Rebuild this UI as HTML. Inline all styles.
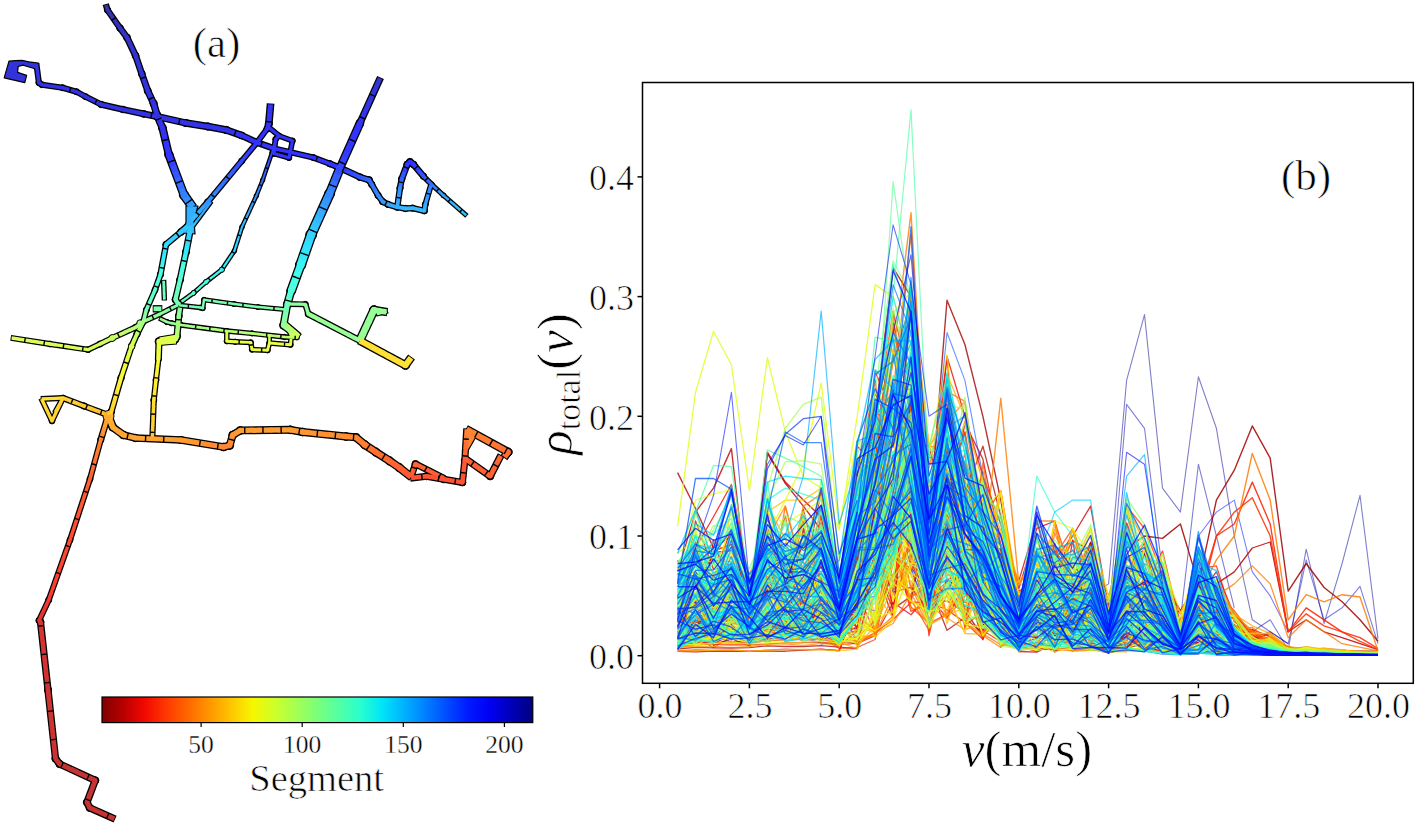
<!DOCTYPE html>
<html><head><meta charset="utf-8"><style>
html,body{margin:0;padding:0;background:#fff;overflow:hidden}
svg{display:block}
</style></head><body>
<svg width="1416" height="826" viewBox="0 0 1416 826">
<rect width="1416" height="826" fill="#fff"/>
<defs><linearGradient id="cb" x1="0" x2="1" y1="0" y2="0"><stop offset="0.000" stop-color="#800000"/><stop offset="0.050" stop-color="#b90000"/><stop offset="0.100" stop-color="#f30900"/><stop offset="0.150" stop-color="#ff3900"/><stop offset="0.200" stop-color="#ff6800"/><stop offset="0.250" stop-color="#ff9700"/><stop offset="0.300" stop-color="#ffc600"/><stop offset="0.350" stop-color="#f7f600"/><stop offset="0.400" stop-color="#ceff29"/><stop offset="0.450" stop-color="#a5ff52"/><stop offset="0.500" stop-color="#7bff7b"/><stop offset="0.550" stop-color="#52ffa5"/><stop offset="0.600" stop-color="#29ffce"/><stop offset="0.650" stop-color="#00e5f7"/><stop offset="0.700" stop-color="#00b3ff"/><stop offset="0.750" stop-color="#0080ff"/><stop offset="0.800" stop-color="#004cff"/><stop offset="0.850" stop-color="#001aff"/><stop offset="0.900" stop-color="#0000f3"/><stop offset="0.950" stop-color="#0000b9"/><stop offset="1.000" stop-color="#000080"/></linearGradient><clipPath id="axclip"><rect x="642.5" y="82.5" width="770.8" height="600.8"/></clipPath></defs>
<g stroke="#000" fill="#000" stroke-linecap="butt"><line x1="105.7" y1="4.1" x2="107.5" y2="10.0" stroke-width="6.4"/><line x1="107.5" y1="10.0" x2="120.0" y2="28.0" stroke-width="6.5"/><line x1="120.0" y1="28.0" x2="127.0" y2="37.5" stroke-width="6.8"/><line x1="127.0" y1="37.5" x2="135.6" y2="55.7" stroke-width="6.9"/><line x1="135.6" y1="55.7" x2="141.8" y2="73.8" stroke-width="6.9"/><line x1="141.8" y1="73.8" x2="147.7" y2="90.7" stroke-width="7.0"/><line x1="147.7" y1="90.7" x2="153.6" y2="103.5" stroke-width="7.2"/><line x1="153.6" y1="103.5" x2="157.0" y2="115.0" stroke-width="7.5"/><line x1="157.0" y1="115.0" x2="162.5" y2="128.0" stroke-width="7.8"/><line x1="162.5" y1="128.0" x2="168.8" y2="154.4" stroke-width="8.2"/><line x1="168.8" y1="154.4" x2="184.0" y2="195.0" stroke-width="8.9"/><line x1="184.0" y1="195.0" x2="193.0" y2="207.7" stroke-width="9.7"/><circle cx="107.5" cy="10.0" r="3.20"/><circle cx="120.0" cy="28.0" r="3.35"/><circle cx="127.0" cy="37.5" r="3.45"/><circle cx="135.6" cy="55.7" r="3.45"/><circle cx="141.8" cy="73.8" r="3.45"/><circle cx="147.7" cy="90.7" r="3.55"/><circle cx="153.6" cy="103.5" r="3.70"/><circle cx="157.0" cy="115.0" r="3.85"/><circle cx="162.5" cy="128.0" r="3.95"/><circle cx="168.8" cy="154.4" r="4.20"/><circle cx="184.0" cy="195.0" r="4.70"/><line x1="36.3" y1="63.1" x2="38.9" y2="82.7" stroke-width="6.1"/><line x1="38.9" y1="82.7" x2="41.9" y2="84.7" stroke-width="6.1"/><line x1="41.9" y1="84.7" x2="62.6" y2="87.7" stroke-width="6.1"/><line x1="62.6" y1="87.7" x2="76.5" y2="91.7" stroke-width="6.1"/><line x1="76.5" y1="91.7" x2="85.4" y2="96.6" stroke-width="6.1"/><line x1="85.4" y1="96.6" x2="101.2" y2="104.5" stroke-width="6.2"/><line x1="101.2" y1="104.5" x2="123.0" y2="109.5" stroke-width="6.5"/><line x1="123.0" y1="109.5" x2="143.7" y2="113.9" stroke-width="6.8"/><line x1="143.7" y1="113.9" x2="157.0" y2="116.5" stroke-width="7.0"/><line x1="157.0" y1="116.5" x2="185.8" y2="123.0" stroke-width="7.2"/><line x1="185.8" y1="123.0" x2="207.8" y2="126.5" stroke-width="7.4"/><line x1="207.8" y1="126.5" x2="226.4" y2="130.0" stroke-width="7.4"/><line x1="226.4" y1="130.0" x2="241.7" y2="135.5" stroke-width="7.2"/><line x1="241.7" y1="135.5" x2="257.0" y2="142.5" stroke-width="7.0"/><line x1="257.0" y1="142.5" x2="274.0" y2="148.5" stroke-width="6.7"/><line x1="274.0" y1="148.5" x2="290.6" y2="152.3" stroke-width="6.2"/><line x1="290.6" y1="152.3" x2="313.2" y2="157.5" stroke-width="6.1"/><line x1="313.2" y1="157.5" x2="329.7" y2="163.7" stroke-width="6.2"/><line x1="329.7" y1="163.7" x2="340.0" y2="167.8" stroke-width="6.7"/><line x1="340.0" y1="167.8" x2="360.0" y2="177.2" stroke-width="6.9"/><line x1="360.0" y1="177.2" x2="369.1" y2="180.0" stroke-width="6.9"/><line x1="369.1" y1="180.0" x2="371.8" y2="184.5" stroke-width="6.7"/><line x1="371.8" y1="184.5" x2="378.1" y2="195.4" stroke-width="6.4"/><line x1="378.1" y1="195.4" x2="382.7" y2="201.7" stroke-width="6.4"/><line x1="382.7" y1="201.7" x2="388.1" y2="204.4" stroke-width="6.4"/><line x1="388.1" y1="204.4" x2="397.2" y2="207.2" stroke-width="6.4"/><line x1="397.2" y1="207.2" x2="405.4" y2="208.5" stroke-width="6.4"/><line x1="405.4" y1="208.5" x2="412.6" y2="208.1" stroke-width="6.4"/><line x1="412.6" y1="208.1" x2="424.4" y2="210.8" stroke-width="6.4"/><line x1="424.4" y1="210.8" x2="425.3" y2="204.4" stroke-width="6.2"/><line x1="425.3" y1="204.4" x2="431.1" y2="184.5" stroke-width="6.0"/><circle cx="38.9" cy="82.7" r="3.05"/><circle cx="41.9" cy="84.7" r="3.05"/><circle cx="62.6" cy="87.7" r="3.05"/><circle cx="76.5" cy="91.7" r="3.05"/><circle cx="85.4" cy="96.6" r="3.05"/><circle cx="101.2" cy="104.5" r="3.20"/><circle cx="123.0" cy="109.5" r="3.35"/><circle cx="143.7" cy="113.9" r="3.45"/><circle cx="157.0" cy="116.5" r="3.55"/><circle cx="185.8" cy="123.0" r="3.70"/><circle cx="207.8" cy="126.5" r="3.70"/><circle cx="226.4" cy="130.0" r="3.70"/><circle cx="241.7" cy="135.5" r="3.55"/><circle cx="257.0" cy="142.5" r="3.45"/><circle cx="274.0" cy="148.5" r="3.20"/><circle cx="290.6" cy="152.3" r="3.05"/><circle cx="313.2" cy="157.5" r="3.05"/><circle cx="329.7" cy="163.7" r="3.20"/><circle cx="340.0" cy="167.8" r="3.45"/><circle cx="360.0" cy="177.2" r="3.45"/><circle cx="369.1" cy="180.0" r="3.45"/><circle cx="371.8" cy="184.5" r="3.20"/><circle cx="378.1" cy="195.4" r="3.20"/><circle cx="382.7" cy="201.7" r="3.20"/><circle cx="388.1" cy="204.4" r="3.20"/><circle cx="397.2" cy="207.2" r="3.20"/><circle cx="405.4" cy="208.5" r="3.20"/><circle cx="412.6" cy="208.1" r="3.20"/><circle cx="424.4" cy="210.8" r="3.20"/><circle cx="425.3" cy="204.4" r="3.05"/><line x1="397.1" y1="208.1" x2="400.0" y2="188.1" stroke-width="6.4"/><line x1="400.0" y1="188.1" x2="401.7" y2="179.0" stroke-width="6.5"/><line x1="401.7" y1="179.0" x2="407.2" y2="164.5" stroke-width="6.8"/><line x1="407.2" y1="164.5" x2="410.0" y2="161.8" stroke-width="6.9"/><line x1="410.0" y1="161.8" x2="413.5" y2="164.5" stroke-width="6.9"/><line x1="413.5" y1="164.5" x2="423.5" y2="176.3" stroke-width="6.7"/><line x1="423.5" y1="176.3" x2="431.7" y2="184.5" stroke-width="5.9"/><line x1="431.7" y1="184.5" x2="443.5" y2="195.4" stroke-width="5.2"/><line x1="443.5" y1="195.4" x2="466.9" y2="215.9" stroke-width="5.0"/><circle cx="400.0" cy="188.1" r="3.20"/><circle cx="401.7" cy="179.0" r="3.35"/><circle cx="407.2" cy="164.5" r="3.45"/><circle cx="410.0" cy="161.8" r="3.45"/><circle cx="413.5" cy="164.5" r="3.45"/><circle cx="423.5" cy="176.3" r="3.20"/><circle cx="431.7" cy="184.5" r="2.70"/><circle cx="443.5" cy="195.4" r="2.55"/><line x1="380.5" y1="77.4" x2="360.0" y2="123.0" stroke-width="7.4"/><line x1="360.0" y1="123.0" x2="340.0" y2="168.0" stroke-width="8.7"/><line x1="340.0" y1="168.0" x2="329.7" y2="193.5" stroke-width="9.7"/><line x1="329.7" y1="193.5" x2="311.2" y2="234.7" stroke-width="10.4"/><line x1="311.2" y1="234.7" x2="300.6" y2="265.0" stroke-width="10.7"/><line x1="300.6" y1="265.0" x2="291.1" y2="291.0" stroke-width="9.7"/><line x1="291.1" y1="291.0" x2="287.3" y2="304.3" stroke-width="8.4"/><line x1="287.3" y1="304.3" x2="283.5" y2="325.3" stroke-width="7.9"/><line x1="283.5" y1="325.3" x2="299.4" y2="337.2" stroke-width="8.2"/><circle cx="360.0" cy="123.0" r="3.95"/><circle cx="340.0" cy="168.0" r="4.70"/><circle cx="329.7" cy="193.5" r="4.95"/><circle cx="311.2" cy="234.7" r="5.45"/><circle cx="300.6" cy="265.0" r="5.20"/><circle cx="291.1" cy="291.0" r="4.45"/><circle cx="287.3" cy="304.3" r="3.95"/><circle cx="283.5" cy="325.3" r="3.95"/><line x1="270.6" y1="103.5" x2="268.8" y2="124.0" stroke-width="7.7"/><line x1="268.8" y1="124.0" x2="267.0" y2="129.0" stroke-width="6.9"/><line x1="267.0" y1="129.0" x2="257.0" y2="142.5" stroke-width="6.2"/><line x1="257.0" y1="142.5" x2="241.7" y2="161.0" stroke-width="6.1"/><line x1="241.7" y1="161.0" x2="207.8" y2="201.9" stroke-width="6.2"/><line x1="207.8" y1="201.9" x2="191.4" y2="220.7" stroke-width="6.4"/><circle cx="268.8" cy="124.0" r="3.70"/><circle cx="267.0" cy="129.0" r="3.20"/><circle cx="257.0" cy="142.5" r="3.05"/><circle cx="241.7" cy="161.0" r="3.05"/><circle cx="207.8" cy="201.9" r="3.20"/><line x1="268.1" y1="126.7" x2="279.0" y2="135.8" stroke-width="5.7"/><line x1="279.0" y1="135.8" x2="292.5" y2="140.8" stroke-width="5.7"/><line x1="292.5" y1="140.8" x2="289.0" y2="157.8" stroke-width="5.7"/><line x1="289.0" y1="157.8" x2="274.0" y2="153.6" stroke-width="5.7"/><line x1="274.0" y1="153.6" x2="275.6" y2="139.2" stroke-width="5.7"/><line x1="275.6" y1="139.2" x2="279.6" y2="135.2" stroke-width="5.7"/><circle cx="279.0" cy="135.8" r="2.85"/><circle cx="292.5" cy="140.8" r="2.85"/><circle cx="289.0" cy="157.8" r="2.85"/><circle cx="274.0" cy="153.6" r="2.85"/><circle cx="275.6" cy="139.2" r="2.85"/><line x1="275.8" y1="138.1" x2="272.0" y2="152.7" stroke-width="4.5"/><line x1="272.0" y1="152.7" x2="262.7" y2="180.0" stroke-width="4.5"/><line x1="262.7" y1="180.0" x2="256.4" y2="195.7" stroke-width="4.5"/><line x1="256.4" y1="195.7" x2="242.0" y2="227.0" stroke-width="4.6"/><line x1="242.0" y1="227.0" x2="234.4" y2="250.8" stroke-width="4.7"/><line x1="234.4" y1="250.8" x2="221.8" y2="269.7" stroke-width="4.8"/><line x1="221.8" y1="269.7" x2="206.0" y2="282.0" stroke-width="4.9"/><line x1="206.0" y1="282.0" x2="193.5" y2="293.0" stroke-width="4.9"/><line x1="193.5" y1="293.0" x2="177.1" y2="304.8" stroke-width="4.9"/><circle cx="272.0" cy="152.7" r="2.25"/><circle cx="262.7" cy="180.0" r="2.25"/><circle cx="256.4" cy="195.7" r="2.25"/><circle cx="242.0" cy="227.0" r="2.35"/><circle cx="234.4" cy="250.8" r="2.35"/><circle cx="221.8" cy="269.7" r="2.45"/><circle cx="206.0" cy="282.0" r="2.45"/><circle cx="193.5" cy="293.0" r="2.45"/><line x1="188.7" y1="225.4" x2="181.0" y2="232.0" stroke-width="7.4"/><line x1="181.0" y1="232.0" x2="166.0" y2="244.5" stroke-width="6.7"/><line x1="166.0" y1="244.5" x2="160.5" y2="274.4" stroke-width="6.4"/><line x1="160.5" y1="274.4" x2="155.0" y2="290.0" stroke-width="6.2"/><line x1="155.0" y1="290.0" x2="146.3" y2="310.0" stroke-width="6.1"/><line x1="146.3" y1="310.0" x2="143.1" y2="322.5" stroke-width="6.1"/><circle cx="181.0" cy="232.0" r="3.45"/><circle cx="166.0" cy="244.5" r="3.25"/><circle cx="160.5" cy="274.4" r="3.15"/><circle cx="155.0" cy="290.0" r="3.05"/><circle cx="146.3" cy="310.0" r="3.05"/><line x1="191.2" y1="225.1" x2="186.0" y2="252.0" stroke-width="7.2"/><line x1="186.0" y1="252.0" x2="180.0" y2="280.0" stroke-width="7.0"/><line x1="180.0" y1="280.0" x2="175.4" y2="299.6" stroke-width="6.9"/><line x1="175.4" y1="299.6" x2="179.3" y2="305.8" stroke-width="6.9"/><circle cx="186.0" cy="252.0" r="3.55"/><circle cx="180.0" cy="280.0" r="3.45"/><circle cx="175.4" cy="299.6" r="3.45"/><line x1="177.9" y1="305.1" x2="200.4" y2="307.6" stroke-width="5.1"/><line x1="200.4" y1="307.6" x2="202.8" y2="308.2" stroke-width="5.1"/><line x1="202.8" y1="308.2" x2="204.0" y2="299.8" stroke-width="5.1"/><line x1="204.0" y1="299.8" x2="234.0" y2="304.0" stroke-width="5.1"/><line x1="234.0" y1="304.0" x2="258.0" y2="307.0" stroke-width="5.1"/><line x1="258.0" y1="307.0" x2="285.4" y2="309.5" stroke-width="5.1"/><circle cx="200.4" cy="307.6" r="2.55"/><circle cx="202.8" cy="308.2" r="2.55"/><circle cx="204.0" cy="299.8" r="2.55"/><circle cx="234.0" cy="304.0" r="2.55"/><circle cx="258.0" cy="307.0" r="2.55"/><line x1="159.2" y1="318.2" x2="166.8" y2="322.0" stroke-width="5.3"/><line x1="166.8" y1="322.0" x2="171.6" y2="323.2" stroke-width="5.3"/><line x1="171.6" y1="323.2" x2="181.2" y2="325.0" stroke-width="5.3"/><line x1="181.2" y1="325.0" x2="226.8" y2="331.0" stroke-width="5.3"/><line x1="226.8" y1="331.0" x2="252.0" y2="333.4" stroke-width="5.3"/><line x1="252.0" y1="333.4" x2="284.5" y2="337.0" stroke-width="5.3"/><line x1="284.5" y1="337.0" x2="298.6" y2="337.6" stroke-width="5.3"/><circle cx="166.8" cy="322.0" r="2.65"/><circle cx="171.6" cy="323.2" r="2.65"/><circle cx="181.2" cy="325.0" r="2.65"/><circle cx="226.8" cy="331.0" r="2.65"/><circle cx="252.0" cy="333.4" r="2.65"/><circle cx="284.5" cy="337.0" r="2.65"/><line x1="226.8" y1="330.1" x2="226.8" y2="341.2" stroke-width="5.5"/><line x1="226.8" y1="341.2" x2="235.2" y2="341.8" stroke-width="5.5"/><line x1="235.2" y1="341.8" x2="250.8" y2="342.4" stroke-width="5.5"/><line x1="250.8" y1="342.4" x2="252.0" y2="349.6" stroke-width="5.5"/><line x1="252.0" y1="349.6" x2="267.6" y2="350.2" stroke-width="5.5"/><line x1="267.6" y1="350.2" x2="269.4" y2="343.0" stroke-width="5.5"/><line x1="269.4" y1="343.0" x2="290.5" y2="344.8" stroke-width="5.5"/><line x1="290.5" y1="344.8" x2="291.1" y2="337.9" stroke-width="5.5"/><circle cx="226.8" cy="341.2" r="2.75"/><circle cx="235.2" cy="341.8" r="2.75"/><circle cx="250.8" cy="342.4" r="2.75"/><circle cx="252.0" cy="349.6" r="2.75"/><circle cx="267.6" cy="350.2" r="2.75"/><circle cx="269.4" cy="343.0" r="2.75"/><circle cx="290.5" cy="344.8" r="2.75"/><line x1="269.4" y1="343.9" x2="269.4" y2="334.3" stroke-width="5.1"/><line x1="180.1" y1="306.7" x2="178.8" y2="316.0" stroke-width="6.9"/><line x1="178.8" y1="316.0" x2="177.0" y2="336.4" stroke-width="7.0"/><line x1="177.0" y1="336.4" x2="175.2" y2="339.0" stroke-width="7.5"/><line x1="175.2" y1="339.0" x2="159.0" y2="341.5" stroke-width="7.9"/><line x1="159.0" y1="341.5" x2="158.4" y2="359.2" stroke-width="7.0"/><line x1="158.4" y1="359.2" x2="156.0" y2="380.0" stroke-width="6.1"/><line x1="156.0" y1="380.0" x2="153.8" y2="400.0" stroke-width="6.1"/><line x1="153.8" y1="400.0" x2="152.3" y2="438.9" stroke-width="6.1"/><circle cx="178.8" cy="316.0" r="3.45"/><circle cx="177.0" cy="336.4" r="3.55"/><circle cx="175.2" cy="339.0" r="3.95"/><circle cx="159.0" cy="341.5" r="3.95"/><circle cx="158.4" cy="359.2" r="3.05"/><circle cx="156.0" cy="380.0" r="3.05"/><circle cx="153.8" cy="400.0" r="3.05"/><line x1="10.7" y1="337.9" x2="50.0" y2="344.0" stroke-width="5.9"/><line x1="50.0" y1="344.0" x2="88.0" y2="349.7" stroke-width="5.9"/><line x1="88.0" y1="349.7" x2="100.0" y2="344.0" stroke-width="6.0"/><line x1="100.0" y1="344.0" x2="112.3" y2="338.0" stroke-width="6.2"/><line x1="112.3" y1="338.0" x2="135.5" y2="327.4" stroke-width="6.2"/><line x1="135.5" y1="327.4" x2="143.3" y2="321.6" stroke-width="6.1"/><line x1="143.3" y1="321.6" x2="160.0" y2="314.0" stroke-width="5.9"/><line x1="160.0" y1="314.0" x2="178.8" y2="304.6" stroke-width="5.6"/><circle cx="50.0" cy="344.0" r="2.95"/><circle cx="88.0" cy="349.7" r="2.95"/><circle cx="100.0" cy="344.0" r="3.05"/><circle cx="112.3" cy="338.0" r="3.20"/><circle cx="135.5" cy="327.4" r="3.05"/><circle cx="143.3" cy="321.6" r="3.05"/><circle cx="160.0" cy="314.0" r="2.85"/><line x1="143.7" y1="320.8" x2="137.0" y2="334.0" stroke-width="6.5"/><line x1="137.0" y1="334.0" x2="131.7" y2="345.8" stroke-width="6.5"/><line x1="131.7" y1="345.8" x2="121.0" y2="378.0" stroke-width="6.5"/><line x1="121.0" y1="378.0" x2="111.3" y2="411.7" stroke-width="6.6"/><line x1="111.3" y1="411.7" x2="107.9" y2="416.3" stroke-width="7.0"/><circle cx="137.0" cy="334.0" r="3.25"/><circle cx="131.7" cy="345.8" r="3.25"/><circle cx="121.0" cy="378.0" r="3.25"/><circle cx="111.3" cy="411.7" r="3.35"/><line x1="40.7" y1="399.0" x2="63.0" y2="398.0" stroke-width="5.9"/><line x1="63.0" y1="398.0" x2="52.0" y2="421.0" stroke-width="5.9"/><line x1="52.0" y1="421.0" x2="41.2" y2="398.2" stroke-width="5.9"/><circle cx="63.0" cy="398.0" r="2.95"/><circle cx="52.0" cy="421.0" r="2.95"/><line x1="63.4" y1="397.2" x2="54.6" y2="412.8" stroke-width="5.4"/><line x1="62.2" y1="397.7" x2="84.0" y2="406.0" stroke-width="6.4"/><line x1="84.0" y1="406.0" x2="105.4" y2="413.9" stroke-width="6.4"/><circle cx="84.0" cy="406.0" r="3.20"/><line x1="107.9" y1="414.4" x2="112.8" y2="427.3" stroke-width="8.4"/><line x1="112.8" y1="427.3" x2="123.4" y2="435.0" stroke-width="7.9"/><line x1="123.4" y1="435.0" x2="135.5" y2="438.0" stroke-width="7.7"/><line x1="135.5" y1="438.0" x2="181.0" y2="440.0" stroke-width="7.4"/><line x1="181.0" y1="440.0" x2="223.6" y2="447.0" stroke-width="7.7"/><line x1="223.6" y1="447.0" x2="229.7" y2="445.5" stroke-width="7.9"/><line x1="229.7" y1="445.5" x2="232.7" y2="435.0" stroke-width="7.9"/><line x1="232.7" y1="435.0" x2="240.3" y2="430.4" stroke-width="7.9"/><line x1="240.3" y1="430.4" x2="290.4" y2="429.8" stroke-width="7.9"/><line x1="290.4" y1="429.8" x2="302.6" y2="432.0" stroke-width="7.9"/><line x1="302.6" y1="432.0" x2="346.0" y2="436.5" stroke-width="7.9"/><line x1="346.0" y1="436.5" x2="356.0" y2="437.3" stroke-width="7.9"/><line x1="356.0" y1="437.3" x2="364.7" y2="444.7" stroke-width="8.2"/><line x1="364.7" y1="444.7" x2="375.8" y2="452.1" stroke-width="8.4"/><line x1="375.8" y1="452.1" x2="389.4" y2="460.8" stroke-width="8.4"/><line x1="389.4" y1="460.8" x2="399.3" y2="467.6" stroke-width="8.4"/><line x1="399.3" y1="467.6" x2="411.8" y2="477.5" stroke-width="8.4"/><circle cx="112.8" cy="427.3" r="3.95"/><circle cx="123.4" cy="435.0" r="3.95"/><circle cx="135.5" cy="438.0" r="3.70"/><circle cx="181.0" cy="440.0" r="3.70"/><circle cx="223.6" cy="447.0" r="3.95"/><circle cx="229.7" cy="445.5" r="3.95"/><circle cx="232.7" cy="435.0" r="3.95"/><circle cx="240.3" cy="430.4" r="3.95"/><circle cx="290.4" cy="429.8" r="3.95"/><circle cx="302.6" cy="432.0" r="3.95"/><circle cx="346.0" cy="436.5" r="3.95"/><circle cx="356.0" cy="437.3" r="3.95"/><circle cx="364.7" cy="444.7" r="4.20"/><circle cx="375.8" cy="452.1" r="4.20"/><circle cx="389.4" cy="460.8" r="4.20"/><circle cx="399.3" cy="467.6" r="4.20"/><line x1="410.8" y1="477.8" x2="415.4" y2="463.9" stroke-width="6.9"/><line x1="415.4" y1="463.9" x2="444.6" y2="478.5" stroke-width="6.9"/><circle cx="415.4" cy="463.9" r="3.45"/><line x1="410.2" y1="478.2" x2="426.5" y2="476.2" stroke-width="7.1"/><line x1="426.5" y1="476.2" x2="443.8" y2="479.3" stroke-width="7.1"/><line x1="443.8" y1="479.3" x2="462.4" y2="482.4" stroke-width="7.1"/><line x1="462.4" y1="482.4" x2="464.8" y2="460.8" stroke-width="7.1"/><line x1="464.8" y1="460.8" x2="466.8" y2="428.4" stroke-width="7.1"/><circle cx="426.5" cy="476.2" r="3.55"/><circle cx="443.8" cy="479.3" r="3.55"/><circle cx="462.4" cy="482.4" r="3.55"/><circle cx="464.8" cy="460.8" r="3.55"/><line x1="465.9" y1="428.9" x2="508.1" y2="452.1" stroke-width="8.4"/><line x1="508.1" y1="452.1" x2="503.9" y2="457.8" stroke-width="8.4"/><circle cx="508.1" cy="452.1" r="4.20"/><line x1="501.1" y1="455.0" x2="490.2" y2="476.2" stroke-width="7.4"/><line x1="490.2" y1="476.2" x2="464.1" y2="457.8" stroke-width="7.4"/><circle cx="490.2" cy="476.2" r="3.70"/><line x1="108.5" y1="414.3" x2="100.7" y2="440.0" stroke-width="6.8"/><line x1="100.7" y1="440.0" x2="90.0" y2="479.0" stroke-width="6.2"/><line x1="90.0" y1="479.0" x2="70.0" y2="540.0" stroke-width="6.1"/><line x1="70.0" y1="540.0" x2="48.7" y2="600.0" stroke-width="6.1"/><line x1="48.7" y1="600.0" x2="39.1" y2="620.5" stroke-width="6.3"/><line x1="39.1" y1="620.5" x2="40.5" y2="622.0" stroke-width="6.8"/><line x1="40.5" y1="622.0" x2="48.0" y2="690.0" stroke-width="7.2"/><line x1="48.0" y1="690.0" x2="55.5" y2="758.6" stroke-width="7.3"/><line x1="55.5" y1="758.6" x2="59.6" y2="764.0" stroke-width="7.4"/><line x1="59.6" y1="764.0" x2="95.2" y2="780.4" stroke-width="7.4"/><line x1="95.2" y1="780.4" x2="87.0" y2="802.3" stroke-width="7.4"/><line x1="87.0" y1="802.3" x2="89.7" y2="807.8" stroke-width="7.4"/><line x1="89.7" y1="807.8" x2="115.1" y2="819.1" stroke-width="7.4"/><circle cx="100.7" cy="440.0" r="3.15"/><circle cx="90.0" cy="479.0" r="3.05"/><circle cx="70.0" cy="540.0" r="3.05"/><circle cx="48.7" cy="600.0" r="3.05"/><circle cx="39.1" cy="620.5" r="3.25"/><circle cx="40.5" cy="622.0" r="3.55"/><circle cx="48.0" cy="690.0" r="3.65"/><circle cx="55.5" cy="758.6" r="3.70"/><circle cx="59.6" cy="764.0" r="3.70"/><circle cx="95.2" cy="780.4" r="3.70"/><circle cx="87.0" cy="802.3" r="3.70"/><circle cx="89.7" cy="807.8" r="3.70"/><line x1="286.1" y1="304.0" x2="305.4" y2="304.3" stroke-width="5.8"/><line x1="305.4" y1="304.3" x2="308.3" y2="313.9" stroke-width="6.2"/><line x1="308.3" y1="313.9" x2="360.6" y2="341.0" stroke-width="6.9"/><circle cx="305.4" cy="304.3" r="2.95"/><circle cx="308.3" cy="313.9" r="3.20"/><line x1="359.4" y1="341.4" x2="374.0" y2="310.0" stroke-width="9.2"/><line x1="374.0" y1="310.0" x2="387.4" y2="312.1" stroke-width="8.4"/><circle cx="374.0" cy="310.0" r="4.45"/><line x1="359.0" y1="340.2" x2="405.5" y2="365.3" stroke-width="8.4"/><line x1="405.5" y1="365.3" x2="411.5" y2="357.0" stroke-width="8.4"/><circle cx="405.5" cy="365.3" r="4.20"/><line x1="163.6" y1="279.8" x2="164.4" y2="300.5" stroke-width="5.4"/><line x1="152.7" y1="308.8" x2="162.3" y2="308.8" stroke-width="7.4"/><line x1="211.5" y1="201.3" x2="192.5" y2="226.7" stroke-width="4.9"/></g>
<polygon points="9.0,61.2 15.7,60.6 21.8,60.3 29.0,61.8 38.1,63.0 37.0,70.0 33.3,68.2 23.0,65.1 18.2,66.3 17.6,72.4 26.6,75.4 24.8,82.7 4.2,77.8" fill="#3333da" stroke="#000" stroke-width="1.2" stroke-linejoin="round"/>
<polygon points="186.0,206.0 198.0,206.0 194.0,221.0 195.0,234.0 183.0,233.0 186.0,222.0" fill="#33b1ff" stroke="#000" stroke-width="1.2" stroke-linejoin="round"/>
<polygon points="466.7,429.3 477.2,434.8 463.6,458.3" fill="#ff8633" stroke="#000" stroke-width="1.2" stroke-linejoin="round"/>
<polygon points="159.0,337.0 177.0,334.0 176.5,344.0 159.0,345.5" fill="#e5ff47" stroke="#000" stroke-width="1.2" stroke-linejoin="round"/>
<polygon points="283.0,322.0 287.0,322.0 300.0,333.0 299.0,339.0 290.0,338.0" fill="#caff61" stroke="#000" stroke-width="1.2" stroke-linejoin="round"/>
<polygon points="373.0,307.0 386.0,309.0 388.0,313.0 377.0,316.0" fill="#96ff96" stroke="#000" stroke-width="1.2" stroke-linejoin="round"/>
<circle cx="112.3" cy="338.0" r="3.4" fill="#caff61" stroke="#000" stroke-width="1"/>
<circle cx="131.7" cy="346.5" r="3.2" fill="#d8ff54" stroke="#000" stroke-width="1"/>
<circle cx="140.0" cy="323.0" r="3.2" fill="#a3ff89" stroke="#000" stroke-width="1"/>
<circle cx="221.8" cy="269.7" r="2.6" fill="#3af3f2" stroke="#000" stroke-width="1"/>
<circle cx="206.0" cy="282.0" r="2.4" fill="#47ffe5" stroke="#000" stroke-width="1"/>
<circle cx="193.5" cy="293.0" r="2.4" fill="#5affd1" stroke="#000" stroke-width="1"/>
<circle cx="108.5" cy="416.0" r="5.5" fill="#ffac33" stroke="#000" stroke-width="1"/>
<g stroke-linecap="butt" fill="none"><line x1="106.0" y1="5.0" x2="107.5" y2="10.0" stroke="#3333b0" stroke-width="3.8"/><line x1="107.5" y1="10.0" x2="111.8" y2="16.2" stroke="#3333b6" stroke-width="3.9"/><line x1="111.5" y1="15.8" x2="116.0" y2="22.2" stroke="#3333b9" stroke-width="3.9"/><line x1="115.7" y1="21.8" x2="120.0" y2="28.0" stroke="#3333bd" stroke-width="3.9"/><line x1="120.0" y1="28.0" x2="127.0" y2="37.5" stroke="#3333c3" stroke-width="4.2"/><line x1="127.0" y1="37.5" x2="130.0" y2="43.8" stroke="#3333c9" stroke-width="4.3"/><line x1="129.7" y1="43.3" x2="132.9" y2="49.9" stroke="#3333cc" stroke-width="4.3"/><line x1="132.6" y1="49.4" x2="135.6" y2="55.7" stroke="#3333cf" stroke-width="4.3"/><line x1="135.6" y1="55.7" x2="137.8" y2="62.0" stroke="#3333d2" stroke-width="4.3"/><line x1="137.6" y1="61.4" x2="139.8" y2="68.1" stroke="#3333d5" stroke-width="4.3"/><line x1="139.6" y1="67.5" x2="141.8" y2="73.8" stroke="#3333d8" stroke-width="4.3"/><line x1="141.8" y1="73.8" x2="144.8" y2="82.5" stroke="#3333db" stroke-width="4.4"/><line x1="144.7" y1="82.0" x2="147.7" y2="90.7" stroke="#3333dd" stroke-width="4.4"/><line x1="147.7" y1="90.7" x2="150.8" y2="97.4" stroke="#3333e0" stroke-width="4.7"/><line x1="150.5" y1="96.8" x2="153.6" y2="103.5" stroke="#3333e2" stroke-width="4.7"/><line x1="153.6" y1="103.5" x2="157.0" y2="115.0" stroke="#3333e6" stroke-width="4.9"/><line x1="157.0" y1="115.0" x2="159.9" y2="121.8" stroke="#3333e9" stroke-width="5.2"/><line x1="159.6" y1="121.2" x2="162.5" y2="128.0" stroke="#3333eb" stroke-width="5.2"/><line x1="162.5" y1="128.0" x2="164.1" y2="134.9" stroke="#3333f0" stroke-width="5.5"/><line x1="164.0" y1="134.3" x2="165.7" y2="141.5" stroke="#3333f7" stroke-width="5.5"/><line x1="165.6" y1="140.9" x2="167.3" y2="148.1" stroke="#3333fe" stroke-width="5.5"/><line x1="167.2" y1="147.5" x2="168.8" y2="154.4" stroke="#3333ff" stroke-width="5.5"/><line x1="168.8" y1="154.4" x2="171.1" y2="160.5" stroke="#3335ff" stroke-width="6.3"/><line x1="170.9" y1="159.9" x2="173.2" y2="166.3" stroke="#3340ff" stroke-width="6.3"/><line x1="173.0" y1="165.7" x2="175.4" y2="172.1" stroke="#334cff" stroke-width="6.3"/><line x1="175.2" y1="171.5" x2="177.6" y2="177.9" stroke="#3358ff" stroke-width="6.3"/><line x1="177.4" y1="177.3" x2="179.8" y2="183.7" stroke="#3363ff" stroke-width="6.3"/><line x1="179.6" y1="183.1" x2="181.9" y2="189.5" stroke="#336fff" stroke-width="6.3"/><line x1="181.7" y1="188.9" x2="184.0" y2="195.0" stroke="#337bff" stroke-width="6.3"/><line x1="184.0" y1="195.0" x2="188.4" y2="201.2" stroke="#338bff" stroke-width="7.1"/><line x1="188.1" y1="200.8" x2="192.5" y2="207.0" stroke="#339fff" stroke-width="7.1"/><circle cx="107.5" cy="10.0" r="1.90" fill="#3333b5"/><circle cx="120.0" cy="28.0" r="2.05" fill="#3333be"/><circle cx="127.0" cy="37.5" r="2.15" fill="#3333c7"/><circle cx="135.6" cy="55.7" r="2.15" fill="#3333d1"/><circle cx="141.8" cy="73.8" r="2.15" fill="#3333da"/><circle cx="147.7" cy="90.7" r="2.25" fill="#3333df"/><circle cx="153.6" cy="103.5" r="2.40" fill="#3333e3"/><circle cx="157.0" cy="115.0" r="2.55" fill="#3333e8"/><circle cx="162.5" cy="128.0" r="2.65" fill="#3333ec"/><circle cx="168.8" cy="154.4" r="2.90" fill="#3333ff"/><circle cx="184.0" cy="195.0" r="3.40" fill="#3381ff"/><line x1="36.4" y1="64.0" x2="37.3" y2="70.5" stroke="#3333e3" stroke-width="3.5"/><line x1="37.2" y1="69.9" x2="38.1" y2="76.8" stroke="#3333e3" stroke-width="3.5"/><line x1="38.0" y1="76.2" x2="38.9" y2="82.7" stroke="#3333e3" stroke-width="3.5"/><line x1="38.9" y1="82.7" x2="41.9" y2="84.7" stroke="#3333e3" stroke-width="3.5"/><line x1="41.9" y1="84.7" x2="49.1" y2="85.7" stroke="#3333e3" stroke-width="3.5"/><line x1="48.5" y1="85.7" x2="56.0" y2="86.7" stroke="#3333e3" stroke-width="3.5"/><line x1="55.4" y1="86.7" x2="62.6" y2="87.7" stroke="#3333e3" stroke-width="3.5"/><line x1="62.6" y1="87.7" x2="69.8" y2="89.8" stroke="#3333e3" stroke-width="3.5"/><line x1="69.3" y1="89.6" x2="76.5" y2="91.7" stroke="#3333e3" stroke-width="3.5"/><line x1="76.5" y1="91.7" x2="85.4" y2="96.6" stroke="#3333e3" stroke-width="3.5"/><line x1="85.4" y1="96.6" x2="93.6" y2="100.7" stroke="#3333e3" stroke-width="3.7"/><line x1="93.0" y1="100.4" x2="101.2" y2="104.5" stroke="#3333e3" stroke-width="3.7"/><line x1="101.2" y1="104.5" x2="108.8" y2="106.2" stroke="#3333e3" stroke-width="3.9"/><line x1="108.2" y1="106.1" x2="116.0" y2="107.9" stroke="#3333e3" stroke-width="3.9"/><line x1="115.4" y1="107.8" x2="123.0" y2="109.5" stroke="#3333e3" stroke-width="3.9"/><line x1="123.0" y1="109.5" x2="130.2" y2="111.0" stroke="#3333e3" stroke-width="4.2"/><line x1="129.6" y1="110.9" x2="137.1" y2="112.5" stroke="#3333e3" stroke-width="4.2"/><line x1="136.5" y1="112.4" x2="143.7" y2="113.9" stroke="#3333e3" stroke-width="4.2"/><line x1="143.7" y1="113.9" x2="150.6" y2="115.3" stroke="#3333e3" stroke-width="4.4"/><line x1="150.1" y1="115.1" x2="157.0" y2="116.5" stroke="#3333e3" stroke-width="4.4"/><line x1="157.0" y1="116.5" x2="164.5" y2="118.2" stroke="#3333e4" stroke-width="4.7"/><line x1="163.9" y1="118.1" x2="171.7" y2="119.8" stroke="#3333e5" stroke-width="4.7"/><line x1="171.1" y1="119.7" x2="178.9" y2="121.4" stroke="#3333e6" stroke-width="4.7"/><line x1="178.3" y1="121.3" x2="185.8" y2="123.0" stroke="#3333e7" stroke-width="4.7"/><line x1="185.8" y1="123.0" x2="193.4" y2="124.2" stroke="#3333e9" stroke-width="4.8"/><line x1="192.8" y1="124.1" x2="200.8" y2="125.4" stroke="#3333ea" stroke-width="4.8"/><line x1="200.2" y1="125.3" x2="207.8" y2="126.5" stroke="#3333ec" stroke-width="4.8"/><line x1="207.8" y1="126.5" x2="214.3" y2="127.7" stroke="#3333ec" stroke-width="4.8"/><line x1="213.7" y1="127.6" x2="220.5" y2="128.9" stroke="#3333ec" stroke-width="4.8"/><line x1="219.9" y1="128.8" x2="226.4" y2="130.0" stroke="#3333ec" stroke-width="4.8"/><line x1="226.4" y1="130.0" x2="234.3" y2="132.9" stroke="#3333ef" stroke-width="4.7"/><line x1="233.8" y1="132.6" x2="241.7" y2="135.5" stroke="#3333f3" stroke-width="4.7"/><line x1="241.7" y1="135.5" x2="249.6" y2="139.1" stroke="#3333f6" stroke-width="4.4"/><line x1="249.1" y1="138.9" x2="257.0" y2="142.5" stroke="#3333f6" stroke-width="4.4"/><line x1="257.0" y1="142.5" x2="262.9" y2="144.6" stroke="#3333f7" stroke-width="4.0"/><line x1="262.4" y1="144.4" x2="268.6" y2="146.6" stroke="#3333fa" stroke-width="4.0"/><line x1="268.1" y1="146.4" x2="274.0" y2="148.5" stroke="#3333fd" stroke-width="4.0"/><line x1="274.0" y1="148.5" x2="282.6" y2="150.5" stroke="#3333ff" stroke-width="3.7"/><line x1="282.0" y1="150.3" x2="290.6" y2="152.3" stroke="#3333ff" stroke-width="3.7"/><line x1="290.6" y1="152.3" x2="298.4" y2="154.1" stroke="#3333ff" stroke-width="3.5"/><line x1="297.8" y1="154.0" x2="306.0" y2="155.8" stroke="#3333ff" stroke-width="3.5"/><line x1="305.4" y1="155.7" x2="313.2" y2="157.5" stroke="#3333ff" stroke-width="3.5"/><line x1="313.2" y1="157.5" x2="321.7" y2="160.7" stroke="#3333ff" stroke-width="3.7"/><line x1="321.2" y1="160.5" x2="329.7" y2="163.7" stroke="#3333ff" stroke-width="3.7"/><line x1="329.7" y1="163.7" x2="340.0" y2="167.8" stroke="#3333ff" stroke-width="4.0"/><line x1="340.0" y1="167.8" x2="346.9" y2="171.1" stroke="#333dff" stroke-width="4.3"/><line x1="346.4" y1="170.8" x2="353.6" y2="174.2" stroke="#3347ff" stroke-width="4.3"/><line x1="353.1" y1="173.9" x2="360.0" y2="177.2" stroke="#3352ff" stroke-width="4.3"/><line x1="360.0" y1="177.2" x2="369.1" y2="180.0" stroke="#3360ff" stroke-width="4.3"/><line x1="369.1" y1="180.0" x2="371.8" y2="184.5" stroke="#336cff" stroke-width="4.0"/><line x1="371.8" y1="184.5" x2="375.1" y2="190.2" stroke="#3376ff" stroke-width="3.8"/><line x1="374.8" y1="189.7" x2="378.1" y2="195.4" stroke="#3383ff" stroke-width="3.8"/><line x1="378.1" y1="195.4" x2="382.7" y2="201.7" stroke="#3391ff" stroke-width="3.8"/><line x1="382.7" y1="201.7" x2="388.1" y2="204.4" stroke="#339dff" stroke-width="3.8"/><line x1="388.1" y1="204.4" x2="397.2" y2="207.2" stroke="#33a9ff" stroke-width="3.8"/><line x1="397.2" y1="207.2" x2="405.4" y2="208.5" stroke="#33b6ff" stroke-width="3.8"/><line x1="405.4" y1="208.5" x2="412.6" y2="208.1" stroke="#33baff" stroke-width="3.8"/><line x1="412.6" y1="208.1" x2="418.8" y2="209.5" stroke="#33baff" stroke-width="3.8"/><line x1="418.2" y1="209.4" x2="424.4" y2="210.8" stroke="#33baff" stroke-width="3.8"/><line x1="424.4" y1="210.8" x2="425.3" y2="204.4" stroke="#33b1ff" stroke-width="3.7"/><line x1="425.3" y1="204.4" x2="427.2" y2="197.8" stroke="#33a3ff" stroke-width="3.4"/><line x1="427.0" y1="198.4" x2="429.1" y2="191.4" stroke="#3395ff" stroke-width="3.4"/><line x1="428.9" y1="192.0" x2="430.8" y2="185.4" stroke="#3387ff" stroke-width="3.4"/><circle cx="38.9" cy="82.7" r="1.75" fill="#3333e3"/><circle cx="41.9" cy="84.7" r="1.75" fill="#3333e3"/><circle cx="62.6" cy="87.7" r="1.75" fill="#3333e3"/><circle cx="76.5" cy="91.7" r="1.75" fill="#3333e3"/><circle cx="85.4" cy="96.6" r="1.75" fill="#3333e3"/><circle cx="101.2" cy="104.5" r="1.90" fill="#3333e3"/><circle cx="123.0" cy="109.5" r="2.05" fill="#3333e3"/><circle cx="143.7" cy="113.9" r="2.15" fill="#3333e3"/><circle cx="157.0" cy="116.5" r="2.25" fill="#3333e3"/><circle cx="185.8" cy="123.0" r="2.40" fill="#3333e8"/><circle cx="207.8" cy="126.5" r="2.40" fill="#3333ec"/><circle cx="226.4" cy="130.0" r="2.40" fill="#3333ec"/><circle cx="241.7" cy="135.5" r="2.25" fill="#3333f6"/><circle cx="257.0" cy="142.5" r="2.15" fill="#3333f6"/><circle cx="274.0" cy="148.5" r="1.90" fill="#3333ff"/><circle cx="290.6" cy="152.3" r="1.75" fill="#3333ff"/><circle cx="313.2" cy="157.5" r="1.75" fill="#3333ff"/><circle cx="329.7" cy="163.7" r="1.90" fill="#3333ff"/><circle cx="340.0" cy="167.8" r="2.15" fill="#3337ff"/><circle cx="360.0" cy="177.2" r="2.15" fill="#3358ff"/><circle cx="369.1" cy="180.0" r="2.15" fill="#3368ff"/><circle cx="371.8" cy="184.5" r="1.90" fill="#3370ff"/><circle cx="378.1" cy="195.4" r="1.90" fill="#3389ff"/><circle cx="382.7" cy="201.7" r="1.90" fill="#3399ff"/><circle cx="388.1" cy="204.4" r="1.90" fill="#33a1ff"/><circle cx="397.2" cy="207.2" r="1.90" fill="#33b1ff"/><circle cx="405.4" cy="208.5" r="1.90" fill="#33baff"/><circle cx="412.6" cy="208.1" r="1.90" fill="#33baff"/><circle cx="424.4" cy="210.8" r="1.90" fill="#33baff"/><circle cx="425.3" cy="204.4" r="1.75" fill="#33a9ff"/><line x1="397.2" y1="207.2" x2="398.2" y2="200.5" stroke="#33acff" stroke-width="3.8"/><line x1="398.1" y1="201.1" x2="399.1" y2="194.2" stroke="#33a1ff" stroke-width="3.8"/><line x1="399.0" y1="194.8" x2="400.0" y2="188.1" stroke="#3396ff" stroke-width="3.8"/><line x1="400.0" y1="188.1" x2="401.7" y2="179.0" stroke="#3378ff" stroke-width="3.9"/><line x1="401.7" y1="179.0" x2="404.6" y2="171.5" stroke="#3356ff" stroke-width="4.2"/><line x1="404.3" y1="172.0" x2="407.2" y2="164.5" stroke="#3341ff" stroke-width="4.2"/><line x1="407.2" y1="164.5" x2="410.0" y2="161.8" stroke="#3333ff" stroke-width="4.3"/><line x1="410.0" y1="161.8" x2="413.5" y2="164.5" stroke="#3333ff" stroke-width="4.3"/><line x1="413.5" y1="164.5" x2="418.7" y2="170.6" stroke="#333fff" stroke-width="4.0"/><line x1="418.3" y1="170.2" x2="423.5" y2="176.3" stroke="#3350ff" stroke-width="4.0"/><line x1="423.5" y1="176.3" x2="431.7" y2="184.5" stroke="#3364ff" stroke-width="3.3"/><line x1="431.7" y1="184.5" x2="437.8" y2="190.2" stroke="#337eff" stroke-width="2.7"/><line x1="437.4" y1="189.7" x2="443.5" y2="195.4" stroke="#339bff" stroke-width="2.7"/><line x1="443.5" y1="195.4" x2="448.3" y2="199.6" stroke="#33adff" stroke-width="2.4"/><line x1="447.8" y1="199.2" x2="452.8" y2="203.6" stroke="#33b3ff" stroke-width="2.4"/><line x1="452.4" y1="203.2" x2="457.3" y2="207.5" stroke="#33baff" stroke-width="2.4"/><line x1="456.9" y1="207.1" x2="461.9" y2="211.5" stroke="#33c0ff" stroke-width="2.4"/><line x1="461.4" y1="211.1" x2="466.2" y2="215.3" stroke="#33c7ff" stroke-width="2.4"/><circle cx="400.0" cy="188.1" r="1.90" fill="#3391ff"/><circle cx="401.7" cy="179.0" r="2.05" fill="#3360ff"/><circle cx="407.2" cy="164.5" r="2.15" fill="#3337ff"/><circle cx="410.0" cy="161.8" r="2.15" fill="#3333ff"/><circle cx="413.5" cy="164.5" r="2.15" fill="#3337ff"/><circle cx="423.5" cy="176.3" r="1.90" fill="#3358ff"/><circle cx="431.7" cy="184.5" r="1.40" fill="#3370ff"/><circle cx="443.5" cy="195.4" r="1.25" fill="#33a9ff"/><line x1="380.1" y1="78.2" x2="377.5" y2="84.1" stroke="#3333d3" stroke-width="4.8"/><line x1="377.7" y1="83.5" x2="375.0" y2="89.7" stroke="#3333d8" stroke-width="4.8"/><line x1="375.2" y1="89.1" x2="372.4" y2="95.3" stroke="#3333dc" stroke-width="4.8"/><line x1="372.7" y1="94.7" x2="369.9" y2="100.9" stroke="#3333e1" stroke-width="4.8"/><line x1="370.2" y1="100.3" x2="367.4" y2="106.5" stroke="#3333e6" stroke-width="4.8"/><line x1="367.7" y1="105.9" x2="364.9" y2="112.1" stroke="#3333ea" stroke-width="4.8"/><line x1="365.1" y1="111.5" x2="362.4" y2="117.7" stroke="#3333ef" stroke-width="4.8"/><line x1="362.6" y1="117.1" x2="360.0" y2="123.0" stroke="#3333f3" stroke-width="4.8"/><line x1="360.0" y1="123.0" x2="357.4" y2="128.9" stroke="#3333f9" stroke-width="6.1"/><line x1="357.6" y1="128.4" x2="354.9" y2="134.5" stroke="#3333fe" stroke-width="6.1"/><line x1="355.1" y1="134.0" x2="352.4" y2="140.1" stroke="#3333ff" stroke-width="6.1"/><line x1="352.6" y1="139.6" x2="349.9" y2="145.8" stroke="#3333ff" stroke-width="6.1"/><line x1="350.1" y1="145.2" x2="347.4" y2="151.4" stroke="#3336ff" stroke-width="6.1"/><line x1="347.6" y1="150.9" x2="344.9" y2="157.0" stroke="#333bff" stroke-width="6.1"/><line x1="345.1" y1="156.5" x2="342.4" y2="162.6" stroke="#3340ff" stroke-width="6.1"/><line x1="342.6" y1="162.1" x2="340.0" y2="168.0" stroke="#3345ff" stroke-width="6.1"/><line x1="340.0" y1="168.0" x2="337.3" y2="174.7" stroke="#3350ff" stroke-width="7.1"/><line x1="337.5" y1="174.1" x2="334.7" y2="181.0" stroke="#3360ff" stroke-width="7.1"/><line x1="335.0" y1="180.5" x2="332.2" y2="187.4" stroke="#3370ff" stroke-width="7.1"/><line x1="332.4" y1="186.8" x2="329.7" y2="193.5" stroke="#3381ff" stroke-width="7.1"/><line x1="329.7" y1="193.5" x2="326.9" y2="199.7" stroke="#338eff" stroke-width="7.8"/><line x1="327.2" y1="199.1" x2="324.3" y2="205.5" stroke="#3398ff" stroke-width="7.8"/><line x1="324.5" y1="205.0" x2="321.6" y2="211.4" stroke="#33a3ff" stroke-width="7.8"/><line x1="321.9" y1="210.9" x2="319.0" y2="217.3" stroke="#33adff" stroke-width="7.8"/><line x1="319.3" y1="216.8" x2="316.4" y2="223.2" stroke="#33b8ff" stroke-width="7.8"/><line x1="316.6" y1="222.7" x2="313.7" y2="229.1" stroke="#33c2ff" stroke-width="7.8"/><line x1="314.0" y1="228.5" x2="311.2" y2="234.7" stroke="#33cdff" stroke-width="7.8"/><line x1="311.2" y1="234.7" x2="309.0" y2="241.0" stroke="#33d5ff" stroke-width="8.1"/><line x1="309.2" y1="240.5" x2="306.9" y2="247.1" stroke="#33dcff" stroke-width="8.1"/><line x1="307.1" y1="246.5" x2="304.7" y2="253.2" stroke="#33e2ff" stroke-width="8.1"/><line x1="304.9" y1="252.6" x2="302.6" y2="259.2" stroke="#33e9fa" stroke-width="8.1"/><line x1="302.8" y1="258.7" x2="300.6" y2="265.0" stroke="#37eff4" stroke-width="8.1"/><line x1="300.6" y1="265.0" x2="298.1" y2="271.8" stroke="#3cf6ef" stroke-width="7.1"/><line x1="298.3" y1="271.2" x2="295.7" y2="278.3" stroke="#41fcea" stroke-width="7.1"/><line x1="296.0" y1="277.7" x2="293.4" y2="284.8" stroke="#46ffe6" stroke-width="7.1"/><line x1="293.6" y1="284.2" x2="291.1" y2="291.0" stroke="#4bffe1" stroke-width="7.1"/><line x1="291.1" y1="291.0" x2="289.1" y2="297.9" stroke="#54ffd8" stroke-width="5.8"/><line x1="289.3" y1="297.4" x2="287.3" y2="304.3" stroke="#61ffca" stroke-width="5.8"/><line x1="287.3" y1="304.3" x2="286.0" y2="311.6" stroke="#6fffbc" stroke-width="5.3"/><line x1="286.1" y1="311.0" x2="284.7" y2="318.6" stroke="#7fffad" stroke-width="5.3"/><line x1="284.8" y1="318.0" x2="283.5" y2="325.3" stroke="#8eff9d" stroke-width="5.3"/><line x1="283.5" y1="325.3" x2="288.8" y2="329.3" stroke="#a1ff8b" stroke-width="5.5"/><line x1="288.3" y1="328.9" x2="293.9" y2="333.1" stroke="#b7ff75" stroke-width="5.5"/><line x1="293.4" y1="332.7" x2="298.7" y2="336.7" stroke="#cdff5f" stroke-width="5.5"/><circle cx="360.0" cy="123.0" r="2.65" fill="#3333f6"/><circle cx="340.0" cy="168.0" r="3.40" fill="#3347ff"/><circle cx="329.7" cy="193.5" r="3.65" fill="#3389ff"/><circle cx="311.2" cy="234.7" r="4.15" fill="#33d2ff"/><circle cx="300.6" cy="265.0" r="3.90" fill="#3af3f2"/><circle cx="291.1" cy="291.0" r="3.15" fill="#4dffde"/><circle cx="287.3" cy="304.3" r="2.65" fill="#68ffc4"/><circle cx="283.5" cy="325.3" r="2.65" fill="#96ff96"/><line x1="270.5" y1="104.4" x2="269.9" y2="111.2" stroke="#3333f6" stroke-width="5.0"/><line x1="270.0" y1="110.6" x2="269.3" y2="117.8" stroke="#3333f6" stroke-width="5.0"/><line x1="269.4" y1="117.2" x2="268.8" y2="124.0" stroke="#3333f6" stroke-width="5.0"/><line x1="268.8" y1="124.0" x2="267.0" y2="129.0" stroke="#3333fa" stroke-width="4.3"/><line x1="267.0" y1="129.0" x2="261.8" y2="136.0" stroke="#3333ff" stroke-width="3.7"/><line x1="262.2" y1="135.5" x2="257.0" y2="142.5" stroke="#3333ff" stroke-width="3.7"/><line x1="257.0" y1="142.5" x2="253.0" y2="147.4" stroke="#3333ff" stroke-width="3.5"/><line x1="253.4" y1="146.9" x2="249.2" y2="152.0" stroke="#3338ff" stroke-width="3.5"/><line x1="249.5" y1="151.5" x2="245.3" y2="156.6" stroke="#333eff" stroke-width="3.5"/><line x1="245.7" y1="156.1" x2="241.7" y2="161.0" stroke="#3344ff" stroke-width="3.5"/><line x1="241.7" y1="161.0" x2="237.3" y2="166.3" stroke="#334cff" stroke-width="3.7"/><line x1="237.7" y1="165.9" x2="233.0" y2="171.5" stroke="#3355ff" stroke-width="3.7"/><line x1="233.4" y1="171.0" x2="228.8" y2="176.6" stroke="#335eff" stroke-width="3.7"/><line x1="229.2" y1="176.1" x2="224.6" y2="181.7" stroke="#3368ff" stroke-width="3.7"/><line x1="224.9" y1="181.2" x2="220.3" y2="186.8" stroke="#3371ff" stroke-width="3.7"/><line x1="220.7" y1="186.3" x2="216.1" y2="191.9" stroke="#337aff" stroke-width="3.7"/><line x1="216.5" y1="191.4" x2="211.8" y2="197.0" stroke="#3383ff" stroke-width="3.7"/><line x1="212.2" y1="196.6" x2="207.8" y2="201.9" stroke="#338cff" stroke-width="3.7"/><line x1="207.8" y1="201.9" x2="203.7" y2="206.7" stroke="#3397ff" stroke-width="3.8"/><line x1="204.0" y1="206.2" x2="199.7" y2="211.2" stroke="#33a3ff" stroke-width="3.8"/><line x1="200.1" y1="210.7" x2="195.8" y2="215.7" stroke="#33afff" stroke-width="3.8"/><line x1="196.1" y1="215.2" x2="192.0" y2="220.0" stroke="#33bcff" stroke-width="3.8"/><circle cx="268.8" cy="124.0" r="2.40" fill="#3333f6"/><circle cx="267.0" cy="129.0" r="1.90" fill="#3333ff"/><circle cx="257.0" cy="142.5" r="1.75" fill="#3333ff"/><circle cx="241.7" cy="161.0" r="1.75" fill="#3347ff"/><circle cx="207.8" cy="201.9" r="1.90" fill="#3391ff"/><line x1="268.8" y1="127.3" x2="274.1" y2="131.7" stroke="#3333f6" stroke-width="3.1"/><line x1="273.7" y1="131.4" x2="279.0" y2="135.8" stroke="#3333f6" stroke-width="3.1"/><line x1="279.0" y1="135.8" x2="286.0" y2="138.4" stroke="#3333f6" stroke-width="3.1"/><line x1="285.5" y1="138.2" x2="292.5" y2="140.8" stroke="#3333f6" stroke-width="3.1"/><line x1="292.5" y1="140.8" x2="290.7" y2="149.6" stroke="#3333f8" stroke-width="3.1"/><line x1="290.8" y1="149.0" x2="289.0" y2="157.8" stroke="#3333fd" stroke-width="3.1"/><line x1="289.0" y1="157.8" x2="281.2" y2="155.6" stroke="#3333ff" stroke-width="3.1"/><line x1="281.8" y1="155.8" x2="274.0" y2="153.6" stroke="#3333ff" stroke-width="3.1"/><line x1="274.0" y1="153.6" x2="274.8" y2="146.1" stroke="#3333ff" stroke-width="3.1"/><line x1="274.8" y1="146.7" x2="275.6" y2="139.2" stroke="#3333ff" stroke-width="3.1"/><line x1="275.6" y1="139.2" x2="279.0" y2="135.8" stroke="#3333ff" stroke-width="3.1"/><circle cx="279.0" cy="135.8" r="1.55" fill="#3333f6"/><circle cx="292.5" cy="140.8" r="1.55" fill="#3333f6"/><circle cx="289.0" cy="157.8" r="1.55" fill="#3333ff"/><circle cx="274.0" cy="153.6" r="1.55" fill="#3333ff"/><circle cx="275.6" cy="139.2" r="1.55" fill="#3333ff"/><line x1="275.6" y1="139.0" x2="273.7" y2="146.1" stroke="#3333ff" stroke-width="1.9"/><line x1="273.9" y1="145.6" x2="272.0" y2="152.7" stroke="#333bff" stroke-width="1.9"/><line x1="272.0" y1="152.7" x2="269.6" y2="159.8" stroke="#3345ff" stroke-width="1.9"/><line x1="269.8" y1="159.2" x2="267.3" y2="166.6" stroke="#3352ff" stroke-width="1.9"/><line x1="267.4" y1="166.1" x2="264.9" y2="173.5" stroke="#335eff" stroke-width="1.9"/><line x1="265.1" y1="172.9" x2="262.7" y2="180.0" stroke="#336aff" stroke-width="1.9"/><line x1="262.7" y1="180.0" x2="259.4" y2="188.1" stroke="#3378ff" stroke-width="1.9"/><line x1="259.7" y1="187.6" x2="256.4" y2="195.7" stroke="#3389ff" stroke-width="1.9"/><line x1="256.4" y1="195.7" x2="253.4" y2="202.2" stroke="#3396ff" stroke-width="2.0"/><line x1="253.6" y1="201.7" x2="250.5" y2="208.5" stroke="#33a0ff" stroke-width="2.0"/><line x1="250.8" y1="207.9" x2="247.6" y2="214.8" stroke="#33a9ff" stroke-width="2.0"/><line x1="247.9" y1="214.2" x2="244.8" y2="221.0" stroke="#33b3ff" stroke-width="2.0"/><line x1="245.0" y1="220.5" x2="242.0" y2="227.0" stroke="#33bdff" stroke-width="2.0"/><line x1="242.0" y1="227.0" x2="240.0" y2="233.2" stroke="#33c5ff" stroke-width="2.1"/><line x1="240.2" y1="232.7" x2="238.1" y2="239.2" stroke="#33cbff" stroke-width="2.1"/><line x1="238.3" y1="238.6" x2="236.2" y2="245.1" stroke="#33d1ff" stroke-width="2.1"/><line x1="236.4" y1="244.6" x2="234.4" y2="250.8" stroke="#33d7ff" stroke-width="2.1"/><line x1="234.4" y1="250.8" x2="230.0" y2="257.3" stroke="#33deff" stroke-width="2.2"/><line x1="230.4" y1="256.9" x2="225.8" y2="263.6" stroke="#33e7fc" stroke-width="2.2"/><line x1="226.2" y1="263.2" x2="221.8" y2="269.7" stroke="#36eff5" stroke-width="2.2"/><line x1="221.8" y1="269.7" x2="216.3" y2="274.0" stroke="#3cf5f0" stroke-width="2.3"/><line x1="216.8" y1="273.6" x2="211.0" y2="278.1" stroke="#40fbeb" stroke-width="2.3"/><line x1="211.5" y1="277.7" x2="206.0" y2="282.0" stroke="#45ffe7" stroke-width="2.3"/><line x1="206.0" y1="282.0" x2="199.5" y2="287.7" stroke="#4cffe0" stroke-width="2.3"/><line x1="200.0" y1="287.3" x2="193.5" y2="293.0" stroke="#56ffd6" stroke-width="2.3"/><line x1="193.5" y1="293.0" x2="188.0" y2="296.9" stroke="#5effce" stroke-width="2.3"/><line x1="188.5" y1="296.6" x2="182.8" y2="300.7" stroke="#64ffc7" stroke-width="2.3"/><line x1="183.3" y1="300.4" x2="177.8" y2="304.3" stroke="#6bffc0" stroke-width="2.3"/><circle cx="272.0" cy="152.7" r="0.95" fill="#333fff"/><circle cx="262.7" cy="180.0" r="0.95" fill="#3370ff"/><circle cx="256.4" cy="195.7" r="0.95" fill="#3391ff"/><circle cx="242.0" cy="227.0" r="1.05" fill="#33c2ff"/><circle cx="234.4" cy="250.8" r="1.05" fill="#33daff"/><circle cx="221.8" cy="269.7" r="1.15" fill="#3af3f2"/><circle cx="206.0" cy="282.0" r="1.15" fill="#47ffe5"/><circle cx="193.5" cy="293.0" r="1.15" fill="#5affd1"/><line x1="188.0" y1="226.0" x2="181.0" y2="232.0" stroke="#33c6ff" stroke-width="4.8"/><line x1="181.0" y1="232.0" x2="175.8" y2="236.4" stroke="#33cdff" stroke-width="4.1"/><line x1="176.2" y1="236.0" x2="170.8" y2="240.5" stroke="#33d2ff" stroke-width="4.1"/><line x1="171.2" y1="240.1" x2="166.0" y2="244.5" stroke="#33d8ff" stroke-width="4.1"/><line x1="166.0" y1="244.5" x2="164.8" y2="250.8" stroke="#33deff" stroke-width="3.8"/><line x1="165.0" y1="250.2" x2="163.7" y2="256.8" stroke="#33e7fc" stroke-width="3.8"/><line x1="163.9" y1="256.2" x2="162.6" y2="262.7" stroke="#36eff5" stroke-width="3.8"/><line x1="162.8" y1="262.1" x2="161.5" y2="268.7" stroke="#3df7ef" stroke-width="3.8"/><line x1="161.7" y1="268.1" x2="160.5" y2="274.4" stroke="#43ffe8" stroke-width="3.8"/><line x1="160.5" y1="274.4" x2="157.7" y2="282.5" stroke="#4cffe0" stroke-width="3.6"/><line x1="157.8" y1="281.9" x2="155.0" y2="290.0" stroke="#56ffd6" stroke-width="3.6"/><line x1="155.0" y1="290.0" x2="152.0" y2="296.9" stroke="#5fffcd" stroke-width="3.5"/><line x1="152.2" y1="296.4" x2="149.1" y2="303.6" stroke="#68ffc4" stroke-width="3.5"/><line x1="149.3" y1="303.1" x2="146.3" y2="310.0" stroke="#70ffbb" stroke-width="3.5"/><line x1="146.3" y1="310.0" x2="143.3" y2="321.6" stroke="#8cffa0" stroke-width="3.5"/><circle cx="181.0" cy="232.0" r="2.15" fill="#33caff"/><circle cx="166.0" cy="244.5" r="1.95" fill="#33daff"/><circle cx="160.5" cy="274.4" r="1.85" fill="#47ffe5"/><circle cx="155.0" cy="290.0" r="1.75" fill="#5affd1"/><circle cx="146.3" cy="310.0" r="1.75" fill="#75ffb7"/><line x1="191.0" y1="226.0" x2="189.7" y2="232.8" stroke="#33c7ff" stroke-width="4.7"/><line x1="189.8" y1="232.2" x2="188.4" y2="239.3" stroke="#33d1ff" stroke-width="4.7"/><line x1="188.6" y1="238.7" x2="187.2" y2="245.8" stroke="#33dbff" stroke-width="4.7"/><line x1="187.3" y1="245.2" x2="186.0" y2="252.0" stroke="#33e6fd" stroke-width="4.7"/><line x1="186.0" y1="252.0" x2="184.4" y2="259.3" stroke="#38f1f3" stroke-width="4.4"/><line x1="184.6" y1="258.7" x2="182.9" y2="266.3" stroke="#42fdea" stroke-width="4.4"/><line x1="183.1" y1="265.7" x2="181.4" y2="273.3" stroke="#4cffe0" stroke-width="4.4"/><line x1="181.6" y1="272.7" x2="180.0" y2="280.0" stroke="#56ffd6" stroke-width="4.4"/><line x1="180.0" y1="280.0" x2="178.4" y2="286.8" stroke="#5fffcd" stroke-width="4.3"/><line x1="178.5" y1="286.2" x2="176.9" y2="293.4" stroke="#68ffc4" stroke-width="4.3"/><line x1="177.0" y1="292.8" x2="175.4" y2="299.6" stroke="#70ffbb" stroke-width="4.3"/><line x1="175.4" y1="299.6" x2="178.8" y2="305.0" stroke="#7bffb0" stroke-width="4.3"/><circle cx="186.0" cy="252.0" r="2.25" fill="#33ebf8"/><circle cx="180.0" cy="280.0" r="2.15" fill="#5affd1"/><circle cx="175.4" cy="299.6" r="2.15" fill="#75ffb7"/><line x1="178.8" y1="305.2" x2="186.3" y2="306.0" stroke="#76ffb6" stroke-width="2.5"/><line x1="185.7" y1="306.0" x2="193.5" y2="306.8" stroke="#78ffb3" stroke-width="2.5"/><line x1="192.9" y1="306.8" x2="200.4" y2="307.6" stroke="#7affb1" stroke-width="2.5"/><line x1="200.4" y1="307.6" x2="202.8" y2="308.2" stroke="#7bffb0" stroke-width="2.5"/><line x1="202.8" y1="308.2" x2="204.0" y2="299.8" stroke="#7bffb0" stroke-width="2.5"/><line x1="204.0" y1="299.8" x2="210.3" y2="300.7" stroke="#7bffb0" stroke-width="2.5"/><line x1="209.7" y1="300.6" x2="216.3" y2="301.5" stroke="#7bffb0" stroke-width="2.5"/><line x1="215.7" y1="301.4" x2="222.3" y2="302.4" stroke="#7bffb0" stroke-width="2.5"/><line x1="221.7" y1="302.3" x2="228.3" y2="303.2" stroke="#7bffb0" stroke-width="2.5"/><line x1="227.7" y1="303.1" x2="234.0" y2="304.0" stroke="#7bffb0" stroke-width="2.5"/><line x1="234.0" y1="304.0" x2="240.3" y2="304.8" stroke="#7cffaf" stroke-width="2.5"/><line x1="239.7" y1="304.7" x2="246.3" y2="305.5" stroke="#7effae" stroke-width="2.5"/><line x1="245.7" y1="305.5" x2="252.3" y2="306.3" stroke="#80ffac" stroke-width="2.5"/><line x1="251.7" y1="306.2" x2="258.0" y2="307.0" stroke="#81ffaa" stroke-width="2.5"/><line x1="258.0" y1="307.0" x2="264.9" y2="307.6" stroke="#83ffa9" stroke-width="2.5"/><line x1="264.3" y1="307.6" x2="271.5" y2="308.2" stroke="#84ffa7" stroke-width="2.5"/><line x1="271.0" y1="308.2" x2="278.2" y2="308.8" stroke="#86ffa5" stroke-width="2.5"/><line x1="277.6" y1="308.8" x2="284.5" y2="309.4" stroke="#88ffa4" stroke-width="2.5"/><circle cx="200.4" cy="307.6" r="1.25" fill="#7bffb0"/><circle cx="202.8" cy="308.2" r="1.25" fill="#7bffb0"/><circle cx="204.0" cy="299.8" r="1.25" fill="#7bffb0"/><circle cx="234.0" cy="304.0" r="1.25" fill="#7bffb0"/><circle cx="258.0" cy="307.0" r="1.25" fill="#82ffa9"/><line x1="160.0" y1="318.6" x2="166.8" y2="322.0" stroke="#96ff96" stroke-width="2.7"/><line x1="166.8" y1="322.0" x2="171.6" y2="323.2" stroke="#96ff96" stroke-width="2.7"/><line x1="171.6" y1="323.2" x2="181.2" y2="325.0" stroke="#9cff8f" stroke-width="2.7"/><line x1="181.2" y1="325.0" x2="188.0" y2="325.9" stroke="#a4ff88" stroke-width="2.7"/><line x1="187.4" y1="325.8" x2="194.5" y2="326.8" stroke="#a6ff86" stroke-width="2.7"/><line x1="193.9" y1="326.7" x2="201.0" y2="327.6" stroke="#a8ff84" stroke-width="2.7"/><line x1="200.4" y1="327.5" x2="207.6" y2="328.5" stroke="#a9ff82" stroke-width="2.7"/><line x1="207.0" y1="328.4" x2="214.1" y2="329.3" stroke="#abff80" stroke-width="2.7"/><line x1="213.5" y1="329.2" x2="220.6" y2="330.2" stroke="#adff7e" stroke-width="2.7"/><line x1="220.0" y1="330.1" x2="226.8" y2="331.0" stroke="#afff7c" stroke-width="2.7"/><line x1="226.8" y1="331.0" x2="233.4" y2="331.6" stroke="#b1ff7b" stroke-width="2.7"/><line x1="232.8" y1="331.6" x2="239.7" y2="332.2" stroke="#b3ff79" stroke-width="2.7"/><line x1="239.1" y1="332.2" x2="246.0" y2="332.8" stroke="#b4ff77" stroke-width="2.7"/><line x1="245.4" y1="332.8" x2="252.0" y2="333.4" stroke="#b6ff76" stroke-width="2.7"/><line x1="252.0" y1="333.4" x2="258.8" y2="334.2" stroke="#b7ff74" stroke-width="2.7"/><line x1="258.2" y1="334.1" x2="265.3" y2="334.9" stroke="#b9ff73" stroke-width="2.7"/><line x1="264.7" y1="334.8" x2="271.8" y2="335.6" stroke="#baff72" stroke-width="2.7"/><line x1="271.2" y1="335.5" x2="278.3" y2="336.3" stroke="#bbff70" stroke-width="2.7"/><line x1="277.7" y1="336.2" x2="284.5" y2="337.0" stroke="#bdff6f" stroke-width="2.7"/><line x1="284.5" y1="337.0" x2="291.4" y2="337.3" stroke="#c0ff6b" stroke-width="2.7"/><line x1="290.8" y1="337.3" x2="297.7" y2="337.6" stroke="#c7ff64" stroke-width="2.7"/><circle cx="166.8" cy="322.0" r="1.35" fill="#96ff96"/><circle cx="171.6" cy="323.2" r="1.35" fill="#96ff96"/><circle cx="181.2" cy="325.0" r="1.35" fill="#a3ff89"/><circle cx="226.8" cy="331.0" r="1.35" fill="#b0ff7b"/><circle cx="252.0" cy="333.4" r="1.35" fill="#b7ff75"/><circle cx="284.5" cy="337.0" r="1.35" fill="#bdff6e"/><line x1="226.8" y1="331.0" x2="226.8" y2="341.2" stroke="#deff4d" stroke-width="2.9"/><line x1="226.8" y1="341.2" x2="235.2" y2="341.8" stroke="#e8ff43" stroke-width="2.9"/><line x1="235.2" y1="341.8" x2="243.3" y2="342.1" stroke="#ebff40" stroke-width="2.9"/><line x1="242.7" y1="342.1" x2="250.8" y2="342.4" stroke="#ebff40" stroke-width="2.9"/><line x1="250.8" y1="342.4" x2="252.0" y2="349.6" stroke="#ebff40" stroke-width="2.9"/><line x1="252.0" y1="349.6" x2="260.1" y2="349.9" stroke="#ebff40" stroke-width="2.9"/><line x1="259.5" y1="349.9" x2="267.6" y2="350.2" stroke="#ebff40" stroke-width="2.9"/><line x1="267.6" y1="350.2" x2="269.4" y2="343.0" stroke="#ebff40" stroke-width="2.9"/><line x1="269.4" y1="343.0" x2="276.7" y2="343.6" stroke="#eaff41" stroke-width="2.9"/><line x1="276.1" y1="343.6" x2="283.8" y2="344.2" stroke="#e8ff43" stroke-width="2.9"/><line x1="283.2" y1="344.2" x2="290.5" y2="344.8" stroke="#e6ff46" stroke-width="2.9"/><line x1="290.5" y1="344.8" x2="291.0" y2="338.8" stroke="#e1ff4a" stroke-width="2.9"/><circle cx="226.8" cy="341.2" r="1.45" fill="#e5ff47"/><circle cx="235.2" cy="341.8" r="1.45" fill="#ebff40"/><circle cx="250.8" cy="342.4" r="1.45" fill="#ebff40"/><circle cx="252.0" cy="349.6" r="1.45" fill="#ebff40"/><circle cx="267.6" cy="350.2" r="1.45" fill="#ebff40"/><circle cx="269.4" cy="343.0" r="1.45" fill="#ebff40"/><circle cx="290.5" cy="344.8" r="1.45" fill="#e5ff47"/><line x1="269.4" y1="343.0" x2="269.4" y2="335.2" stroke="#d1ff5a" stroke-width="2.5"/><line x1="180.0" y1="307.6" x2="178.8" y2="316.0" stroke="#8cffa0" stroke-width="4.3"/><line x1="178.8" y1="316.0" x2="178.2" y2="323.1" stroke="#9bff90" stroke-width="4.4"/><line x1="178.2" y1="322.5" x2="177.6" y2="329.9" stroke="#a6ff85" stroke-width="4.4"/><line x1="177.6" y1="329.3" x2="177.0" y2="336.4" stroke="#b1ff7a" stroke-width="4.4"/><line x1="177.0" y1="336.4" x2="175.2" y2="339.0" stroke="#c7ff64" stroke-width="4.9"/><line x1="175.2" y1="339.0" x2="166.8" y2="340.3" stroke="#dbff51" stroke-width="5.3"/><line x1="167.4" y1="340.2" x2="159.0" y2="341.5" stroke="#e1ff4a" stroke-width="5.3"/><line x1="159.0" y1="341.5" x2="158.7" y2="350.6" stroke="#e8ff43" stroke-width="4.4"/><line x1="158.7" y1="350.1" x2="158.4" y2="359.2" stroke="#efff3d" stroke-width="4.4"/><line x1="158.4" y1="359.2" x2="157.6" y2="366.4" stroke="#f4fc37" stroke-width="3.5"/><line x1="157.6" y1="365.8" x2="156.8" y2="373.4" stroke="#f8f733" stroke-width="3.5"/><line x1="156.8" y1="372.8" x2="156.0" y2="380.0" stroke="#fdf233" stroke-width="3.5"/><line x1="156.0" y1="380.0" x2="155.2" y2="387.0" stroke="#ffed33" stroke-width="3.5"/><line x1="155.3" y1="386.4" x2="154.5" y2="393.6" stroke="#ffe833" stroke-width="3.5"/><line x1="154.6" y1="393.0" x2="153.8" y2="400.0" stroke="#ffe333" stroke-width="3.5"/><line x1="153.8" y1="400.0" x2="153.5" y2="406.6" stroke="#ffde33" stroke-width="3.5"/><line x1="153.6" y1="406.0" x2="153.3" y2="413.0" stroke="#ffd933" stroke-width="3.5"/><line x1="153.3" y1="412.4" x2="153.0" y2="419.3" stroke="#ffd433" stroke-width="3.5"/><line x1="153.1" y1="418.7" x2="152.8" y2="425.6" stroke="#ffcf33" stroke-width="3.5"/><line x1="152.8" y1="425.0" x2="152.5" y2="432.0" stroke="#ffca33" stroke-width="3.5"/><line x1="152.6" y1="431.4" x2="152.3" y2="438.0" stroke="#ffc533" stroke-width="3.5"/><circle cx="178.8" cy="316.0" r="2.15" fill="#96ff96"/><circle cx="177.0" cy="336.4" r="2.25" fill="#b7ff75"/><circle cx="175.2" cy="339.0" r="2.65" fill="#d8ff54"/><circle cx="159.0" cy="341.5" r="2.65" fill="#e5ff47"/><circle cx="158.4" cy="359.2" r="1.75" fill="#f2ff3a"/><circle cx="156.0" cy="380.0" r="1.75" fill="#fff033"/><circle cx="153.8" cy="400.0" r="1.75" fill="#ffe133"/><line x1="11.6" y1="338.0" x2="18.3" y2="339.0" stroke="#d8ff54" stroke-width="3.3"/><line x1="17.7" y1="339.0" x2="24.7" y2="340.0" stroke="#d8ff54" stroke-width="3.3"/><line x1="24.1" y1="340.0" x2="31.1" y2="341.0" stroke="#d8ff54" stroke-width="3.3"/><line x1="30.5" y1="341.0" x2="37.5" y2="342.0" stroke="#d8ff54" stroke-width="3.3"/><line x1="36.9" y1="342.0" x2="43.9" y2="343.0" stroke="#d8ff54" stroke-width="3.3"/><line x1="43.3" y1="343.0" x2="50.0" y2="344.0" stroke="#d8ff54" stroke-width="3.3"/><line x1="50.0" y1="344.0" x2="56.6" y2="345.0" stroke="#d8ff54" stroke-width="3.3"/><line x1="56.0" y1="344.9" x2="63.0" y2="345.9" stroke="#d8ff54" stroke-width="3.3"/><line x1="62.4" y1="345.9" x2="69.3" y2="346.9" stroke="#d8ff54" stroke-width="3.3"/><line x1="68.7" y1="346.8" x2="75.6" y2="347.8" stroke="#d8ff54" stroke-width="3.3"/><line x1="75.0" y1="347.8" x2="82.0" y2="348.8" stroke="#d8ff54" stroke-width="3.3"/><line x1="81.4" y1="348.7" x2="88.0" y2="349.7" stroke="#d8ff54" stroke-width="3.3"/><line x1="88.0" y1="349.7" x2="94.3" y2="346.7" stroke="#d6ff56" stroke-width="3.4"/><line x1="93.7" y1="347.0" x2="100.0" y2="344.0" stroke="#d3ff59" stroke-width="3.4"/><line x1="100.0" y1="344.0" x2="106.4" y2="340.9" stroke="#cfff5c" stroke-width="3.7"/><line x1="105.9" y1="341.1" x2="112.3" y2="338.0" stroke="#ccff5f" stroke-width="3.7"/><line x1="112.3" y1="338.0" x2="118.4" y2="335.2" stroke="#c8ff64" stroke-width="3.7"/><line x1="117.8" y1="335.5" x2="124.2" y2="332.6" stroke="#c3ff68" stroke-width="3.7"/><line x1="123.6" y1="332.8" x2="130.0" y2="329.9" stroke="#beff6d" stroke-width="3.7"/><line x1="129.4" y1="330.2" x2="135.5" y2="327.4" stroke="#b9ff72" stroke-width="3.7"/><line x1="135.5" y1="327.4" x2="143.3" y2="321.6" stroke="#adff7f" stroke-width="3.5"/><line x1="143.3" y1="321.6" x2="149.1" y2="318.9" stroke="#a0ff8c" stroke-width="3.3"/><line x1="148.6" y1="319.2" x2="154.7" y2="316.4" stroke="#99ff92" stroke-width="3.3"/><line x1="154.2" y1="316.7" x2="160.0" y2="314.0" stroke="#92ff99" stroke-width="3.3"/><line x1="160.0" y1="314.0" x2="166.3" y2="310.9" stroke="#8cffa0" stroke-width="3.0"/><line x1="165.7" y1="311.1" x2="172.3" y2="307.9" stroke="#85ffa6" stroke-width="3.0"/><line x1="171.7" y1="308.1" x2="178.0" y2="305.0" stroke="#7fffad" stroke-width="3.0"/><circle cx="50.0" cy="344.0" r="1.65" fill="#d8ff54"/><circle cx="88.0" cy="349.7" r="1.65" fill="#d8ff54"/><circle cx="100.0" cy="344.0" r="1.75" fill="#d1ff5a"/><circle cx="112.3" cy="338.0" r="1.90" fill="#caff61"/><circle cx="135.5" cy="327.4" r="1.75" fill="#b7ff75"/><circle cx="143.3" cy="321.6" r="1.75" fill="#a3ff89"/><circle cx="160.0" cy="314.0" r="1.55" fill="#8fff9c"/><line x1="143.3" y1="321.6" x2="140.0" y2="328.1" stroke="#a9ff82" stroke-width="3.9"/><line x1="140.3" y1="327.5" x2="137.0" y2="334.0" stroke="#b7ff75" stroke-width="3.9"/><line x1="137.0" y1="334.0" x2="134.2" y2="340.2" stroke="#c4ff68" stroke-width="3.9"/><line x1="134.5" y1="339.6" x2="131.7" y2="345.8" stroke="#d1ff5a" stroke-width="3.9"/><line x1="131.7" y1="345.8" x2="129.5" y2="352.5" stroke="#dbff51" stroke-width="3.9"/><line x1="129.7" y1="352.0" x2="127.3" y2="359.0" stroke="#e1ff4a" stroke-width="3.9"/><line x1="127.5" y1="358.4" x2="125.2" y2="365.4" stroke="#e8ff43" stroke-width="3.9"/><line x1="125.4" y1="364.8" x2="123.0" y2="371.8" stroke="#efff3d" stroke-width="3.9"/><line x1="123.2" y1="371.3" x2="121.0" y2="378.0" stroke="#f5fb36" stroke-width="3.9"/><line x1="121.0" y1="378.0" x2="119.0" y2="385.0" stroke="#fcf433" stroke-width="4.0"/><line x1="119.1" y1="384.5" x2="117.0" y2="391.8" stroke="#ffec33" stroke-width="4.0"/><line x1="117.2" y1="391.2" x2="115.1" y2="398.5" stroke="#ffe533" stroke-width="4.0"/><line x1="115.3" y1="397.9" x2="113.2" y2="405.2" stroke="#ffdd33" stroke-width="4.0"/><line x1="113.3" y1="404.7" x2="111.3" y2="411.7" stroke="#ffd533" stroke-width="4.0"/><line x1="111.3" y1="411.7" x2="108.4" y2="415.6" stroke="#ffca33" stroke-width="4.4"/><circle cx="137.0" cy="334.0" r="1.95" fill="#bdff6e"/><circle cx="131.7" cy="345.8" r="1.95" fill="#d8ff54"/><circle cx="121.0" cy="378.0" r="1.95" fill="#f8f733"/><circle cx="111.3" cy="411.7" r="2.05" fill="#ffd233"/><line x1="41.6" y1="399.0" x2="49.0" y2="398.7" stroke="#ffe133" stroke-width="3.3"/><line x1="48.4" y1="398.7" x2="56.2" y2="398.3" stroke="#ffe133" stroke-width="3.3"/><line x1="55.6" y1="398.3" x2="63.0" y2="398.0" stroke="#ffe133" stroke-width="3.3"/><line x1="63.0" y1="398.0" x2="60.1" y2="404.0" stroke="#ffdf33" stroke-width="3.3"/><line x1="60.4" y1="403.5" x2="57.4" y2="409.8" stroke="#ffdb33" stroke-width="3.3"/><line x1="57.6" y1="409.2" x2="54.6" y2="415.5" stroke="#ffd733" stroke-width="3.3"/><line x1="54.9" y1="415.0" x2="52.0" y2="421.0" stroke="#ffd433" stroke-width="3.3"/><line x1="52.0" y1="421.0" x2="49.3" y2="415.2" stroke="#ffd433" stroke-width="3.3"/><line x1="49.5" y1="415.8" x2="46.7" y2="409.7" stroke="#ffd733" stroke-width="3.3"/><line x1="46.9" y1="410.3" x2="44.1" y2="404.2" stroke="#ffdb33" stroke-width="3.3"/><line x1="44.3" y1="404.8" x2="41.6" y2="399.0" stroke="#ffdf33" stroke-width="3.3"/><circle cx="63.0" cy="398.0" r="1.65" fill="#ffe133"/><circle cx="52.0" cy="421.0" r="1.65" fill="#ffd233"/><line x1="63.0" y1="398.0" x2="58.9" y2="405.3" stroke="#ffd233" stroke-width="2.8"/><line x1="59.1" y1="404.7" x2="55.0" y2="412.0" stroke="#ffd233" stroke-width="2.8"/><line x1="63.0" y1="398.0" x2="70.3" y2="400.8" stroke="#ffd033" stroke-width="3.8"/><line x1="69.7" y1="400.6" x2="77.3" y2="403.4" stroke="#ffce33" stroke-width="3.8"/><line x1="76.7" y1="403.2" x2="84.0" y2="406.0" stroke="#ffcb33" stroke-width="3.8"/><line x1="84.0" y1="406.0" x2="91.1" y2="408.6" stroke="#ffc933" stroke-width="3.8"/><line x1="90.6" y1="408.4" x2="98.0" y2="411.2" stroke="#ffc633" stroke-width="3.8"/><line x1="97.5" y1="411.0" x2="104.6" y2="413.6" stroke="#ffc433" stroke-width="3.8"/><circle cx="84.0" cy="406.0" r="1.90" fill="#ffca33"/><line x1="108.2" y1="415.2" x2="110.6" y2="421.5" stroke="#ffb233" stroke-width="5.8"/><line x1="110.4" y1="421.0" x2="112.8" y2="427.3" stroke="#ffae33" stroke-width="5.8"/><line x1="112.8" y1="427.3" x2="118.3" y2="431.3" stroke="#ffaa33" stroke-width="5.3"/><line x1="117.9" y1="431.0" x2="123.4" y2="435.0" stroke="#ffa633" stroke-width="5.3"/><line x1="123.4" y1="435.0" x2="129.7" y2="436.6" stroke="#ffa433" stroke-width="5.0"/><line x1="129.2" y1="436.4" x2="135.5" y2="438.0" stroke="#ffa433" stroke-width="5.0"/><line x1="135.5" y1="438.0" x2="142.3" y2="438.3" stroke="#ffa433" stroke-width="4.8"/><line x1="141.7" y1="438.3" x2="148.8" y2="438.6" stroke="#ffa333" stroke-width="4.8"/><line x1="148.2" y1="438.6" x2="155.3" y2="438.9" stroke="#ffa233" stroke-width="4.8"/><line x1="154.7" y1="438.8" x2="161.8" y2="439.2" stroke="#ffa133" stroke-width="4.8"/><line x1="161.2" y1="439.1" x2="168.3" y2="439.4" stroke="#ff9f33" stroke-width="4.8"/><line x1="167.7" y1="439.4" x2="174.8" y2="439.7" stroke="#ff9e33" stroke-width="4.8"/><line x1="174.2" y1="439.7" x2="181.0" y2="440.0" stroke="#ff9d33" stroke-width="4.8"/><line x1="181.0" y1="440.0" x2="187.4" y2="441.0" stroke="#ff9b33" stroke-width="5.0"/><line x1="186.8" y1="441.0" x2="193.5" y2="442.0" stroke="#ff9833" stroke-width="5.0"/><line x1="192.9" y1="442.0" x2="199.6" y2="443.0" stroke="#ff9533" stroke-width="5.0"/><line x1="199.0" y1="443.0" x2="205.6" y2="444.0" stroke="#ff9133" stroke-width="5.0"/><line x1="205.0" y1="444.0" x2="211.7" y2="445.0" stroke="#ff8e33" stroke-width="5.0"/><line x1="211.1" y1="445.0" x2="217.8" y2="446.0" stroke="#ff8b33" stroke-width="5.0"/><line x1="217.2" y1="446.0" x2="223.6" y2="447.0" stroke="#ff8833" stroke-width="5.0"/><line x1="223.6" y1="447.0" x2="229.7" y2="445.5" stroke="#ff8633" stroke-width="5.3"/><line x1="229.7" y1="445.5" x2="232.7" y2="435.0" stroke="#ff8e33" stroke-width="5.3"/><line x1="232.7" y1="435.0" x2="240.3" y2="430.4" stroke="#ff9933" stroke-width="5.3"/><line x1="240.3" y1="430.4" x2="246.9" y2="430.3" stroke="#ff9d33" stroke-width="5.3"/><line x1="246.3" y1="430.3" x2="253.1" y2="430.2" stroke="#ff9d33" stroke-width="5.3"/><line x1="252.5" y1="430.3" x2="259.4" y2="430.2" stroke="#ff9d33" stroke-width="5.3"/><line x1="258.8" y1="430.2" x2="265.6" y2="430.1" stroke="#ff9d33" stroke-width="5.3"/><line x1="265.1" y1="430.1" x2="271.9" y2="430.0" stroke="#ff9d33" stroke-width="5.3"/><line x1="271.3" y1="430.0" x2="278.2" y2="429.9" stroke="#ff9d33" stroke-width="5.3"/><line x1="277.6" y1="430.0" x2="284.4" y2="429.9" stroke="#ff9d33" stroke-width="5.3"/><line x1="283.8" y1="429.9" x2="290.4" y2="429.8" stroke="#ff9d33" stroke-width="5.3"/><line x1="290.4" y1="429.8" x2="296.8" y2="431.0" stroke="#ff9b33" stroke-width="5.3"/><line x1="296.2" y1="430.8" x2="302.6" y2="432.0" stroke="#ff9733" stroke-width="5.3"/><line x1="302.6" y1="432.0" x2="309.1" y2="432.7" stroke="#ff9533" stroke-width="5.3"/><line x1="308.5" y1="432.6" x2="315.3" y2="433.3" stroke="#ff9433" stroke-width="5.3"/><line x1="314.7" y1="433.3" x2="321.5" y2="434.0" stroke="#ff9333" stroke-width="5.3"/><line x1="320.9" y1="433.9" x2="327.7" y2="434.6" stroke="#ff9133" stroke-width="5.3"/><line x1="327.1" y1="434.5" x2="333.9" y2="435.2" stroke="#ff9033" stroke-width="5.3"/><line x1="333.3" y1="435.2" x2="340.1" y2="435.9" stroke="#ff8f33" stroke-width="5.3"/><line x1="339.5" y1="435.8" x2="346.0" y2="436.5" stroke="#ff8e33" stroke-width="5.3"/><line x1="346.0" y1="436.5" x2="356.0" y2="437.3" stroke="#ff8a33" stroke-width="5.3"/><line x1="356.0" y1="437.3" x2="364.7" y2="444.7" stroke="#ff8233" stroke-width="5.5"/><line x1="364.7" y1="444.7" x2="370.5" y2="448.6" stroke="#ff7b33" stroke-width="5.8"/><line x1="370.0" y1="448.2" x2="375.8" y2="452.1" stroke="#ff7333" stroke-width="5.8"/><line x1="375.8" y1="452.1" x2="382.9" y2="456.6" stroke="#ff6e33" stroke-width="5.8"/><line x1="382.3" y1="456.3" x2="389.4" y2="460.8" stroke="#ff6a33" stroke-width="5.8"/><line x1="389.4" y1="460.8" x2="394.6" y2="464.4" stroke="#ff6633" stroke-width="5.8"/><line x1="394.1" y1="464.0" x2="399.3" y2="467.6" stroke="#ff6233" stroke-width="5.8"/><line x1="399.3" y1="467.6" x2="405.4" y2="472.4" stroke="#ff5e33" stroke-width="5.8"/><line x1="405.0" y1="472.1" x2="411.1" y2="476.9" stroke="#ff5b33" stroke-width="5.8"/><circle cx="112.8" cy="427.3" r="2.65" fill="#ffac33"/><circle cx="123.4" cy="435.0" r="2.65" fill="#ffa433"/><circle cx="135.5" cy="438.0" r="2.40" fill="#ffa433"/><circle cx="181.0" cy="440.0" r="2.40" fill="#ff9d33"/><circle cx="223.6" cy="447.0" r="2.65" fill="#ff8633"/><circle cx="229.7" cy="445.5" r="2.65" fill="#ff8633"/><circle cx="232.7" cy="435.0" r="2.65" fill="#ff9533"/><circle cx="240.3" cy="430.4" r="2.65" fill="#ff9d33"/><circle cx="290.4" cy="429.8" r="2.65" fill="#ff9d33"/><circle cx="302.6" cy="432.0" r="2.65" fill="#ff9533"/><circle cx="346.0" cy="436.5" r="2.65" fill="#ff8e33"/><circle cx="356.0" cy="437.3" r="2.65" fill="#ff8633"/><circle cx="364.7" cy="444.7" r="2.90" fill="#ff7f33"/><circle cx="375.8" cy="452.1" r="2.90" fill="#ff6f33"/><circle cx="389.4" cy="460.8" r="2.90" fill="#ff6833"/><circle cx="399.3" cy="467.6" r="2.90" fill="#ff6033"/><line x1="411.1" y1="476.9" x2="413.3" y2="470.1" stroke="#ff5d33" stroke-width="4.3"/><line x1="413.2" y1="470.7" x2="415.4" y2="463.9" stroke="#ff6433" stroke-width="4.3"/><line x1="415.4" y1="463.9" x2="421.3" y2="466.9" stroke="#ff6633" stroke-width="4.3"/><line x1="420.8" y1="466.6" x2="427.0" y2="469.7" stroke="#ff6333" stroke-width="4.3"/><line x1="426.5" y1="469.4" x2="432.7" y2="472.6" stroke="#ff6033" stroke-width="4.3"/><line x1="432.2" y1="472.3" x2="438.4" y2="475.4" stroke="#ff5d33" stroke-width="4.3"/><line x1="437.9" y1="475.1" x2="443.8" y2="478.1" stroke="#ff5a33" stroke-width="4.3"/><circle cx="415.4" cy="463.9" r="2.15" fill="#ff6833"/><line x1="411.1" y1="478.1" x2="419.1" y2="477.1" stroke="#ff5133" stroke-width="4.5"/><line x1="418.5" y1="477.2" x2="426.5" y2="476.2" stroke="#ff5133" stroke-width="4.5"/><line x1="426.5" y1="476.2" x2="435.4" y2="477.8" stroke="#ff5133" stroke-width="4.5"/><line x1="434.9" y1="477.7" x2="443.8" y2="479.3" stroke="#ff5133" stroke-width="4.5"/><line x1="443.8" y1="479.3" x2="450.3" y2="480.4" stroke="#ff5133" stroke-width="4.5"/><line x1="449.7" y1="480.3" x2="456.5" y2="481.4" stroke="#ff5133" stroke-width="4.5"/><line x1="455.9" y1="481.3" x2="462.4" y2="482.4" stroke="#ff5133" stroke-width="4.5"/><line x1="462.4" y1="482.4" x2="463.2" y2="474.9" stroke="#ff5233" stroke-width="4.5"/><line x1="463.2" y1="475.5" x2="464.0" y2="467.7" stroke="#ff5533" stroke-width="4.5"/><line x1="464.0" y1="468.3" x2="464.8" y2="460.8" stroke="#ff5833" stroke-width="4.5"/><line x1="464.8" y1="460.8" x2="465.2" y2="454.2" stroke="#ff5d33" stroke-width="4.5"/><line x1="465.2" y1="454.8" x2="465.6" y2="447.9" stroke="#ff6633" stroke-width="4.5"/><line x1="465.5" y1="448.5" x2="466.0" y2="441.6" stroke="#ff6f33" stroke-width="4.5"/><line x1="465.9" y1="442.2" x2="466.3" y2="435.3" stroke="#ff7933" stroke-width="4.5"/><line x1="466.3" y1="435.9" x2="466.7" y2="429.3" stroke="#ff8233" stroke-width="4.5"/><circle cx="426.5" cy="476.2" r="2.25" fill="#ff5133"/><circle cx="443.8" cy="479.3" r="2.25" fill="#ff5133"/><circle cx="462.4" cy="482.4" r="2.25" fill="#ff5133"/><circle cx="464.8" cy="460.8" r="2.25" fill="#ff5933"/><line x1="466.7" y1="429.3" x2="472.9" y2="432.7" stroke="#ff8433" stroke-width="5.8"/><line x1="472.4" y1="432.4" x2="478.8" y2="436.0" stroke="#ff8133" stroke-width="5.8"/><line x1="478.3" y1="435.7" x2="484.7" y2="439.2" stroke="#ff7e33" stroke-width="5.8"/><line x1="484.2" y1="438.9" x2="490.6" y2="442.5" stroke="#ff7b33" stroke-width="5.8"/><line x1="490.1" y1="442.2" x2="496.5" y2="445.7" stroke="#ff7833" stroke-width="5.8"/><line x1="496.0" y1="445.4" x2="502.4" y2="449.0" stroke="#ff7433" stroke-width="5.8"/><line x1="501.9" y1="448.7" x2="508.1" y2="452.1" stroke="#ff7133" stroke-width="5.8"/><line x1="508.1" y1="452.1" x2="504.4" y2="457.1" stroke="#ff6c33" stroke-width="5.8"/><circle cx="508.1" cy="452.1" r="2.90" fill="#ff6f33"/><line x1="500.7" y1="455.8" x2="497.1" y2="462.9" stroke="#ff6733" stroke-width="4.8"/><line x1="497.3" y1="462.3" x2="493.6" y2="469.7" stroke="#ff6433" stroke-width="4.8"/><line x1="493.8" y1="469.1" x2="490.2" y2="476.2" stroke="#ff6233" stroke-width="4.8"/><line x1="490.2" y1="476.2" x2="484.9" y2="472.4" stroke="#ff6033" stroke-width="4.8"/><line x1="485.4" y1="472.8" x2="479.8" y2="468.9" stroke="#ff6033" stroke-width="4.8"/><line x1="480.3" y1="469.2" x2="474.7" y2="465.3" stroke="#ff6033" stroke-width="4.8"/><line x1="475.2" y1="465.6" x2="469.6" y2="461.7" stroke="#ff6033" stroke-width="4.8"/><line x1="470.1" y1="462.1" x2="464.8" y2="458.3" stroke="#ff6033" stroke-width="4.8"/><circle cx="490.2" cy="476.2" r="2.40" fill="#ff6033"/><line x1="108.2" y1="415.2" x2="106.2" y2="421.7" stroke="#ffa733" stroke-width="4.2"/><line x1="106.4" y1="421.1" x2="104.4" y2="427.9" stroke="#ff9e33" stroke-width="4.2"/><line x1="104.5" y1="427.3" x2="102.5" y2="434.1" stroke="#ff9433" stroke-width="4.2"/><line x1="102.7" y1="433.5" x2="100.7" y2="440.0" stroke="#ff8b33" stroke-width="4.2"/><line x1="100.7" y1="440.0" x2="98.8" y2="446.8" stroke="#ff8333" stroke-width="3.6"/><line x1="99.0" y1="446.2" x2="97.1" y2="453.3" stroke="#ff7d33" stroke-width="3.6"/><line x1="97.2" y1="452.7" x2="95.3" y2="459.8" stroke="#ff7633" stroke-width="3.6"/><line x1="95.4" y1="459.2" x2="93.5" y2="466.3" stroke="#ff7033" stroke-width="3.6"/><line x1="93.6" y1="465.7" x2="91.7" y2="472.8" stroke="#ff6a33" stroke-width="3.6"/><line x1="91.9" y1="472.2" x2="90.0" y2="479.0" stroke="#ff6333" stroke-width="3.6"/><line x1="90.0" y1="479.0" x2="87.9" y2="485.4" stroke="#ff5f33" stroke-width="3.5"/><line x1="88.1" y1="484.8" x2="85.9" y2="491.5" stroke="#ff5d33" stroke-width="3.5"/><line x1="86.1" y1="490.9" x2="83.9" y2="497.6" stroke="#ff5b33" stroke-width="3.5"/><line x1="84.1" y1="497.0" x2="81.9" y2="503.7" stroke="#ff5833" stroke-width="3.5"/><line x1="82.1" y1="503.1" x2="79.9" y2="509.8" stroke="#ff5633" stroke-width="3.5"/><line x1="80.1" y1="509.2" x2="77.9" y2="515.9" stroke="#ff5433" stroke-width="3.5"/><line x1="78.1" y1="515.3" x2="75.9" y2="522.0" stroke="#ff5233" stroke-width="3.5"/><line x1="76.1" y1="521.4" x2="73.9" y2="528.1" stroke="#ff4f33" stroke-width="3.5"/><line x1="74.1" y1="527.5" x2="71.9" y2="534.2" stroke="#ff4d33" stroke-width="3.5"/><line x1="72.1" y1="533.6" x2="70.0" y2="540.0" stroke="#ff4b33" stroke-width="3.5"/><line x1="70.0" y1="540.0" x2="67.8" y2="546.3" stroke="#ff4933" stroke-width="3.5"/><line x1="68.0" y1="545.7" x2="65.6" y2="552.3" stroke="#ff4733" stroke-width="3.5"/><line x1="65.8" y1="551.7" x2="63.5" y2="558.3" stroke="#ff4633" stroke-width="3.5"/><line x1="63.7" y1="557.7" x2="61.4" y2="564.3" stroke="#ff4433" stroke-width="3.5"/><line x1="61.6" y1="563.7" x2="59.2" y2="570.3" stroke="#ff4333" stroke-width="3.5"/><line x1="59.5" y1="569.7" x2="57.1" y2="576.3" stroke="#fe4133" stroke-width="3.5"/><line x1="57.3" y1="575.7" x2="55.0" y2="582.3" stroke="#fc4033" stroke-width="3.5"/><line x1="55.2" y1="581.7" x2="52.9" y2="588.3" stroke="#fa3e33" stroke-width="3.5"/><line x1="53.1" y1="587.7" x2="50.7" y2="594.3" stroke="#f93d33" stroke-width="3.5"/><line x1="50.9" y1="593.7" x2="48.7" y2="600.0" stroke="#f73b33" stroke-width="3.5"/><line x1="48.7" y1="600.0" x2="45.4" y2="607.1" stroke="#f33833" stroke-width="3.7"/><line x1="45.6" y1="606.6" x2="42.2" y2="613.9" stroke="#ec3333" stroke-width="3.7"/><line x1="42.4" y1="613.4" x2="39.1" y2="620.5" stroke="#e63333" stroke-width="3.7"/><line x1="39.1" y1="620.5" x2="40.5" y2="622.0" stroke="#df3333" stroke-width="4.2"/><line x1="40.5" y1="622.0" x2="41.2" y2="628.5" stroke="#d93333" stroke-width="4.6"/><line x1="41.1" y1="627.9" x2="41.9" y2="634.7" stroke="#d93333" stroke-width="4.6"/><line x1="41.8" y1="634.1" x2="42.6" y2="640.8" stroke="#d83333" stroke-width="4.6"/><line x1="42.5" y1="640.2" x2="43.3" y2="647.0" stroke="#d73333" stroke-width="4.6"/><line x1="43.2" y1="646.4" x2="43.9" y2="653.2" stroke="#d63333" stroke-width="4.6"/><line x1="43.9" y1="652.6" x2="44.6" y2="659.4" stroke="#d53333" stroke-width="4.6"/><line x1="44.6" y1="658.8" x2="45.3" y2="665.6" stroke="#d43333" stroke-width="4.6"/><line x1="45.2" y1="665.0" x2="46.0" y2="671.8" stroke="#d43333" stroke-width="4.6"/><line x1="45.9" y1="671.2" x2="46.7" y2="677.9" stroke="#d33333" stroke-width="4.6"/><line x1="46.6" y1="677.3" x2="47.4" y2="684.1" stroke="#d23333" stroke-width="4.6"/><line x1="47.3" y1="683.5" x2="48.0" y2="690.0" stroke="#d13333" stroke-width="4.6"/><line x1="48.0" y1="690.0" x2="48.7" y2="696.5" stroke="#d03333" stroke-width="4.8"/><line x1="48.6" y1="695.9" x2="49.4" y2="702.8" stroke="#cf3333" stroke-width="4.8"/><line x1="49.3" y1="702.2" x2="50.1" y2="709.0" stroke="#cf3333" stroke-width="4.8"/><line x1="50.0" y1="708.4" x2="50.8" y2="715.2" stroke="#ce3333" stroke-width="4.8"/><line x1="50.7" y1="714.6" x2="51.4" y2="721.5" stroke="#cd3333" stroke-width="4.8"/><line x1="51.4" y1="720.9" x2="52.1" y2="727.7" stroke="#cc3333" stroke-width="4.8"/><line x1="52.1" y1="727.1" x2="52.8" y2="734.0" stroke="#cb3333" stroke-width="4.8"/><line x1="52.7" y1="733.4" x2="53.5" y2="740.2" stroke="#ca3333" stroke-width="4.8"/><line x1="53.4" y1="739.6" x2="54.2" y2="746.4" stroke="#c93333" stroke-width="4.8"/><line x1="54.1" y1="745.8" x2="54.9" y2="752.7" stroke="#c93333" stroke-width="4.8"/><line x1="54.8" y1="752.1" x2="55.5" y2="758.6" stroke="#c83333" stroke-width="4.8"/><line x1="55.5" y1="758.6" x2="59.6" y2="764.0" stroke="#c73333" stroke-width="4.8"/><line x1="59.6" y1="764.0" x2="65.8" y2="766.9" stroke="#c73333" stroke-width="4.8"/><line x1="65.3" y1="766.6" x2="71.7" y2="769.6" stroke="#c73333" stroke-width="4.8"/><line x1="71.2" y1="769.3" x2="77.7" y2="772.3" stroke="#c73333" stroke-width="4.8"/><line x1="77.1" y1="772.1" x2="83.6" y2="775.1" stroke="#c73333" stroke-width="4.8"/><line x1="83.1" y1="774.8" x2="89.5" y2="777.8" stroke="#c73333" stroke-width="4.8"/><line x1="89.0" y1="777.5" x2="95.2" y2="780.4" stroke="#c73333" stroke-width="4.8"/><line x1="95.2" y1="780.4" x2="92.4" y2="788.0" stroke="#c73333" stroke-width="4.8"/><line x1="92.6" y1="787.4" x2="89.6" y2="795.3" stroke="#c73333" stroke-width="4.8"/><line x1="89.8" y1="794.7" x2="87.0" y2="802.3" stroke="#c73333" stroke-width="4.8"/><line x1="87.0" y1="802.3" x2="89.7" y2="807.8" stroke="#c73333" stroke-width="4.8"/><line x1="89.7" y1="807.8" x2="96.1" y2="810.6" stroke="#c73333" stroke-width="4.8"/><line x1="95.6" y1="810.4" x2="102.3" y2="813.4" stroke="#c73333" stroke-width="4.8"/><line x1="101.7" y1="813.1" x2="108.4" y2="816.1" stroke="#c73333" stroke-width="4.8"/><line x1="107.9" y1="815.9" x2="114.3" y2="818.7" stroke="#c73333" stroke-width="4.8"/><circle cx="100.7" cy="440.0" r="1.85" fill="#ff8633"/><circle cx="90.0" cy="479.0" r="1.75" fill="#ff6033"/><circle cx="70.0" cy="540.0" r="1.75" fill="#ff4a33"/><circle cx="48.7" cy="600.0" r="1.75" fill="#f63b33"/><circle cx="39.1" cy="620.5" r="1.95" fill="#e33333"/><circle cx="40.5" cy="622.0" r="2.25" fill="#da3333"/><circle cx="48.0" cy="690.0" r="2.35" fill="#d13333"/><circle cx="55.5" cy="758.6" r="2.40" fill="#c73333"/><circle cx="59.6" cy="764.0" r="2.40" fill="#c73333"/><circle cx="95.2" cy="780.4" r="2.40" fill="#c73333"/><circle cx="87.0" cy="802.3" r="2.40" fill="#c73333"/><circle cx="89.7" cy="807.8" r="2.40" fill="#c73333"/><line x1="287.0" y1="304.0" x2="293.4" y2="304.1" stroke="#8affa2" stroke-width="3.2"/><line x1="292.8" y1="304.1" x2="299.6" y2="304.2" stroke="#8cffa0" stroke-width="3.2"/><line x1="299.0" y1="304.2" x2="305.4" y2="304.3" stroke="#8eff9d" stroke-width="3.2"/><line x1="305.4" y1="304.3" x2="308.3" y2="313.9" stroke="#92ff99" stroke-width="3.5"/><line x1="308.3" y1="313.9" x2="314.3" y2="317.0" stroke="#96ff96" stroke-width="4.3"/><line x1="313.8" y1="316.7" x2="320.0" y2="320.0" stroke="#96ff96" stroke-width="4.3"/><line x1="319.5" y1="319.7" x2="325.7" y2="322.9" stroke="#96ff96" stroke-width="4.3"/><line x1="325.2" y1="322.7" x2="331.5" y2="325.9" stroke="#96ff96" stroke-width="4.3"/><line x1="330.9" y1="325.6" x2="337.2" y2="328.9" stroke="#96ff96" stroke-width="4.3"/><line x1="336.6" y1="328.6" x2="342.9" y2="331.8" stroke="#96ff96" stroke-width="4.3"/><line x1="342.4" y1="331.6" x2="348.6" y2="334.8" stroke="#96ff96" stroke-width="4.3"/><line x1="348.1" y1="334.5" x2="354.3" y2="337.8" stroke="#96ff96" stroke-width="4.3"/><line x1="353.8" y1="337.5" x2="359.8" y2="340.6" stroke="#96ff96" stroke-width="4.3"/><circle cx="305.4" cy="304.3" r="1.65" fill="#8fff9c"/><circle cx="308.3" cy="313.9" r="1.90" fill="#96ff96"/><line x1="359.8" y1="340.6" x2="362.8" y2="334.2" stroke="#96ff96" stroke-width="6.6"/><line x1="362.5" y1="334.8" x2="365.6" y2="328.1" stroke="#96ff96" stroke-width="6.6"/><line x1="365.4" y1="328.6" x2="368.4" y2="322.0" stroke="#96ff96" stroke-width="6.6"/><line x1="368.2" y1="322.5" x2="371.3" y2="315.8" stroke="#96ff96" stroke-width="6.6"/><line x1="371.0" y1="316.4" x2="374.0" y2="310.0" stroke="#96ff96" stroke-width="6.6"/><line x1="374.0" y1="310.0" x2="380.5" y2="311.0" stroke="#96ff96" stroke-width="5.8"/><line x1="380.0" y1="311.0" x2="386.5" y2="312.0" stroke="#96ff96" stroke-width="5.8"/><circle cx="374.0" cy="310.0" r="3.15" fill="#96ff96"/><line x1="359.8" y1="340.6" x2="365.8" y2="343.8" stroke="#ffe133" stroke-width="5.8"/><line x1="365.2" y1="343.5" x2="371.5" y2="346.9" stroke="#ffe133" stroke-width="5.8"/><line x1="371.0" y1="346.6" x2="377.2" y2="350.0" stroke="#ffe133" stroke-width="5.8"/><line x1="376.7" y1="349.7" x2="382.9" y2="353.1" stroke="#ffe133" stroke-width="5.8"/><line x1="382.4" y1="352.8" x2="388.6" y2="356.2" stroke="#ffe133" stroke-width="5.8"/><line x1="388.1" y1="355.9" x2="394.3" y2="359.3" stroke="#ffe133" stroke-width="5.8"/><line x1="393.8" y1="359.0" x2="400.1" y2="362.4" stroke="#ffe133" stroke-width="5.8"/><line x1="399.5" y1="362.1" x2="405.5" y2="365.3" stroke="#ffe133" stroke-width="5.8"/><line x1="405.5" y1="365.3" x2="411.0" y2="357.7" stroke="#ffe133" stroke-width="5.8"/><circle cx="405.5" cy="365.3" r="2.90" fill="#ffe133"/><line x1="163.6" y1="280.7" x2="163.9" y2="287.3" stroke="#6fffbc" stroke-width="2.8"/><line x1="163.9" y1="286.7" x2="164.1" y2="293.6" stroke="#72ffba" stroke-width="2.8"/><line x1="164.1" y1="293.0" x2="164.4" y2="299.6" stroke="#74ffb8" stroke-width="2.8"/><line x1="153.6" y1="308.8" x2="161.4" y2="308.8" stroke="#82ffa9" stroke-width="4.8"/><line x1="211.0" y1="202.0" x2="207.2" y2="207.0" stroke="#339dff" stroke-width="2.3"/><line x1="207.6" y1="206.6" x2="203.6" y2="211.8" stroke="#33a5ff" stroke-width="2.3"/><line x1="204.0" y1="211.4" x2="200.0" y2="216.6" stroke="#33adff" stroke-width="2.3"/><line x1="200.4" y1="216.2" x2="196.4" y2="221.4" stroke="#33b6ff" stroke-width="2.3"/><line x1="196.8" y1="221.0" x2="193.0" y2="226.0" stroke="#33beff" stroke-width="2.3"/></g>
<g stroke="#000" stroke-width="1.4"><line x1="115.7" y1="17.6" x2="111.7" y2="20.3"/><line x1="145.7" y1="76.9" x2="140.7" y2="78.6"/><line x1="153.7" y1="97.2" x2="148.7" y2="99.5"/><line x1="161.5" y1="117.9" x2="155.9" y2="120.3"/><line x1="168.5" y1="139.3" x2="162.2" y2="140.8"/><line x1="174.8" y1="160.0" x2="168.0" y2="162.6"/><line x1="182.5" y1="180.7" x2="175.8" y2="183.3"/><line x1="192.0" y1="199.4" x2="185.5" y2="204.0"/><line x1="70.7" y1="87.7" x2="69.5" y2="92.0"/><line x1="97.0" y1="99.8" x2="94.9" y2="103.9"/><line x1="151.9" y1="112.8" x2="150.8" y2="118.0"/><line x1="179.9" y1="118.8" x2="178.7" y2="124.2"/><line x1="236.1" y1="130.5" x2="234.2" y2="135.8"/><line x1="262.4" y1="141.8" x2="260.7" y2="146.4"/><line x1="317.5" y1="156.7" x2="315.9" y2="161.0"/><line x1="344.4" y1="167.0" x2="342.2" y2="171.7"/><line x1="387.0" y1="201.2" x2="384.9" y2="205.4"/><line x1="426.3" y1="193.1" x2="430.5" y2="194.3"/><line x1="396.3" y1="197.4" x2="400.9" y2="198.0"/><line x1="398.7" y1="181.9" x2="403.5" y2="182.7"/><line x1="403.7" y1="166.7" x2="408.4" y2="168.5"/><line x1="418.0" y1="166.0" x2="414.2" y2="169.2"/><line x1="427.9" y1="177.8" x2="425.0" y2="180.7"/><line x1="438.9" y1="188.7" x2="436.5" y2="191.3"/><line x1="450.4" y1="199.2" x2="448.2" y2="201.7"/><line x1="462.1" y1="209.5" x2="459.9" y2="212.0"/><line x1="375.0" y1="96.4" x2="369.8" y2="94.1"/><line x1="364.9" y1="119.0" x2="359.7" y2="116.6"/><line x1="355.5" y1="141.8" x2="349.1" y2="138.9"/><line x1="345.4" y1="164.3" x2="339.1" y2="161.5"/><line x1="336.5" y1="187.2" x2="329.1" y2="184.3"/><line x1="327.0" y1="210.2" x2="319.0" y2="206.6"/><line x1="316.9" y1="232.7" x2="308.9" y2="229.2"/><line x1="308.6" y1="255.6" x2="300.2" y2="252.7"/><line x1="299.8" y1="278.8" x2="292.3" y2="276.0"/><line x1="291.5" y1="301.7" x2="285.1" y2="299.9"/><line x1="272.0" y1="122.0" x2="266.0" y2="121.5"/><line x1="229.5" y1="179.2" x2="226.0" y2="176.3"/><line x1="214.6" y1="197.3" x2="211.1" y2="194.4"/><line x1="199.4" y1="215.1" x2="195.8" y2="212.0"/><line x1="268.1" y1="168.5" x2="265.4" y2="167.6"/><line x1="261.9" y1="185.7" x2="259.3" y2="184.7"/><line x1="254.8" y1="202.6" x2="252.2" y2="201.3"/><line x1="247.2" y1="219.1" x2="244.6" y2="217.9"/><line x1="240.7" y1="235.9" x2="237.9" y2="234.9"/><line x1="234.6" y1="253.4" x2="232.0" y2="251.6"/><line x1="224.5" y1="268.5" x2="221.9" y2="266.8"/><line x1="210.4" y1="280.6" x2="208.4" y2="278.1"/><line x1="196.6" y1="292.4" x2="194.5" y2="290.0"/><line x1="181.9" y1="303.3" x2="180.0" y2="300.7"/><line x1="179.3" y1="236.7" x2="176.1" y2="232.8"/><line x1="167.5" y1="249.1" x2="162.9" y2="248.3"/><line x1="164.0" y1="268.3" x2="159.4" y2="267.4"/><line x1="158.3" y1="287.3" x2="154.1" y2="285.8"/><line x1="150.7" y1="305.4" x2="146.7" y2="303.6"/><line x1="190.9" y1="241.1" x2="185.5" y2="240.0"/><line x1="186.7" y1="261.5" x2="181.5" y2="260.4"/><line x1="188.5" y1="304.6" x2="188.2" y2="307.9"/><line x1="212.3" y1="299.2" x2="211.8" y2="302.6"/><line x1="227.7" y1="301.4" x2="227.2" y2="304.8"/><line x1="243.2" y1="303.4" x2="242.7" y2="306.8"/><line x1="274.1" y1="306.8" x2="273.8" y2="310.1"/><line x1="195.9" y1="325.1" x2="195.4" y2="328.7"/><line x1="210.1" y1="327.0" x2="209.6" y2="330.6"/><line x1="224.2" y1="328.8" x2="223.8" y2="332.4"/><line x1="238.4" y1="330.3" x2="238.1" y2="333.9"/><line x1="266.9" y1="333.2" x2="266.5" y2="336.8"/><line x1="281.1" y1="334.8" x2="280.7" y2="338.4"/><line x1="295.2" y1="335.7" x2="295.1" y2="339.3"/><line x1="239.2" y1="340.1" x2="239.1" y2="343.9"/><line x1="253.1" y1="344.7" x2="249.4" y2="345.3"/><line x1="261.7" y1="348.1" x2="261.6" y2="351.9"/><line x1="284.7" y1="342.4" x2="284.4" y2="346.2"/><line x1="181.1" y1="319.9" x2="175.8" y2="319.5"/><line x1="158.4" y1="378.1" x2="154.1" y2="377.6"/><line x1="156.4" y1="396.2" x2="152.1" y2="395.7"/><line x1="155.4" y1="414.2" x2="151.0" y2="414.0"/><line x1="154.7" y1="432.4" x2="150.3" y2="432.2"/><line x1="25.3" y1="338.0" x2="24.6" y2="342.2"/><line x1="44.5" y1="341.0" x2="43.9" y2="345.2"/><line x1="63.8" y1="343.9" x2="63.2" y2="348.1"/><line x1="83.1" y1="346.8" x2="82.5" y2="351.0"/><line x1="117.5" y1="333.1" x2="119.4" y2="337.3"/><line x1="152.0" y1="315.3" x2="153.7" y2="319.2"/><line x1="169.6" y1="307.0" x2="171.3" y2="310.5"/><line x1="140.5" y1="332.4" x2="136.2" y2="330.2"/><line x1="128.3" y1="363.5" x2="123.8" y2="362.0"/><line x1="118.5" y1="395.7" x2="113.7" y2="394.4"/><line x1="72.8" y1="399.2" x2="71.1" y2="403.6"/><line x1="87.4" y1="404.7" x2="85.7" y2="409.1"/><line x1="102.0" y1="410.1" x2="100.4" y2="414.5"/><line x1="128.3" y1="433.2" x2="126.9" y2="438.9"/><line x1="145.7" y1="435.6" x2="145.5" y2="441.3"/><line x1="163.9" y1="436.4" x2="163.6" y2="442.1"/><line x1="200.4" y1="440.2" x2="199.4" y2="446.0"/><line x1="218.3" y1="443.1" x2="217.4" y2="449.0"/><line x1="228.4" y1="438.8" x2="234.4" y2="440.5"/><line x1="244.7" y1="427.2" x2="244.8" y2="433.4"/><line x1="262.9" y1="427.0" x2="263.0" y2="433.2"/><line x1="281.1" y1="426.8" x2="281.2" y2="433.0"/><line x1="299.8" y1="428.3" x2="298.7" y2="434.4"/><line x1="317.6" y1="430.4" x2="317.0" y2="436.6"/><line x1="335.7" y1="432.3" x2="335.1" y2="438.5"/><line x1="353.8" y1="434.0" x2="353.3" y2="440.2"/><line x1="370.1" y1="444.3" x2="366.4" y2="449.9"/><line x1="385.3" y1="454.2" x2="381.7" y2="459.9"/><line x1="411.6" y1="467.0" x2="416.6" y2="468.6"/><line x1="426.9" y1="466.7" x2="424.5" y2="471.4"/><line x1="440.8" y1="473.7" x2="438.5" y2="478.3"/><line x1="421.6" y1="474.1" x2="422.2" y2="479.4"/><line x1="439.1" y1="475.7" x2="438.1" y2="481.0"/><line x1="455.7" y1="478.5" x2="454.8" y2="483.9"/><line x1="460.8" y1="472.5" x2="466.1" y2="473.1"/><line x1="462.4" y1="455.8" x2="467.8" y2="456.2"/><line x1="463.4" y1="439.0" x2="468.8" y2="439.3"/><line x1="477.9" y1="431.6" x2="474.6" y2="437.5"/><line x1="492.7" y1="439.8" x2="489.4" y2="445.6"/><line x1="507.5" y1="447.9" x2="504.2" y2="453.8"/><line x1="498.2" y1="466.8" x2="493.2" y2="464.2"/><line x1="484.6" y1="475.7" x2="487.9" y2="471.1"/><line x1="470.8" y1="466.0" x2="474.1" y2="461.3"/><line x1="104.1" y1="437.6" x2="99.2" y2="436.1"/><line x1="96.2" y1="465.0" x2="91.8" y2="463.8"/><line x1="87.9" y1="492.5" x2="83.7" y2="491.1"/><line x1="79.0" y1="519.6" x2="74.8" y2="518.3"/><line x1="69.9" y1="546.8" x2="65.8" y2="545.3"/><line x1="60.3" y1="573.8" x2="56.2" y2="572.3"/><line x1="43.7" y1="625.6" x2="38.2" y2="626.2"/><line x1="46.8" y1="654.0" x2="41.3" y2="654.6"/><line x1="49.9" y1="682.4" x2="44.5" y2="683.0"/><line x1="53.1" y1="710.9" x2="47.5" y2="711.5"/><line x1="56.2" y1="739.3" x2="50.6" y2="739.9"/><line x1="63.2" y1="762.5" x2="60.9" y2="767.7"/><line x1="89.2" y1="774.5" x2="86.8" y2="779.7"/><line x1="90.6" y1="800.8" x2="85.3" y2="798.8"/><line x1="108.9" y1="813.2" x2="106.6" y2="818.4"/></g>
<rect x="102.0" y="697.0" width="430.8" height="25.6" fill="url(#cb)" stroke="#000" stroke-width="1.2"/>
<line x1="201.1" y1="722.6" x2="201.1" y2="727.1" stroke="#000" stroke-width="1.2"/>
<text x="201.1" y="753" font-family="Liberation Serif" stroke="#fff" font-size="25.5" text-anchor="middle" stroke-width="0.35">50</text>
<line x1="302.2" y1="722.6" x2="302.2" y2="727.1" stroke="#000" stroke-width="1.2"/>
<text x="302.2" y="753" font-family="Liberation Serif" stroke="#fff" font-size="25.5" text-anchor="middle" stroke-width="0.35">100</text>
<line x1="403.3" y1="722.6" x2="403.3" y2="727.1" stroke="#000" stroke-width="1.2"/>
<text x="403.3" y="753" font-family="Liberation Serif" stroke="#fff" font-size="25.5" text-anchor="middle" stroke-width="0.35">150</text>
<line x1="504.4" y1="722.6" x2="504.4" y2="727.1" stroke="#000" stroke-width="1.2"/>
<text x="504.4" y="753" font-family="Liberation Serif" stroke="#fff" font-size="25.5" text-anchor="middle" stroke-width="0.35">200</text>
<text stroke-width="0.7" x="316.6" y="791" font-family="Liberation Serif" stroke="#fff" font-size="38.5" text-anchor="middle">Segment</text>
<g clip-path="url(#axclip)"><g fill="none" stroke-linejoin="round"><polyline points="677.6,634.8 695.5,620.8 713.5,630.3 731.4,624.6 749.4,644.7 767.4,615.9 785.3,617.8 803.3,626.1 821.2,627.1 839.2,625.1 857.2,587.0 875.1,577.7 893.1,539.4 911.0,529.8 929.0,600.4 947.0,590.6 964.9,584.7 982.9,591.3 1000.8,623.3 1018.8,642.6 1036.8,622.8 1054.7,629.0 1072.7,642.8 1090.6,636.1 1108.6,653.0 1126.6,623.9 1144.5,646.0 1162.5,639.8 1180.4,649.8 1198.4,642.3 1216.4,640.3 1234.3,647.6 1252.3,654.7 1270.2,655.3 1288.2,654.9 1306.2,655.1 1324.1,655.3 1342.1,655.2 1360.0,655.2 1378.0,655.2" stroke="#0000ff" stroke-opacity="0.50" stroke-width="1.10"/><polyline points="677.6,596.9 695.5,552.3 713.5,560.8 731.4,561.5 749.4,581.0 767.4,541.2 785.3,574.7 803.3,554.2 821.2,551.6 839.2,588.1 857.2,496.9 875.1,393.2 893.1,433.8 911.0,421.9 929.0,536.5 947.0,460.0 964.9,504.5 982.9,532.1 1000.8,565.3 1018.8,614.4 1036.8,583.4 1054.7,579.0 1072.7,592.1 1090.6,606.5 1108.6,627.9 1126.6,555.8 1144.5,575.2 1162.5,599.9 1180.4,639.4 1198.4,582.4 1216.4,596.3 1234.3,641.7 1252.3,648.1 1270.2,651.8 1288.2,653.8 1306.2,653.0 1324.1,654.3 1342.1,654.3 1360.0,654.9 1378.0,654.6" stroke="#0000ff" stroke-opacity="0.50" stroke-width="1.10"/><polyline points="677.6,642.0 695.5,626.5 713.5,611.8 731.4,631.5 749.4,642.2 767.4,609.9 785.3,635.1 803.3,618.3 821.2,606.2 839.2,641.7 857.2,620.2 875.1,564.4 893.1,510.3 911.0,551.4 929.0,590.3 947.0,567.3 964.9,594.6 982.9,610.1 1000.8,626.9 1018.8,644.9 1036.8,637.7 1054.7,630.9 1072.7,624.8 1090.6,613.6 1108.6,648.9 1126.6,624.8 1144.5,632.0 1162.5,648.5 1180.4,650.4 1198.4,637.3 1216.4,648.8 1234.3,650.0 1252.3,653.8 1270.2,654.8 1288.2,654.7 1306.2,654.6 1324.1,654.9 1342.1,655.2 1360.0,655.2 1378.0,655.3" stroke="#0000ff" stroke-opacity="0.50" stroke-width="1.10"/><polyline points="677.6,631.4 695.5,638.8 713.5,630.8 731.4,642.5 749.4,640.1 767.4,638.2 785.3,620.3 803.3,642.2 821.2,641.0 839.2,637.1 857.2,601.1 875.1,554.7 893.1,590.8 911.0,568.4 929.0,586.8 947.0,579.4 964.9,592.6 982.9,613.1 1000.8,626.1 1018.8,646.9 1036.8,647.0 1054.7,641.0 1072.7,637.6 1090.6,625.0 1108.6,645.1 1126.6,636.0 1144.5,635.5 1162.5,648.4 1180.4,654.6 1198.4,639.8 1216.4,654.9 1234.3,655.3 1252.3,655.3 1270.2,654.9 1288.2,655.0 1306.2,655.2 1324.1,654.9 1342.1,655.3 1360.0,655.3 1378.0,655.3" stroke="#0000f9" stroke-opacity="0.50" stroke-width="1.10"/><polyline points="677.6,607.1 695.5,593.7 713.5,572.1 731.4,582.9 749.4,615.1 767.4,601.9 785.3,578.4 803.3,574.0 821.2,552.8 839.2,613.2 857.2,562.6 875.1,505.7 893.1,483.2 911.0,428.6 929.0,544.3 947.0,467.6 964.9,539.5 982.9,588.7 1000.8,592.7 1018.8,629.5 1036.8,580.1 1054.7,590.9 1072.7,609.9 1090.6,597.1 1108.6,631.4 1126.6,581.6 1144.5,596.3 1162.5,609.3 1180.4,646.8 1198.4,584.8 1216.4,608.0 1234.3,647.7 1252.3,649.2 1270.2,652.9 1288.2,653.6 1306.2,654.0 1324.1,654.4 1342.1,654.3 1360.0,654.8 1378.0,655.0" stroke="#0000f4" stroke-opacity="0.50" stroke-width="1.10"/><polyline points="677.6,589.2 695.5,603.1 713.5,615.4 731.4,588.6 749.4,625.2 767.4,576.7 785.3,597.2 803.3,614.7 821.2,598.9 839.2,625.9 857.2,576.8 875.1,500.9 893.1,510.4 911.0,421.3 929.0,577.8 947.0,456.3 964.9,540.2 982.9,566.7 1000.8,599.5 1018.8,636.0 1036.8,598.1 1054.7,617.4 1072.7,611.3 1090.6,590.1 1108.6,641.4 1126.6,591.1 1144.5,606.3 1162.5,629.2 1180.4,648.1 1198.4,598.7 1216.4,622.2 1234.3,647.0 1252.3,652.0 1270.2,653.7 1288.2,654.2 1306.2,653.9 1324.1,654.1 1342.1,654.6 1360.0,655.0 1378.0,655.3" stroke="#0000ef" stroke-opacity="0.50" stroke-width="1.10"/><polyline points="677.6,636.1 695.5,633.1 713.5,635.4 731.4,639.0 749.4,631.4 767.4,639.0 785.3,637.2 803.3,630.1 821.2,633.2 839.2,646.0 857.2,587.2 875.1,529.6 893.1,550.2 911.0,570.2 929.0,609.3 947.0,565.5 964.9,587.3 982.9,606.7 1000.8,632.6 1018.8,648.6 1036.8,628.7 1054.7,640.7 1072.7,637.0 1090.6,637.7 1108.6,648.2 1126.6,631.2 1144.5,644.7 1162.5,645.4 1180.4,654.6 1198.4,653.6 1216.4,645.7 1234.3,651.3 1252.3,654.5 1270.2,655.1 1288.2,655.1 1306.2,655.3 1324.1,655.3 1342.1,655.2 1360.0,655.3 1378.0,655.3" stroke="#0000e9" stroke-opacity="0.50" stroke-width="1.10"/><polyline points="677.6,635.5 695.5,636.7 713.5,647.8 731.4,636.8 749.4,636.1 767.4,641.2 785.3,639.0 803.3,628.6 821.2,636.0 839.2,646.5 857.2,631.3 875.1,576.9 893.1,588.8 911.0,554.4 929.0,608.4 947.0,585.7 964.9,594.0 982.9,624.1 1000.8,639.5 1018.8,646.1 1036.8,642.1 1054.7,650.6 1072.7,646.9 1090.6,638.3 1108.6,649.4 1126.6,631.5 1144.5,651.2 1162.5,654.3 1180.4,654.8 1198.4,648.6 1216.4,655.0 1234.3,655.3 1252.3,655.0 1270.2,655.1 1288.2,655.3 1306.2,655.2 1324.1,655.3 1342.1,655.3 1360.0,655.3 1378.0,655.3" stroke="#0000e4" stroke-opacity="0.50" stroke-width="1.10"/><polyline points="677.6,648.1 695.5,630.9 713.5,634.8 731.4,623.8 749.4,643.1 767.4,626.9 785.3,625.3 803.3,608.9 821.2,644.1 839.2,639.9 857.2,625.8 875.1,579.2 893.1,581.1 911.0,567.8 929.0,620.0 947.0,579.2 964.9,591.3 982.9,623.5 1000.8,631.7 1018.8,642.6 1036.8,638.3 1054.7,639.8 1072.7,646.0 1090.6,630.8 1108.6,653.2 1126.6,636.0 1144.5,650.1 1162.5,652.5 1180.4,654.5 1198.4,635.9 1216.4,651.0 1234.3,655.3 1252.3,655.3 1270.2,655.3 1288.2,655.3 1306.2,655.3 1324.1,655.1 1342.1,655.3 1360.0,655.3 1378.0,655.3" stroke="#0000de" stroke-opacity="0.50" stroke-width="1.10"/><polyline points="677.6,612.4 695.5,598.1 713.5,621.6 731.4,581.3 749.4,630.0 767.4,594.3 785.3,607.4 803.3,590.8 821.2,613.8 839.2,603.6 857.2,547.6 875.1,556.2 893.1,506.0 911.0,548.7 929.0,597.1 947.0,513.1 964.9,557.5 982.9,574.3 1000.8,610.5 1018.8,641.7 1036.8,623.5 1054.7,593.1 1072.7,609.4 1090.6,614.8 1108.6,645.2 1126.6,611.2 1144.5,626.9 1162.5,603.2 1180.4,650.6 1198.4,612.3 1216.4,624.2 1234.3,647.0 1252.3,653.4 1270.2,653.9 1288.2,654.6 1306.2,654.2 1324.1,654.7 1342.1,654.8 1360.0,655.0 1378.0,655.2" stroke="#0000d9" stroke-opacity="0.50" stroke-width="1.10"/><polyline points="677.6,593.8 695.5,594.6 713.5,600.2 731.4,585.5 749.4,614.6 767.4,534.6 785.3,571.2 803.3,583.6 821.2,559.0 839.2,594.4 857.2,464.3 875.1,458.7 893.1,395.9 911.0,444.6 929.0,550.4 947.0,507.9 964.9,515.8 982.9,533.1 1000.8,580.1 1018.8,619.7 1036.8,568.2 1054.7,589.5 1072.7,597.7 1090.6,587.4 1108.6,626.6 1126.6,584.1 1144.5,554.4 1162.5,614.5 1180.4,645.5 1198.4,571.3 1216.4,600.3 1234.3,638.6 1252.3,646.5 1270.2,652.8 1288.2,653.9 1306.2,654.1 1324.1,654.4 1342.1,654.9 1360.0,655.0 1378.0,655.0" stroke="#0000d3" stroke-opacity="0.50" stroke-width="1.10"/><polyline points="677.6,624.9 695.5,604.7 713.5,609.1 731.4,585.4 749.4,629.0 767.4,588.6 785.3,604.9 803.3,597.7 821.2,591.8 839.2,626.0 857.2,555.2 875.1,579.3 893.1,540.0 911.0,462.9 929.0,570.5 947.0,480.4 964.9,544.5 982.9,599.5 1000.8,608.6 1018.8,639.0 1036.8,607.1 1054.7,624.1 1072.7,605.7 1090.6,624.9 1108.6,636.6 1126.6,612.7 1144.5,622.5 1162.5,627.0 1180.4,649.6 1198.4,608.9 1216.4,634.9 1234.3,647.2 1252.3,652.4 1270.2,654.3 1288.2,654.0 1306.2,654.4 1324.1,654.6 1342.1,654.8 1360.0,655.1 1378.0,655.1" stroke="#0000ce" stroke-opacity="0.50" stroke-width="1.10"/><polyline points="677.6,621.4 695.5,605.7 713.5,637.9 731.4,607.5 749.4,637.4 767.4,614.8 785.3,630.9 803.3,635.9 821.2,609.7 839.2,637.5 857.2,601.0 875.1,596.1 893.1,543.4 911.0,513.9 929.0,597.6 947.0,581.7 964.9,577.1 982.9,604.7 1000.8,631.0 1018.8,647.7 1036.8,611.5 1054.7,635.4 1072.7,641.8 1090.6,628.9 1108.6,646.9 1126.6,624.6 1144.5,627.0 1162.5,641.6 1180.4,654.1 1198.4,641.8 1216.4,642.0 1234.3,650.2 1252.3,653.6 1270.2,653.5 1288.2,654.9 1306.2,655.0 1324.1,655.1 1342.1,655.2 1360.0,655.3 1378.0,655.2" stroke="#0000c9" stroke-opacity="0.50" stroke-width="1.10"/><polyline points="677.6,612.2 695.5,571.3 713.5,600.4 731.4,583.8 749.4,616.0 767.4,586.5 785.3,574.8 803.3,592.1 821.2,578.8 839.2,614.6 857.2,545.2 875.1,498.8 893.1,478.7 911.0,474.3 929.0,561.4 947.0,514.9 964.9,521.9 982.9,583.2 1000.8,610.1 1018.8,640.1 1036.8,620.0 1054.7,574.2 1072.7,600.6 1090.6,593.4 1108.6,642.2 1126.6,590.9 1144.5,589.1 1162.5,617.2 1180.4,643.0 1198.4,584.4 1216.4,608.3 1234.3,641.9 1252.3,649.7 1270.2,652.3 1288.2,653.5 1306.2,654.1 1324.1,654.3 1342.1,654.9 1360.0,655.1 1378.0,654.9" stroke="#0000c3" stroke-opacity="0.50" stroke-width="1.10"/><polyline points="677.6,603.5 695.5,602.3 713.5,610.6 731.4,569.9 749.4,611.3 767.4,583.9 785.3,590.6 803.3,573.2 821.2,562.6 839.2,610.1 857.2,522.3 875.1,504.5 893.1,432.9 911.0,408.2 929.0,575.2 947.0,471.2 964.9,522.0 982.9,573.1 1000.8,575.6 1018.8,635.2 1036.8,596.5 1054.7,600.0 1072.7,602.1 1090.6,605.3 1108.6,639.6 1126.6,610.2 1144.5,605.2 1162.5,631.5 1180.4,647.1 1198.4,616.0 1216.4,602.6 1234.3,648.7 1252.3,650.7 1270.2,652.7 1288.2,653.5 1306.2,654.4 1324.1,654.2 1342.1,654.7 1360.0,654.8 1378.0,655.2" stroke="#0000be" stroke-opacity="0.50" stroke-width="1.10"/><polyline points="677.6,629.2 695.5,624.7 713.5,641.6 731.4,611.1 749.4,636.6 767.4,611.2 785.3,610.2 803.3,623.7 821.2,590.6 839.2,633.1 857.2,581.1 875.1,545.6 893.1,521.1 911.0,495.9 929.0,595.3 947.0,505.9 964.9,566.0 982.9,602.7 1000.8,623.0 1018.8,638.1 1036.8,619.1 1054.7,629.1 1072.7,633.3 1090.6,625.2 1108.6,643.8 1126.6,621.6 1144.5,622.3 1162.5,641.7 1180.4,652.1 1198.4,622.2 1216.4,630.0 1234.3,647.0 1252.3,652.6 1270.2,653.6 1288.2,654.9 1306.2,654.6 1324.1,655.0 1342.1,655.3 1360.0,655.0 1378.0,655.2" stroke="#0000b8" stroke-opacity="0.50" stroke-width="1.10"/><polyline points="677.6,626.6 695.5,620.3 713.5,636.1 731.4,629.1 749.4,640.2 767.4,615.6 785.3,626.3 803.3,637.9 821.2,642.9 839.2,644.7 857.2,606.6 875.1,610.9 893.1,573.5 911.0,553.8 929.0,624.4 947.0,581.5 964.9,606.3 982.9,615.0 1000.8,640.6 1018.8,645.4 1036.8,618.4 1054.7,641.4 1072.7,642.8 1090.6,650.4 1108.6,648.2 1126.6,633.9 1144.5,637.3 1162.5,650.4 1180.4,654.4 1198.4,654.2 1216.4,645.7 1234.3,654.2 1252.3,654.7 1270.2,654.9 1288.2,655.1 1306.2,655.3 1324.1,655.1 1342.1,655.3 1360.0,655.3 1378.0,655.3" stroke="#0000b3" stroke-opacity="0.50" stroke-width="1.10"/><polyline points="677.6,609.3 695.5,603.7 713.5,559.4 731.4,565.5 749.4,613.5 767.4,582.7 785.3,555.4 803.3,558.2 821.2,533.9 839.2,611.2 857.2,514.4 875.1,461.5 893.1,475.0 911.0,478.6 929.0,565.8 947.0,445.4 964.9,562.0 982.9,586.0 1000.8,589.5 1018.8,623.9 1036.8,595.0 1054.7,576.7 1072.7,584.7 1090.6,590.8 1108.6,632.9 1126.6,588.2 1144.5,588.7 1162.5,610.7 1180.4,650.5 1198.4,557.0 1216.4,617.7 1234.3,638.2 1252.3,650.6 1270.2,653.2 1288.2,653.6 1306.2,653.5 1324.1,654.3 1342.1,654.8 1360.0,654.7 1378.0,655.0" stroke="#0000ae" stroke-opacity="0.50" stroke-width="1.10"/><polyline points="677.6,600.4 695.5,572.5 713.5,586.3 731.4,592.3 749.4,615.1 767.4,562.3 785.3,594.8 803.3,603.7 821.2,559.3 839.2,617.9 857.2,549.8 875.1,519.6 893.1,503.3 911.0,457.4 929.0,559.2 947.0,544.9 964.9,518.9 982.9,577.3 1000.8,600.3 1018.8,627.1 1036.8,572.7 1054.7,581.5 1072.7,605.0 1090.6,589.0 1108.6,634.9 1126.6,589.1 1144.5,601.5 1162.5,612.0 1180.4,645.2 1198.4,570.8 1216.4,623.7 1234.3,643.7 1252.3,650.8 1270.2,653.3 1288.2,654.2 1306.2,653.6 1324.1,654.4 1342.1,654.6 1360.0,655.0 1378.0,655.1" stroke="#0000a8" stroke-opacity="0.50" stroke-width="1.10"/><polyline points="677.6,570.9 695.5,572.4 713.5,584.2 731.4,540.0 749.4,609.7 767.4,559.6 785.3,578.4 803.3,581.2 821.2,546.3 839.2,592.4 857.2,540.8 875.1,459.9 893.1,443.7 911.0,434.6 929.0,507.3 947.0,502.9 964.9,524.2 982.9,550.2 1000.8,609.5 1018.8,623.9 1036.8,583.5 1054.7,571.5 1072.7,582.3 1090.6,579.2 1108.6,640.3 1126.6,579.2 1144.5,584.6 1162.5,602.1 1180.4,643.0 1198.4,581.1 1216.4,602.4 1234.3,641.7 1252.3,648.9 1270.2,652.2 1288.2,652.9 1306.2,653.8 1324.1,654.1 1342.1,654.3 1360.0,654.7 1378.0,655.0" stroke="#0000a3" stroke-opacity="0.50" stroke-width="1.10"/><polyline points="677.6,622.2 695.5,618.1 713.5,621.7 731.4,598.0 749.4,634.3 767.4,614.3 785.3,627.8 803.3,618.1 821.2,617.4 839.2,625.9 857.2,604.4 875.1,583.2 893.1,576.9 911.0,546.6 929.0,605.5 947.0,555.5 964.9,589.7 982.9,613.0 1000.8,635.2 1018.8,642.3 1036.8,612.2 1054.7,623.2 1072.7,623.2 1090.6,623.6 1108.6,648.1 1126.6,624.7 1144.5,614.5 1162.5,618.8 1180.4,648.6 1198.4,631.5 1216.4,631.1 1234.3,646.6 1252.3,653.6 1270.2,653.9 1288.2,654.8 1306.2,655.0 1324.1,655.1 1342.1,655.1 1360.0,655.2 1378.0,655.3" stroke="#00009d" stroke-opacity="0.50" stroke-width="1.10"/><polyline points="677.6,629.7 695.5,626.0 713.5,619.4 731.4,637.8 749.4,631.4 767.4,597.4 785.3,631.9 803.3,619.6 821.2,629.7 839.2,635.2 857.2,590.5 875.1,535.3 893.1,458.0 911.0,540.3 929.0,590.5 947.0,588.7 964.9,589.8 982.9,591.6 1000.8,622.7 1018.8,636.6 1036.8,624.0 1054.7,632.0 1072.7,628.6 1090.6,629.0 1108.6,643.6 1126.6,622.7 1144.5,629.2 1162.5,646.2 1180.4,649.6 1198.4,616.4 1216.4,633.7 1234.3,650.7 1252.3,653.0 1270.2,653.6 1288.2,654.8 1306.2,654.3 1324.1,655.0 1342.1,655.0 1360.0,655.1 1378.0,655.2" stroke="#000098" stroke-opacity="0.50" stroke-width="1.10"/><polyline points="677.6,620.1 695.5,617.2 713.5,611.4 731.4,593.2 749.4,633.0 767.4,625.2 785.3,615.4 803.3,615.7 821.2,604.1 839.2,622.0 857.2,588.9 875.1,578.0 893.1,539.9 911.0,477.6 929.0,580.0 947.0,551.3 964.9,555.9 982.9,606.7 1000.8,620.1 1018.8,643.2 1036.8,619.6 1054.7,635.7 1072.7,611.5 1090.6,609.8 1108.6,641.3 1126.6,604.7 1144.5,617.9 1162.5,642.9 1180.4,649.5 1198.4,606.6 1216.4,630.0 1234.3,651.8 1252.3,654.0 1270.2,653.6 1288.2,654.9 1306.2,655.0 1324.1,654.4 1342.1,655.3 1360.0,655.2 1378.0,655.2" stroke="#000092" stroke-opacity="0.50" stroke-width="1.10"/><polyline points="677.6,648.7 695.5,630.8 713.5,629.5 731.4,611.3 749.4,632.3 767.4,624.9 785.3,616.8 803.3,626.3 821.2,588.6 839.2,629.3 857.2,599.0 875.1,530.8 893.1,546.7 911.0,471.4 929.0,584.6 947.0,581.5 964.9,560.9 982.9,586.1 1000.8,628.9 1018.8,643.9 1036.8,629.5 1054.7,622.6 1072.7,626.9 1090.6,615.4 1108.6,645.9 1126.6,643.3 1144.5,632.4 1162.5,635.5 1180.4,651.4 1198.4,623.3 1216.4,649.8 1234.3,649.3 1252.3,655.3 1270.2,653.3 1288.2,654.5 1306.2,654.5 1324.1,655.2 1342.1,655.2 1360.0,655.3 1378.0,655.0" stroke="#00008d" stroke-opacity="0.50" stroke-width="1.10"/><polyline points="677.6,602.1 695.5,586.8 713.5,599.8 731.4,597.4 749.4,610.4 767.4,590.3 785.3,590.0 803.3,573.9 821.2,592.8 839.2,615.5 857.2,540.3 875.1,493.3 893.1,475.9 911.0,414.4 929.0,562.6 947.0,413.9 964.9,509.4 982.9,576.9 1000.8,555.8 1018.8,634.6 1036.8,600.7 1054.7,603.9 1072.7,602.2 1090.6,603.6 1108.6,635.2 1126.6,581.8 1144.5,590.5 1162.5,623.6 1180.4,642.2 1198.4,592.4 1216.4,615.7 1234.3,642.9 1252.3,650.1 1270.2,651.0 1288.2,654.1 1306.2,653.9 1324.1,654.6 1342.1,655.0 1360.0,654.9 1378.0,654.8" stroke="#000088" stroke-opacity="0.50" stroke-width="1.10"/><polyline points="677.6,635.8 695.5,621.5 713.5,624.9 731.4,618.0 749.4,628.8 767.4,631.9 785.3,627.2 803.3,613.1 821.2,631.6 839.2,630.1 857.2,588.4 875.1,564.8 893.1,518.1 911.0,564.5 929.0,607.6 947.0,588.4 964.9,582.8 982.9,606.9 1000.8,630.5 1018.8,648.0 1036.8,617.8 1054.7,635.0 1072.7,626.5 1090.6,632.3 1108.6,649.1 1126.6,636.4 1144.5,634.6 1162.5,648.9 1180.4,648.3 1198.4,615.8 1216.4,620.4 1234.3,653.4 1252.3,654.0 1270.2,655.0 1288.2,654.6 1306.2,654.8 1324.1,654.9 1342.1,655.0 1360.0,655.3 1378.0,655.3" stroke="#000082" stroke-opacity="0.50" stroke-width="1.10"/><polyline points="1090.6,595.9 1108.6,583.9 1126.6,380.4 1144.5,314.6 1162.5,488.1 1180.4,512.1 1198.4,376.8 1216.4,428.3 1234.3,536.0 1252.3,619.8 1270.2,631.8 1288.2,643.7" stroke="#000097" stroke-opacity="0.50" stroke-width="1.10"/><polyline points="1090.6,607.8 1108.6,619.8 1126.6,404.3 1144.5,428.3 1162.5,571.9 1180.4,619.8 1198.4,464.2 1216.4,536.0 1234.3,607.8" stroke="#0000ae" stroke-opacity="0.50" stroke-width="1.10"/><polyline points="1234.3,643.7 1252.3,631.8 1270.2,619.8 1288.2,649.7 1306.2,549.2 1324.1,623.4 1342.1,563.5 1360.0,495.3 1378.0,638.9" stroke="#0000a2" stroke-opacity="0.50" stroke-width="1.10"/><polyline points="1234.3,643.7 1252.3,637.7 1270.2,631.8 1288.2,643.7 1306.2,559.9 1324.1,619.8 1342.1,607.8 1360.0,586.3 1378.0,643.7" stroke="#0000b9" stroke-opacity="0.50" stroke-width="1.10"/><polyline points="1198.4,536.0 1216.4,512.1 1234.3,500.1 1252.3,571.9 1270.2,595.9 1288.2,631.8" stroke="#0000f3" stroke-opacity="0.50" stroke-width="1.10"/><polyline points="677.6,607.2 695.5,581.8 713.5,645.3 731.4,638.6 749.4,646.0 767.4,626.1 785.3,624.4 803.3,596.0 821.2,637.8 839.2,592.8 857.2,628.9 875.1,557.4 893.1,592.2 911.0,587.3 929.0,611.1 947.0,529.6 964.9,611.2 982.9,636.0 1000.8,603.9 1018.8,650.1 1036.8,648.4 1054.7,630.7 1072.7,649.7 1090.6,649.2 1108.6,652.8 1126.6,648.7 1144.5,649.9 1162.5,651.6 1180.4,650.2 1198.4,613.5 1216.4,649.7 1234.3,655.1 1252.3,649.2 1270.2,647.6 1288.2,654.6 1306.2,654.2 1324.1,652.3 1342.1,654.8 1360.0,655.1 1378.0,654.8" stroke="#820000" stroke-opacity="0.75" stroke-width="1.35"/><polyline points="677.6,615.3 695.5,575.0 713.5,636.8 731.4,615.0 749.4,640.6 767.4,604.6 785.3,554.5 803.3,590.7 821.2,640.7 839.2,630.5 857.2,578.9 875.1,452.0 893.1,494.4 911.0,547.6 929.0,553.4 947.0,525.0 964.9,584.6 982.9,625.3 1000.8,604.4 1018.8,631.7 1036.8,629.7 1054.7,628.8 1072.7,649.9 1090.6,632.0 1108.6,626.2 1126.6,634.2 1144.5,649.8 1162.5,594.2 1180.4,632.6 1198.4,568.5 1216.4,634.5 1234.3,650.0 1252.3,654.8 1270.2,640.8 1288.2,646.7 1306.2,654.1 1324.1,654.7 1342.1,652.9 1360.0,654.8 1378.0,654.2" stroke="#880000" stroke-opacity="0.75" stroke-width="1.35"/><polyline points="677.6,603.2 695.5,629.8 713.5,600.8 731.4,605.6 749.4,616.9 767.4,591.5 785.3,587.6 803.3,543.9 821.2,581.2 839.2,620.4 857.2,556.7 875.1,514.3 893.1,472.0 911.0,533.6 929.0,522.7 947.0,532.0 964.9,517.6 982.9,616.7 1000.8,595.2 1018.8,634.1 1036.8,629.1 1054.7,613.9 1072.7,629.9 1090.6,614.4 1108.6,641.5 1126.6,622.3 1144.5,612.4 1162.5,584.2 1180.4,630.6 1198.4,640.4 1216.4,633.2 1234.3,653.3 1252.3,629.3 1270.2,654.2 1288.2,650.7 1306.2,650.2 1324.1,654.9 1342.1,653.6 1360.0,653.0 1378.0,653.4" stroke="#8d0000" stroke-opacity="0.75" stroke-width="1.35"/><polyline points="677.6,560.5 695.5,589.4 713.5,552.5 731.4,550.7 749.4,589.5 767.4,552.8 785.3,567.9 803.3,579.5 821.2,491.1 839.2,595.2 857.2,590.6 875.1,460.9 893.1,394.1 911.0,388.7 929.0,574.6 947.0,380.4 964.9,517.6 982.9,548.2 1000.8,548.9 1018.8,630.7 1036.8,537.3 1054.7,598.7 1072.7,622.6 1090.6,553.1 1108.6,625.7 1126.6,615.3 1144.5,608.0 1162.5,585.1 1180.4,610.8 1198.4,601.7 1216.4,613.0 1234.3,625.1 1252.3,639.7 1270.2,633.3 1288.2,649.9 1306.2,650.8 1324.1,650.1 1342.1,652.2 1360.0,652.7 1378.0,653.4" stroke="#920000" stroke-opacity="0.75" stroke-width="1.35"/><polyline points="677.6,619.9 695.5,617.6 713.5,617.4 731.4,617.4 749.4,622.5 767.4,614.7 785.3,609.8 803.3,610.5 821.2,613.1 839.2,614.9 857.2,606.8 875.1,425.7 893.1,490.7 911.0,526.7 929.0,609.7 947.0,561.9 964.9,581.4 982.9,630.6 1000.8,586.6 1018.8,624.3 1036.8,615.3 1054.7,543.3 1072.7,621.3 1090.6,594.4 1108.6,652.6 1126.6,605.7 1144.5,603.3 1162.5,576.4 1180.4,610.8 1198.4,581.1 1216.4,646.7 1234.3,655.0 1252.3,644.2 1270.2,646.8 1288.2,650.9 1306.2,653.2 1324.1,652.6 1342.1,655.1 1360.0,653.1 1378.0,654.3" stroke="#980000" stroke-opacity="0.75" stroke-width="1.35"/><polyline points="677.6,610.1 695.5,640.8 713.5,642.0 731.4,621.9 749.4,621.1 767.4,627.8 785.3,593.0 803.3,520.3 821.2,629.9 839.2,613.2 857.2,614.7 875.1,565.3 893.1,540.4 911.0,602.7 929.0,501.8 947.0,563.3 964.9,602.5 982.9,578.3 1000.8,646.9 1018.8,631.5 1036.8,595.4 1054.7,652.1 1072.7,629.8 1090.6,622.6 1108.6,621.6 1126.6,590.6 1144.5,621.9 1162.5,644.1 1180.4,636.1 1198.4,636.3 1216.4,637.5 1234.3,624.5 1252.3,635.1 1270.2,648.7 1288.2,653.9 1306.2,650.5 1324.1,655.0 1342.1,653.9 1360.0,654.9 1378.0,652.9" stroke="#9d0000" stroke-opacity="0.75" stroke-width="1.35"/><polyline points="911.0,416.3 929.0,524.0 947.0,300.2 964.9,344.5 982.9,416.3 1000.8,500.1 1018.8,601.8 1036.8,571.9" stroke="#a20000" stroke-opacity="0.80" stroke-width="1.40"/><polyline points="1126.6,548.0 1144.5,536.0 1162.5,538.4 1180.4,524.0 1198.4,583.9 1216.4,500.1 1234.3,470.2 1252.3,425.9 1270.2,458.2 1288.2,591.1 1306.2,563.5 1324.1,587.5 1342.1,601.8 1360.0,619.8 1378.0,641.3" stroke="#a20000" stroke-opacity="0.85" stroke-width="1.40"/><polyline points="677.6,651.3 695.5,651.8 713.5,651.1 731.4,651.4 749.4,651.4 767.4,651.1 785.3,651.2 803.3,650.1 821.2,649.2 839.2,650.9 857.2,603.1 875.1,483.7 893.1,545.4 911.0,295.6 929.0,555.8 947.0,489.2 964.9,569.6 982.9,561.7 1000.8,549.3 1018.8,596.5 1036.8,580.1 1054.7,636.2 1072.7,621.1 1090.6,611.7 1108.6,636.0 1126.6,566.6 1144.5,578.6 1162.5,576.0 1180.4,628.2 1198.4,609.0 1216.4,624.0 1234.3,644.6 1252.3,638.0 1270.2,645.2 1288.2,648.5 1306.2,650.6 1324.1,652.9 1342.1,652.6 1360.0,654.1 1378.0,654.0" stroke="#a30000" stroke-opacity="0.75" stroke-width="1.35"/><polyline points="677.6,649.0 695.5,647.3 713.5,647.9 731.4,648.0 749.4,647.7 767.4,645.8 785.3,646.5 803.3,646.5 821.2,645.7 839.2,647.2 857.2,648.6 875.1,566.3 893.1,608.9 911.0,596.4 929.0,512.9 947.0,579.3 964.9,576.4 982.9,566.3 1000.8,616.8 1018.8,641.5 1036.8,648.0 1054.7,649.4 1072.7,624.4 1090.6,647.8 1108.6,649.7 1126.6,647.8 1144.5,643.9 1162.5,652.7 1180.4,640.4 1198.4,651.3 1216.4,651.7 1234.3,654.0 1252.3,648.1 1270.2,655.0 1288.2,654.6 1306.2,655.1 1324.1,654.3 1342.1,654.1 1360.0,655.3 1378.0,654.7" stroke="#a80000" stroke-opacity="0.75" stroke-width="1.35"/><polyline points="677.6,631.7 695.5,631.3 713.5,629.1 731.4,630.2 749.4,633.6 767.4,629.9 785.3,627.9 803.3,626.6 821.2,626.2 839.2,626.9 857.2,581.8 875.1,410.5 893.1,428.8 911.0,403.3 929.0,559.1 947.0,447.9 964.9,483.0 982.9,508.7 1000.8,544.7 1018.8,613.9 1036.8,587.7 1054.7,550.7 1072.7,576.4 1090.6,542.8 1108.6,623.7 1126.6,570.6 1144.5,543.2 1162.5,615.4 1180.4,610.8 1198.4,583.6 1216.4,601.6 1234.3,629.8 1252.3,629.6 1270.2,636.7 1288.2,649.2 1306.2,651.2 1324.1,649.1 1342.1,649.7 1360.0,653.8 1378.0,651.2" stroke="#ae0000" stroke-opacity="0.75" stroke-width="1.35"/><polyline points="677.6,472.6 695.5,508.5 713.5,548.0 731.4,536.0 749.4,607.8 767.4,548.0 785.3,559.9" stroke="#ae0000" stroke-opacity="0.80" stroke-width="1.40"/><polyline points="857.2,536.0 875.1,416.3 893.1,267.9 911.0,296.6 929.0,512.1" stroke="#ae0000" stroke-opacity="0.80" stroke-width="1.40"/><polyline points="677.6,619.3 695.5,521.0 713.5,569.2 731.4,568.1 749.4,595.4 767.4,528.6 785.3,569.1 803.3,593.1 821.2,584.3 839.2,578.2 857.2,471.4 875.1,456.3 893.1,361.6 911.0,302.3 929.0,501.4 947.0,435.1 964.9,491.9 982.9,446.2 1000.8,516.2 1018.8,588.9 1036.8,528.4 1054.7,521.0 1072.7,612.6 1090.6,542.2 1108.6,626.3 1126.6,603.2 1144.5,553.5 1162.5,588.8 1180.4,631.2 1198.4,571.0 1216.4,608.4 1234.3,636.6 1252.3,630.5 1270.2,642.7 1288.2,646.7 1306.2,652.2 1324.1,654.1 1342.1,651.1 1360.0,651.2 1378.0,651.2" stroke="#b30000" stroke-opacity="0.75" stroke-width="1.35"/><polyline points="677.6,638.3 695.5,616.8 713.5,639.5 731.4,612.5 749.4,637.6 767.4,614.8 785.3,636.1 803.3,528.4 821.2,638.9 839.2,626.9 857.2,629.0 875.1,565.8 893.1,575.8 911.0,543.3 929.0,584.6 947.0,630.3 964.9,617.7 982.9,633.7 1000.8,616.6 1018.8,651.5 1036.8,652.1 1054.7,642.9 1072.7,604.0 1090.6,628.0 1108.6,645.6 1126.6,576.7 1144.5,648.1 1162.5,651.4 1180.4,653.8 1198.4,649.1 1216.4,622.9 1234.3,637.6 1252.3,655.0 1270.2,640.7 1288.2,651.9 1306.2,651.6 1324.1,653.6 1342.1,650.8 1360.0,654.3 1378.0,655.0" stroke="#b80000" stroke-opacity="0.75" stroke-width="1.35"/><polyline points="677.6,571.9 695.5,512.1 713.5,488.1 731.4,448.6 749.4,607.8 767.4,453.4 785.3,483.3 803.3,506.1 821.2,530.0 839.2,607.8 857.2,536.0" stroke="#b90000" stroke-opacity="0.80" stroke-width="1.40"/><polyline points="1180.4,631.8 1198.4,619.8 1216.4,583.9 1234.3,571.9 1252.3,548.0 1270.2,542.0 1288.2,631.8 1306.2,619.8 1324.1,631.8 1342.1,637.7 1360.0,643.7 1378.0,649.7" stroke="#b90000" stroke-opacity="0.85" stroke-width="1.30"/><polyline points="749.4,607.8 767.4,452.2 785.3,482.1 803.3,500.1 821.2,516.8 839.2,607.8 857.2,571.9" stroke="#b90000" stroke-opacity="0.80" stroke-width="1.40"/><polyline points="677.6,622.8 695.5,622.6 713.5,615.3 731.4,613.1 749.4,618.1 767.4,614.8 785.3,615.0 803.3,613.5 821.2,609.5 839.2,613.0 857.2,571.9 875.1,371.4 893.1,413.3 911.0,453.8 929.0,519.6 947.0,487.6 964.9,432.3 982.9,569.8 1000.8,553.9 1018.8,617.9 1036.8,596.3 1054.7,635.8 1072.7,591.1 1090.6,542.9 1108.6,604.6 1126.6,532.1 1144.5,605.0 1162.5,598.7 1180.4,633.1 1198.4,612.5 1216.4,610.4 1234.3,614.2 1252.3,634.8 1270.2,646.6 1288.2,653.4 1306.2,650.0 1324.1,651.1 1342.1,652.6 1360.0,652.2 1378.0,653.9" stroke="#be0000" stroke-opacity="0.75" stroke-width="1.35"/><polyline points="677.6,644.2 695.5,593.6 713.5,586.9 731.4,580.2 749.4,622.2 767.4,608.8 785.3,577.2 803.3,596.8 821.2,606.3 839.2,633.0 857.2,573.5 875.1,568.2 893.1,618.1 911.0,396.2 929.0,571.3 947.0,445.1 964.9,581.3 982.9,600.0 1000.8,596.4 1018.8,628.2 1036.8,627.2 1054.7,650.0 1072.7,540.0 1090.6,649.3 1108.6,643.3 1126.6,593.6 1144.5,611.8 1162.5,607.4 1180.4,639.2 1198.4,596.6 1216.4,615.3 1234.3,617.8 1252.3,653.6 1270.2,648.7 1288.2,653.2 1306.2,653.4 1324.1,652.0 1342.1,652.0 1360.0,654.9 1378.0,654.1" stroke="#c30000" stroke-opacity="0.75" stroke-width="1.35"/><polyline points="677.6,578.4 695.5,606.8 713.5,576.6 731.4,529.5 749.4,604.9 767.4,557.8 785.3,636.1 803.3,599.1 821.2,542.2 839.2,594.4 857.2,446.2 875.1,464.8 893.1,311.6 911.0,383.1 929.0,446.2 947.0,517.7 964.9,423.4 982.9,459.1 1000.8,545.0 1018.8,580.9 1036.8,521.0 1054.7,589.1 1072.7,598.7 1090.6,610.7 1108.6,618.3 1126.6,556.8 1144.5,550.4 1162.5,631.5 1180.4,631.8 1198.4,631.2 1216.4,611.4 1234.3,618.8 1252.3,643.4 1270.2,639.3 1288.2,651.6 1306.2,648.5 1324.1,653.0 1342.1,651.2 1360.0,654.4 1378.0,653.8" stroke="#c90000" stroke-opacity="0.75" stroke-width="1.35"/><polyline points="677.6,639.3 695.5,636.0 713.5,638.3 731.4,636.7 749.4,639.5 767.4,635.1 785.3,634.2 803.3,631.8 821.2,634.4 839.2,635.4 857.2,631.0 875.1,502.9 893.1,496.8 911.0,470.5 929.0,508.4 947.0,536.3 964.9,499.9 982.9,580.9 1000.8,595.9 1018.8,611.2 1036.8,624.2 1054.7,645.2 1072.7,596.3 1090.6,642.3 1108.6,649.3 1126.6,641.7 1144.5,582.4 1162.5,623.7 1180.4,653.5 1198.4,597.1 1216.4,571.7 1234.3,615.3 1252.3,650.5 1270.2,647.6 1288.2,651.8 1306.2,651.8 1324.1,653.7 1342.1,654.7 1360.0,653.7 1378.0,652.3" stroke="#ce0000" stroke-opacity="0.75" stroke-width="1.35"/><polyline points="1054.7,559.9 1072.7,536.0 1090.6,506.1 1108.6,607.8 1126.6,548.0" stroke="#d10000" stroke-opacity="0.80" stroke-width="1.30"/><polyline points="839.2,631.8 857.2,583.9 875.1,476.2 893.1,320.5 911.0,416.3 929.0,548.0 947.0,488.1" stroke="#d10000" stroke-opacity="0.80" stroke-width="1.30"/><polyline points="677.6,646.9 695.5,630.8 713.5,642.5 731.4,636.6 749.4,642.1 767.4,559.9 785.3,623.9 803.3,629.7 821.2,586.8 839.2,635.7 857.2,605.1 875.1,532.2 893.1,561.6 911.0,485.9 929.0,629.6 947.0,518.7 964.9,579.1 982.9,596.4 1000.8,596.5 1018.8,645.7 1036.8,625.4 1054.7,650.6 1072.7,647.0 1090.6,635.3 1108.6,646.6 1126.6,647.0 1144.5,622.0 1162.5,631.4 1180.4,636.9 1198.4,652.6 1216.4,653.9 1234.3,636.4 1252.3,646.6 1270.2,653.3 1288.2,654.9 1306.2,654.5 1324.1,653.9 1342.1,655.0 1360.0,655.0 1378.0,653.1" stroke="#d30000" stroke-opacity="0.75" stroke-width="1.35"/><polyline points="677.6,596.4 695.5,638.9 713.5,541.1 731.4,593.4 749.4,610.9 767.4,616.9 785.3,636.4 803.3,635.6 821.2,575.1 839.2,636.7 857.2,602.0 875.1,554.9 893.1,437.7 911.0,463.5 929.0,594.4 947.0,451.3 964.9,577.2 982.9,503.4 1000.8,627.3 1018.8,635.9 1036.8,584.8 1054.7,614.3 1072.7,616.8 1090.6,640.8 1108.6,636.9 1126.6,612.5 1144.5,579.8 1162.5,611.3 1180.4,649.2 1198.4,600.4 1216.4,634.8 1234.3,632.6 1252.3,649.7 1270.2,654.8 1288.2,650.3 1306.2,651.2 1324.1,654.7 1342.1,655.2 1360.0,654.7 1378.0,654.8" stroke="#d90000" stroke-opacity="0.75" stroke-width="1.35"/><polyline points="677.6,581.1 695.5,602.3 713.5,551.2 731.4,544.5 749.4,589.8 767.4,515.4 785.3,602.0 803.3,509.4 821.2,581.3 839.2,600.4 857.2,614.0 875.1,488.8 893.1,507.1 911.0,403.0 929.0,498.8 947.0,356.5 964.9,568.3 982.9,547.3 1000.8,587.8 1018.8,590.8 1036.8,583.2 1054.7,573.6 1072.7,540.9 1090.6,549.8 1108.6,602.3 1126.6,522.9 1144.5,570.2 1162.5,609.2 1180.4,649.6 1198.4,624.7 1216.4,611.9 1234.3,644.3 1252.3,638.8 1270.2,639.9 1288.2,651.7 1306.2,652.6 1324.1,653.3 1342.1,652.2 1360.0,654.3 1378.0,653.4" stroke="#de0000" stroke-opacity="0.75" stroke-width="1.35"/><polyline points="677.6,626.0 695.5,626.5 713.5,623.2 731.4,620.3 749.4,627.3 767.4,618.1 785.3,618.7 803.3,617.3 821.2,615.8 839.2,618.1 857.2,606.8 875.1,556.5 893.1,604.8 911.0,561.7 929.0,601.2 947.0,600.9 964.9,612.2 982.9,577.7 1000.8,616.0 1018.8,640.7 1036.8,626.3 1054.7,626.3 1072.7,651.0 1090.6,611.3 1108.6,653.0 1126.6,632.0 1144.5,649.1 1162.5,640.9 1180.4,642.0 1198.4,642.8 1216.4,648.2 1234.3,641.9 1252.3,651.8 1270.2,653.5 1288.2,654.6 1306.2,650.4 1324.1,652.5 1342.1,653.8 1360.0,654.8 1378.0,654.7" stroke="#e40000" stroke-opacity="0.75" stroke-width="1.35"/><polyline points="677.6,643.8 695.5,642.7 713.5,642.3 731.4,641.9 749.4,643.1 767.4,639.4 785.3,636.6 803.3,640.4 821.2,638.4 839.2,640.9 857.2,643.4 875.1,635.7 893.1,602.5 911.0,614.7 929.0,595.0 947.0,618.4 964.9,582.7 982.9,639.8 1000.8,552.4 1018.8,646.0 1036.8,651.7 1054.7,627.2 1072.7,647.0 1090.6,636.0 1108.6,651.1 1126.6,636.1 1144.5,639.0 1162.5,651.2 1180.4,653.5 1198.4,627.2 1216.4,653.1 1234.3,649.9 1252.3,654.8 1270.2,655.1 1288.2,654.9 1306.2,652.7 1324.1,655.0 1342.1,655.2 1360.0,655.2 1378.0,655.0" stroke="#e90100" stroke-opacity="0.75" stroke-width="1.35"/><polyline points="677.6,631.4 695.5,627.6 713.5,626.9 731.4,623.1 749.4,626.0 767.4,617.0 785.3,618.7 803.3,619.9 821.2,609.9 839.2,620.1 857.2,610.0 875.1,456.2 893.1,617.5 911.0,448.1 929.0,594.2 947.0,589.1 964.9,567.0 982.9,599.9 1000.8,597.5 1018.8,647.0 1036.8,605.3 1054.7,617.1 1072.7,585.7 1090.6,644.6 1108.6,606.9 1126.6,648.7 1144.5,615.0 1162.5,625.1 1180.4,636.8 1198.4,638.8 1216.4,653.9 1234.3,654.9 1252.3,635.3 1270.2,648.1 1288.2,654.7 1306.2,651.7 1324.1,654.2 1342.1,654.1 1360.0,655.1 1378.0,652.2" stroke="#ef0500" stroke-opacity="0.75" stroke-width="1.35"/><polyline points="911.0,476.2 929.0,536.0 947.0,356.5 964.9,416.3 982.9,476.2 1000.8,524.0 1018.8,607.8" stroke="#f30900" stroke-opacity="0.80" stroke-width="1.30"/><polyline points="677.6,595.9 695.5,548.0 713.5,516.8 731.4,484.5 749.4,583.9 767.4,536.0 785.3,548.0 803.3,559.9 821.2,548.0 839.2,619.8 857.2,559.9" stroke="#f30900" stroke-opacity="0.80" stroke-width="1.30"/><polyline points="677.6,644.1 695.5,643.6 713.5,623.2 731.4,616.8 749.4,618.4 767.4,589.8 785.3,594.3 803.3,601.2 821.2,630.5 839.2,644.7 857.2,643.3 875.1,632.5 893.1,619.4 911.0,602.5 929.0,602.0 947.0,609.9 964.9,622.3 982.9,639.2 1000.8,605.9 1018.8,649.2 1036.8,649.0 1054.7,649.4 1072.7,647.0 1090.6,647.8 1108.6,651.6 1126.6,648.5 1144.5,636.6 1162.5,641.9 1180.4,654.2 1198.4,651.5 1216.4,632.1 1234.3,654.8 1252.3,653.5 1270.2,650.3 1288.2,655.1 1306.2,652.7 1324.1,654.6 1342.1,655.1 1360.0,654.3 1378.0,654.3" stroke="#f40a00" stroke-opacity="0.75" stroke-width="1.35"/><polyline points="677.6,633.8 695.5,633.7 713.5,632.7 731.4,630.9 749.4,635.3 767.4,626.6 785.3,629.7 803.3,627.2 821.2,626.8 839.2,630.8 857.2,554.3 875.1,433.4 893.1,588.5 911.0,466.4 929.0,635.7 947.0,553.6 964.9,480.0 982.9,630.5 1000.8,641.8 1018.8,649.5 1036.8,594.7 1054.7,586.6 1072.7,528.5 1090.6,580.4 1108.6,652.4 1126.6,649.3 1144.5,610.9 1162.5,618.3 1180.4,652.2 1198.4,633.7 1216.4,643.1 1234.3,637.3 1252.3,647.7 1270.2,645.5 1288.2,649.6 1306.2,653.1 1324.1,653.5 1342.1,651.2 1360.0,654.8 1378.0,654.6" stroke="#f90e00" stroke-opacity="0.75" stroke-width="1.35"/><polyline points="677.6,618.0 695.5,617.8 713.5,614.9 731.4,616.2 749.4,618.9 767.4,613.2 785.3,612.8 803.3,601.5 821.2,603.7 839.2,608.7 857.2,627.9 875.1,441.9 893.1,545.9 911.0,611.4 929.0,603.6 947.0,559.7 964.9,535.8 982.9,568.4 1000.8,551.4 1018.8,623.9 1036.8,601.0 1054.7,579.6 1072.7,625.8 1090.6,620.9 1108.6,635.8 1126.6,631.4 1144.5,597.0 1162.5,635.1 1180.4,639.0 1198.4,629.9 1216.4,635.7 1234.3,647.9 1252.3,638.2 1270.2,644.6 1288.2,652.5 1306.2,651.3 1324.1,654.9 1342.1,655.0 1360.0,655.1 1378.0,653.5" stroke="#ff1300" stroke-opacity="0.75" stroke-width="1.35"/><polyline points="677.6,631.9 695.5,631.6 713.5,630.1 731.4,630.4 749.4,633.1 767.4,625.8 785.3,629.8 803.3,624.8 821.2,617.9 839.2,631.1 857.2,621.4 875.1,516.8 893.1,400.5 911.0,450.0 929.0,512.2 947.0,542.6 964.9,526.6 982.9,471.8 1000.8,630.8 1018.8,626.8 1036.8,572.7 1054.7,626.0 1072.7,583.5 1090.6,565.9 1108.6,608.9 1126.6,604.8 1144.5,589.5 1162.5,551.0 1180.4,626.6 1198.4,568.7 1216.4,565.9 1234.3,622.0 1252.3,631.0 1270.2,646.1 1288.2,652.0 1306.2,649.3 1324.1,650.4 1342.1,651.3 1360.0,652.3 1378.0,652.7" stroke="#ff1700" stroke-opacity="0.75" stroke-width="1.35"/><polyline points="677.6,650.8 695.5,650.0 713.5,650.5 731.4,650.2 749.4,651.1 767.4,650.2 785.3,649.1 803.3,649.8 821.2,649.3 839.2,650.3 857.2,603.0 875.1,486.5 893.1,428.0 911.0,518.0 929.0,591.8 947.0,467.3 964.9,626.2 982.9,519.7 1000.8,590.5 1018.8,619.0 1036.8,608.0 1054.7,582.0 1072.7,592.9 1090.6,609.1 1108.6,647.1 1126.6,566.0 1144.5,615.4 1162.5,592.6 1180.4,640.0 1198.4,618.6 1216.4,591.6 1234.3,613.9 1252.3,645.8 1270.2,648.3 1288.2,648.3 1306.2,654.0 1324.1,653.0 1342.1,652.3 1360.0,654.6 1378.0,655.1" stroke="#ff1c00" stroke-opacity="0.75" stroke-width="1.35"/><polyline points="1180.4,631.8 1198.4,607.8 1216.4,536.0 1234.3,524.0 1252.3,482.1 1270.2,524.0 1288.2,631.8 1306.2,607.8 1324.1,619.8 1342.1,631.8 1360.0,637.7 1378.0,648.5" stroke="#ff1c00" stroke-opacity="0.85" stroke-width="1.40"/><polyline points="677.6,620.1 695.5,552.1 713.5,632.5 731.4,603.2 749.4,596.7 767.4,616.9 785.3,607.4 803.3,590.2 821.2,566.2 839.2,602.1 857.2,643.8 875.1,568.4 893.1,575.1 911.0,596.6 929.0,586.1 947.0,383.0 964.9,625.9 982.9,610.8 1000.8,612.2 1018.8,619.0 1036.8,638.6 1054.7,521.0 1072.7,579.0 1090.6,630.0 1108.6,644.8 1126.6,523.8 1144.5,571.9 1162.5,624.3 1180.4,634.4 1198.4,608.6 1216.4,648.1 1234.3,648.0 1252.3,639.9 1270.2,651.1 1288.2,652.5 1306.2,654.3 1324.1,654.3 1342.1,652.9 1360.0,653.9 1378.0,654.7" stroke="#ff2000" stroke-opacity="0.75" stroke-width="1.35"/><polyline points="677.6,637.5 695.5,634.2 713.5,635.2 731.4,634.4 749.4,636.6 767.4,634.1 785.3,632.2 803.3,632.1 821.2,633.6 839.2,635.6 857.2,622.2 875.1,504.4 893.1,544.4 911.0,411.2 929.0,631.6 947.0,514.8 964.9,511.2 982.9,482.4 1000.8,576.1 1018.8,628.7 1036.8,614.0 1054.7,562.1 1072.7,611.3 1090.6,629.2 1108.6,640.0 1126.6,599.5 1144.5,587.5 1162.5,647.3 1180.4,625.5 1198.4,625.3 1216.4,600.7 1234.3,616.1 1252.3,647.9 1270.2,648.5 1288.2,647.1 1306.2,651.3 1324.1,650.5 1342.1,653.3 1360.0,654.1 1378.0,653.9" stroke="#ff2400" stroke-opacity="0.75" stroke-width="1.35"/><polyline points="677.6,645.4 695.5,640.9 713.5,636.0 731.4,630.2 749.4,629.0 767.4,630.0 785.3,635.6 803.3,594.0 821.2,620.3 839.2,643.0 857.2,592.3 875.1,633.1 893.1,551.8 911.0,607.0 929.0,623.3 947.0,614.2 964.9,591.8 982.9,610.6 1000.8,635.7 1018.8,644.2 1036.8,593.9 1054.7,602.2 1072.7,618.6 1090.6,621.4 1108.6,651.5 1126.6,649.8 1144.5,626.5 1162.5,645.8 1180.4,647.2 1198.4,652.8 1216.4,610.4 1234.3,654.8 1252.3,653.5 1270.2,648.7 1288.2,655.1 1306.2,655.2 1324.1,655.2 1342.1,655.0 1360.0,655.2 1378.0,654.5" stroke="#ff2900" stroke-opacity="0.75" stroke-width="1.35"/><polyline points="677.6,643.0 695.5,630.0 713.5,618.5 731.4,592.6 749.4,609.2 767.4,638.0 785.3,611.8 803.3,578.6 821.2,637.0 839.2,648.4 857.2,647.5 875.1,639.5 893.1,556.9 911.0,574.3 929.0,621.6 947.0,595.9 964.9,615.8 982.9,514.1 1000.8,628.4 1018.8,622.4 1036.8,647.9 1054.7,632.6 1072.7,647.2 1090.6,641.7 1108.6,651.3 1126.6,651.7 1144.5,626.0 1162.5,611.7 1180.4,645.0 1198.4,651.9 1216.4,638.4 1234.3,655.3 1252.3,643.3 1270.2,652.9 1288.2,653.7 1306.2,651.4 1324.1,654.9 1342.1,654.3 1360.0,655.0 1378.0,654.5" stroke="#ff2d00" stroke-opacity="0.75" stroke-width="1.35"/><polyline points="1180.4,631.8 1198.4,595.9 1216.4,536.0 1234.3,512.1 1252.3,497.7 1270.2,536.0 1288.2,631.8 1306.2,613.8 1324.1,625.8 1342.1,631.8 1360.0,641.3 1378.0,649.7" stroke="#ff2f00" stroke-opacity="0.85" stroke-width="1.40"/><polyline points="677.6,616.3 695.5,541.3 713.5,597.9 731.4,532.4 749.4,578.9 767.4,586.0 785.3,515.6 803.3,609.0 821.2,514.5 839.2,585.3 857.2,485.3 875.1,403.2 893.1,396.9 911.0,318.4 929.0,486.7 947.0,476.3 964.9,462.1 982.9,516.9 1000.8,491.1 1018.8,601.0 1036.8,556.2 1054.7,555.9 1072.7,528.5 1090.6,601.2 1108.6,618.6 1126.6,506.1 1144.5,528.5 1162.5,574.5 1180.4,628.9 1198.4,551.0 1216.4,592.4 1234.3,610.8 1252.3,635.2 1270.2,633.3 1288.2,651.6 1306.2,653.8 1324.1,650.8 1342.1,650.1 1360.0,652.3 1378.0,653.5" stroke="#ff3200" stroke-opacity="0.75" stroke-width="1.35"/><polyline points="677.6,620.8 695.5,622.8 713.5,619.6 731.4,620.8 749.4,623.4 767.4,616.4 785.3,616.3 803.3,610.3 821.2,615.4 839.2,614.9 857.2,600.9 875.1,443.4 893.1,329.3 911.0,572.3 929.0,526.6 947.0,399.6 964.9,528.7 982.9,476.2 1000.8,625.8 1018.8,610.9 1036.8,597.9 1054.7,594.5 1072.7,609.3 1090.6,633.6 1108.6,613.9 1126.6,591.9 1144.5,630.0 1162.5,587.9 1180.4,646.5 1198.4,602.3 1216.4,605.0 1234.3,636.5 1252.3,638.0 1270.2,651.9 1288.2,648.3 1306.2,655.1 1324.1,648.6 1342.1,653.2 1360.0,653.7 1378.0,654.7" stroke="#ff3600" stroke-opacity="0.75" stroke-width="1.35"/><polyline points="677.6,645.9 695.5,644.9 713.5,644.3 731.4,644.3 749.4,644.9 767.4,643.8 785.3,642.6 803.3,642.7 821.2,642.4 839.2,642.3 857.2,596.6 875.1,408.2 893.1,528.0 911.0,547.3 929.0,567.1 947.0,507.9 964.9,628.4 982.9,540.1 1000.8,552.3 1018.8,649.6 1036.8,590.4 1054.7,648.3 1072.7,626.4 1090.6,586.2 1108.6,650.7 1126.6,649.2 1144.5,634.5 1162.5,639.2 1180.4,633.8 1198.4,627.1 1216.4,640.6 1234.3,642.7 1252.3,649.6 1270.2,653.1 1288.2,649.5 1306.2,650.9 1324.1,654.3 1342.1,651.0 1360.0,654.8 1378.0,652.3" stroke="#ff3a00" stroke-opacity="0.75" stroke-width="1.35"/><polyline points="677.6,599.3 695.5,552.7 713.5,599.1 731.4,575.8 749.4,599.4 767.4,569.4 785.3,557.1 803.3,570.0 821.2,522.6 839.2,596.1 857.2,476.8 875.1,379.9 893.1,543.0 911.0,441.6 929.0,446.2 947.0,449.2 964.9,465.3 982.9,528.5 1000.8,561.2 1018.8,597.6 1036.8,564.2 1054.7,578.9 1072.7,628.5 1090.6,565.0 1108.6,612.9 1126.6,573.2 1144.5,563.8 1162.5,573.3 1180.4,634.7 1198.4,586.0 1216.4,631.0 1234.3,637.2 1252.3,631.7 1270.2,644.1 1288.2,651.7 1306.2,648.9 1324.1,649.7 1342.1,650.1 1360.0,651.7 1378.0,651.8" stroke="#ff3f00" stroke-opacity="0.75" stroke-width="1.35"/><polyline points="677.6,602.5 695.5,548.0 713.5,599.7 731.4,586.3 749.4,643.0 767.4,530.6 785.3,627.9 803.3,589.2 821.2,507.6 839.2,624.6 857.2,548.6 875.1,426.1 893.1,311.6 911.0,486.5 929.0,526.5 947.0,488.1 964.9,431.6 982.9,530.7 1000.8,516.4 1018.8,611.3 1036.8,574.0 1054.7,552.8 1072.7,569.2 1090.6,592.2 1108.6,609.3 1126.6,556.6 1144.5,577.0 1162.5,627.3 1180.4,631.9 1198.4,589.4 1216.4,605.6 1234.3,626.5 1252.3,639.8 1270.2,639.7 1288.2,648.4 1306.2,651.1 1324.1,653.2 1342.1,653.6 1360.0,652.5 1378.0,654.0" stroke="#ff4300" stroke-opacity="0.75" stroke-width="1.35"/><polyline points="677.6,618.5 695.5,618.7 713.5,616.6 731.4,621.5 749.4,623.7 767.4,613.5 785.3,612.5 803.3,609.5 821.2,611.1 839.2,612.6 857.2,617.0 875.1,629.6 893.1,564.3 911.0,419.5 929.0,542.9 947.0,573.2 964.9,590.0 982.9,591.8 1000.8,612.8 1018.8,648.3 1036.8,620.7 1054.7,608.4 1072.7,600.1 1090.6,621.9 1108.6,649.5 1126.6,624.8 1144.5,643.9 1162.5,617.0 1180.4,623.1 1198.4,616.9 1216.4,619.9 1234.3,647.8 1252.3,650.7 1270.2,655.2 1288.2,651.0 1306.2,654.0 1324.1,652.0 1342.1,653.3 1360.0,654.5 1378.0,654.7" stroke="#ff4800" stroke-opacity="0.75" stroke-width="1.35"/><polyline points="677.6,619.8 695.5,621.5 713.5,614.9 731.4,619.5 749.4,621.2 767.4,613.0 785.3,611.7 803.3,612.1 821.2,600.1 839.2,614.2 857.2,602.8 875.1,555.9 893.1,576.6 911.0,539.9 929.0,563.3 947.0,617.5 964.9,596.3 982.9,567.0 1000.8,587.8 1018.8,643.6 1036.8,646.7 1054.7,607.5 1072.7,649.4 1090.6,544.7 1108.6,646.7 1126.6,639.2 1144.5,600.3 1162.5,638.7 1180.4,653.8 1198.4,636.8 1216.4,653.2 1234.3,649.5 1252.3,655.1 1270.2,654.7 1288.2,653.3 1306.2,653.7 1324.1,654.9 1342.1,654.3 1360.0,654.9 1378.0,654.4" stroke="#ff4c00" stroke-opacity="0.75" stroke-width="1.35"/><polyline points="677.6,625.9 695.5,634.8 713.5,611.5 731.4,593.3 749.4,608.1 767.4,617.4 785.3,613.3 803.3,625.1 821.2,587.5 839.2,644.2 857.2,586.2 875.1,579.4 893.1,554.6 911.0,599.6 929.0,630.4 947.0,516.2 964.9,453.0 982.9,622.1 1000.8,635.4 1018.8,607.8 1036.8,596.1 1054.7,631.8 1072.7,602.8 1090.6,615.3 1108.6,625.1 1126.6,579.0 1144.5,549.2 1162.5,578.9 1180.4,634.5 1198.4,621.4 1216.4,602.7 1234.3,653.4 1252.3,632.1 1270.2,648.2 1288.2,650.1 1306.2,654.2 1324.1,651.2 1342.1,653.0 1360.0,654.1 1378.0,654.6" stroke="#ff5000" stroke-opacity="0.75" stroke-width="1.35"/><polyline points="677.6,591.1 695.5,618.8 713.5,574.6 731.4,581.3 749.4,639.4 767.4,611.0 785.3,506.1 803.3,577.0 821.2,589.4 839.2,644.9 857.2,518.5 875.1,557.8 893.1,516.7 911.0,448.9 929.0,537.1 947.0,448.3 964.9,536.2 982.9,548.0 1000.8,592.9 1018.8,593.0 1036.8,575.6 1054.7,607.5 1072.7,603.0 1090.6,563.8 1108.6,639.3 1126.6,568.2 1144.5,578.6 1162.5,582.5 1180.4,630.9 1198.4,551.0 1216.4,622.0 1234.3,625.2 1252.3,642.0 1270.2,639.3 1288.2,650.8 1306.2,649.6 1324.1,653.3 1342.1,652.1 1360.0,653.7 1378.0,652.4" stroke="#ff5500" stroke-opacity="0.75" stroke-width="1.35"/><polyline points="677.6,613.5 695.5,618.9 713.5,595.9 731.4,600.1 749.4,632.1 767.4,572.8 785.3,589.8 803.3,560.6 821.2,618.3 839.2,606.7 857.2,522.7 875.1,634.2 893.1,512.3 911.0,549.9 929.0,540.7 947.0,616.7 964.9,562.8 982.9,633.4 1000.8,625.6 1018.8,617.1 1036.8,615.6 1054.7,649.2 1072.7,650.7 1090.6,648.2 1108.6,610.9 1126.6,633.9 1144.5,647.0 1162.5,594.3 1180.4,633.7 1198.4,622.7 1216.4,642.6 1234.3,636.1 1252.3,647.7 1270.2,655.1 1288.2,655.3 1306.2,654.8 1324.1,652.9 1342.1,652.4 1360.0,654.4 1378.0,654.6" stroke="#ff5900" stroke-opacity="0.75" stroke-width="1.35"/><polyline points="677.6,620.3 695.5,585.6 713.5,597.5 731.4,582.3 749.4,624.6 767.4,584.5 785.3,569.0 803.3,535.5 821.2,604.4 839.2,621.3 857.2,551.4 875.1,492.1 893.1,483.0 911.0,535.7 929.0,577.5 947.0,592.0 964.9,615.9 982.9,462.8 1000.8,573.8 1018.8,626.1 1036.8,616.1 1054.7,600.5 1072.7,558.2 1090.6,555.1 1108.6,611.0 1126.6,631.3 1144.5,576.0 1162.5,604.0 1180.4,613.6 1198.4,621.4 1216.4,635.5 1234.3,634.3 1252.3,644.0 1270.2,635.8 1288.2,650.2 1306.2,651.0 1324.1,651.3 1342.1,650.8 1360.0,654.4 1378.0,654.3" stroke="#ff5e00" stroke-opacity="0.75" stroke-width="1.35"/><polyline points="677.6,631.3 695.5,631.0 713.5,629.1 731.4,628.1 749.4,630.6 767.4,628.4 785.3,625.0 803.3,623.9 821.2,622.7 839.2,627.7 857.2,621.8 875.1,632.5 893.1,616.3 911.0,534.4 929.0,561.5 947.0,444.6 964.9,482.3 982.9,595.1 1000.8,642.5 1018.8,636.0 1036.8,609.2 1054.7,622.2 1072.7,650.3 1090.6,617.1 1108.6,639.4 1126.6,650.7 1144.5,650.5 1162.5,595.8 1180.4,653.0 1198.4,632.7 1216.4,637.9 1234.3,639.7 1252.3,646.6 1270.2,654.8 1288.2,653.0 1306.2,654.6 1324.1,649.5 1342.1,652.3 1360.0,654.7 1378.0,654.1" stroke="#ff6200" stroke-opacity="0.75" stroke-width="1.35"/><polyline points="677.6,625.5 695.5,617.6 713.5,618.3 731.4,615.3 749.4,622.2 767.4,614.9 785.3,613.3 803.3,606.7 821.2,608.8 839.2,615.6 857.2,576.9 875.1,464.0 893.1,325.3 911.0,411.5 929.0,467.9 947.0,391.4 964.9,401.3 982.9,519.6 1000.8,530.2 1018.8,613.1 1036.8,521.0 1054.7,521.0 1072.7,606.9 1090.6,556.3 1108.6,601.5 1126.6,506.1 1144.5,579.5 1162.5,589.7 1180.4,612.4 1198.4,579.0 1216.4,612.4 1234.3,629.1 1252.3,627.5 1270.2,641.0 1288.2,649.8 1306.2,646.7 1324.1,649.6 1342.1,652.9 1360.0,651.2 1378.0,651.3" stroke="#ff6700" stroke-opacity="0.75" stroke-width="1.35"/><polyline points="857.2,583.9 875.1,500.1 893.1,392.4 911.0,234.4 929.0,524.0" stroke="#ff6800" stroke-opacity="0.80" stroke-width="1.40"/><polyline points="677.6,589.3 695.5,641.2 713.5,605.7 731.4,609.8 749.4,625.9 767.4,577.3 785.3,593.9 803.3,603.8 821.2,578.3 839.2,631.3 857.2,585.2 875.1,524.5 893.1,512.9 911.0,589.3 929.0,528.2 947.0,520.2 964.9,627.3 982.9,572.3 1000.8,624.5 1018.8,647.0 1036.8,615.3 1054.7,620.0 1072.7,645.8 1090.6,648.3 1108.6,639.8 1126.6,649.1 1144.5,649.9 1162.5,642.4 1180.4,644.2 1198.4,627.9 1216.4,648.3 1234.3,651.9 1252.3,649.4 1270.2,653.0 1288.2,655.1 1306.2,655.1 1324.1,652.9 1342.1,654.7 1360.0,652.9 1378.0,653.8" stroke="#ff6b00" stroke-opacity="0.75" stroke-width="1.35"/><polyline points="677.6,620.0 695.5,595.6 713.5,638.3 731.4,594.0 749.4,626.2 767.4,586.1 785.3,597.9 803.3,616.3 821.2,620.9 839.2,627.8 857.2,546.1 875.1,635.8 893.1,594.5 911.0,473.9 929.0,500.1 947.0,510.5 964.9,493.7 982.9,514.8 1000.8,583.5 1018.8,609.0 1036.8,637.5 1054.7,532.7 1072.7,579.6 1090.6,577.6 1108.6,611.5 1126.6,593.2 1144.5,580.0 1162.5,618.6 1180.4,628.0 1198.4,633.5 1216.4,629.5 1234.3,628.2 1252.3,631.2 1270.2,643.5 1288.2,652.5 1306.2,647.6 1324.1,650.7 1342.1,654.9 1360.0,654.4 1378.0,655.1" stroke="#ff6f00" stroke-opacity="0.75" stroke-width="1.35"/><polyline points="677.6,649.2 695.5,639.7 713.5,590.7 731.4,580.8 749.4,593.9 767.4,619.7 785.3,608.5 803.3,600.4 821.2,619.6 839.2,624.4 857.2,644.2 875.1,633.4 893.1,508.9 911.0,587.2 929.0,622.9 947.0,556.0 964.9,623.2 982.9,633.9 1000.8,644.7 1018.8,647.3 1036.8,626.7 1054.7,629.0 1072.7,625.1 1090.6,638.9 1108.6,639.0 1126.6,641.0 1144.5,649.7 1162.5,634.6 1180.4,649.5 1198.4,603.1 1216.4,633.7 1234.3,655.1 1252.3,648.3 1270.2,654.9 1288.2,651.4 1306.2,655.3 1324.1,655.1 1342.1,655.2 1360.0,655.0 1378.0,655.0" stroke="#ff7400" stroke-opacity="0.75" stroke-width="1.35"/><polyline points="677.6,560.1 695.5,584.9 713.5,539.6 731.4,558.2 749.4,593.4 767.4,550.3 785.3,586.3 803.3,506.1 821.2,494.1 839.2,590.4 857.2,582.6 875.1,474.1 893.1,534.1 911.0,281.6 929.0,446.2 947.0,484.2 964.9,421.2 982.9,518.3 1000.8,571.3 1018.8,626.4 1036.8,555.4 1054.7,547.8 1072.7,583.9 1090.6,558.6 1108.6,630.3 1126.6,579.6 1144.5,594.7 1162.5,586.9 1180.4,632.3 1198.4,607.2 1216.4,601.0 1234.3,615.2 1252.3,630.4 1270.2,640.3 1288.2,646.7 1306.2,649.0 1324.1,650.9 1342.1,652.2 1360.0,652.8 1378.0,653.4" stroke="#ff7800" stroke-opacity="0.75" stroke-width="1.35"/><polyline points="857.2,559.9 875.1,464.2 893.1,356.5 911.0,212.8 929.0,512.1 947.0,416.3 964.9,488.1" stroke="#ff7b00" stroke-opacity="0.80" stroke-width="1.40"/><polyline points="964.9,536.0 982.9,559.9 1000.8,398.3 1018.8,583.9 1036.8,559.9" stroke="#ff7b00" stroke-opacity="0.80" stroke-width="1.40"/><polyline points="1180.4,619.8 1198.4,595.9 1216.4,559.9 1234.3,536.0 1252.3,453.4 1270.2,500.1 1288.2,619.8 1306.2,594.7 1324.1,601.8 1342.1,594.7 1360.0,597.0 1378.0,650.9" stroke="#ff7b00" stroke-opacity="0.85" stroke-width="1.40"/><polyline points="1180.4,643.7 1198.4,619.8 1216.4,595.9 1234.3,583.9 1252.3,565.9 1270.2,583.9 1288.2,637.7 1306.2,619.8 1324.1,631.8 1342.1,643.7 1378.0,650.9" stroke="#ff7b00" stroke-opacity="0.80" stroke-width="1.30"/><polyline points="677.6,643.7 695.5,643.8 713.5,643.2 731.4,642.7 749.4,644.0 767.4,640.5 785.3,640.4 803.3,638.0 821.2,638.8 839.2,641.1 857.2,640.6 875.1,633.2 893.1,623.5 911.0,593.4 929.0,625.6 947.0,540.5 964.9,585.8 982.9,635.6 1000.8,647.5 1018.8,625.7 1036.8,640.2 1054.7,647.5 1072.7,651.0 1090.6,650.3 1108.6,636.4 1126.6,632.9 1144.5,649.0 1162.5,634.4 1180.4,652.2 1198.4,652.1 1216.4,653.1 1234.3,654.8 1252.3,646.1 1270.2,654.9 1288.2,655.0 1306.2,653.4 1324.1,653.2 1342.1,655.0 1360.0,654.0 1378.0,654.2" stroke="#ff7d00" stroke-opacity="0.75" stroke-width="1.35"/><polyline points="677.6,597.3 695.5,575.9 713.5,591.9 731.4,570.2 749.4,573.4 767.4,538.5 785.3,506.1 803.3,571.0 821.2,538.9 839.2,596.1 857.2,500.5 875.1,473.8 893.1,483.8 911.0,411.0 929.0,446.2 947.0,421.7 964.9,401.3 982.9,556.6 1000.8,532.8 1018.8,584.1 1036.8,556.9 1054.7,566.0 1072.7,553.9 1090.6,548.3 1108.6,595.9 1126.6,529.0 1144.5,579.8 1162.5,602.4 1180.4,621.2 1198.4,567.7 1216.4,603.6 1234.3,610.8 1252.3,634.4 1270.2,633.3 1288.2,648.4 1306.2,650.9 1324.1,648.2 1342.1,650.3 1360.0,651.9 1378.0,653.2" stroke="#ff8100" stroke-opacity="0.75" stroke-width="1.35"/><polyline points="677.6,631.5 695.5,631.0 713.5,627.9 731.4,628.6 749.4,629.7 767.4,624.8 785.3,624.3 803.3,621.1 821.2,619.9 839.2,630.2 857.2,637.2 875.1,620.9 893.1,488.8 911.0,559.1 929.0,579.5 947.0,468.4 964.9,623.4 982.9,636.6 1000.8,609.5 1018.8,616.3 1036.8,627.3 1054.7,630.7 1072.7,648.4 1090.6,619.0 1108.6,642.5 1126.6,610.7 1144.5,577.4 1162.5,641.9 1180.4,643.3 1198.4,628.0 1216.4,614.2 1234.3,632.0 1252.3,646.4 1270.2,642.1 1288.2,652.3 1306.2,653.6 1324.1,653.1 1342.1,653.5 1360.0,652.8 1378.0,652.5" stroke="#ff8500" stroke-opacity="0.75" stroke-width="1.35"/><polyline points="677.6,609.1 695.5,580.5 713.5,584.9 731.4,609.4 749.4,614.0 767.4,578.4 785.3,631.9 803.3,617.1 821.2,583.8 839.2,647.3 857.2,573.2 875.1,425.0 893.1,523.1 911.0,494.7 929.0,553.1 947.0,422.2 964.9,470.4 982.9,532.3 1000.8,592.8 1018.8,599.0 1036.8,592.1 1054.7,614.6 1072.7,528.5 1090.6,591.6 1108.6,615.9 1126.6,506.1 1144.5,542.7 1162.5,628.5 1180.4,620.4 1198.4,612.1 1216.4,606.7 1234.3,643.6 1252.3,636.8 1270.2,649.7 1288.2,650.1 1306.2,650.7 1324.1,651.3 1342.1,650.9 1360.0,655.0 1378.0,654.2" stroke="#ff8a00" stroke-opacity="0.75" stroke-width="1.35"/><polyline points="677.6,647.5 695.5,645.2 713.5,614.9 731.4,641.0 749.4,609.6 767.4,637.4 785.3,618.6 803.3,634.8 821.2,630.3 839.2,640.6 857.2,620.3 875.1,530.6 893.1,493.8 911.0,609.0 929.0,606.3 947.0,617.7 964.9,629.7 982.9,623.2 1000.8,600.6 1018.8,651.8 1036.8,620.5 1054.7,597.9 1072.7,649.8 1090.6,607.4 1108.6,635.8 1126.6,640.1 1144.5,617.8 1162.5,647.4 1180.4,635.1 1198.4,634.0 1216.4,653.8 1234.3,650.8 1252.3,654.8 1270.2,655.2 1288.2,655.1 1306.2,655.3 1324.1,655.3 1342.1,652.8 1360.0,654.8 1378.0,655.1" stroke="#ff8e00" stroke-opacity="0.75" stroke-width="1.35"/><polyline points="677.6,647.1 695.5,646.4 713.5,646.7 731.4,645.3 749.4,646.5 767.4,644.3 785.3,643.8 803.3,645.3 821.2,643.3 839.2,645.4 857.2,636.2 875.1,636.3 893.1,542.7 911.0,600.7 929.0,625.2 947.0,615.1 964.9,551.0 982.9,627.5 1000.8,625.9 1018.8,628.5 1036.8,611.4 1054.7,627.3 1072.7,647.8 1090.6,613.6 1108.6,646.8 1126.6,641.6 1144.5,616.7 1162.5,651.1 1180.4,644.4 1198.4,620.6 1216.4,624.7 1234.3,654.2 1252.3,639.5 1270.2,646.8 1288.2,649.3 1306.2,653.9 1324.1,653.7 1342.1,653.3 1360.0,654.8 1378.0,654.1" stroke="#ff9300" stroke-opacity="0.75" stroke-width="1.35"/><polyline points="677.6,630.0 695.5,627.0 713.5,629.5 731.4,625.6 749.4,630.8 767.4,625.7 785.3,625.2 803.3,624.2 821.2,617.9 839.2,622.4 857.2,560.5 875.1,427.5 893.1,387.5 911.0,512.7 929.0,554.2 947.0,495.2 964.9,508.6 982.9,553.3 1000.8,595.5 1018.8,623.5 1036.8,569.3 1054.7,529.4 1072.7,566.7 1090.6,604.4 1108.6,643.3 1126.6,530.9 1144.5,617.0 1162.5,599.0 1180.4,635.0 1198.4,589.1 1216.4,627.2 1234.3,614.9 1252.3,640.9 1270.2,648.1 1288.2,650.1 1306.2,652.0 1324.1,652.5 1342.1,650.9 1360.0,653.1 1378.0,653.4" stroke="#ff9700" stroke-opacity="0.75" stroke-width="1.35"/><polyline points="677.6,581.9 695.5,551.6 713.5,615.6 731.4,593.8 749.4,599.3 767.4,506.4 785.3,538.7 803.3,606.8 821.2,539.9 839.2,637.9 857.2,481.5 875.1,500.1 893.1,349.2 911.0,458.3 929.0,521.7 947.0,514.6 964.9,512.3 982.9,604.3 1000.8,491.1 1018.8,610.0 1036.8,625.9 1054.7,630.5 1072.7,599.9 1090.6,611.9 1108.6,634.3 1126.6,566.2 1144.5,569.3 1162.5,566.7 1180.4,648.2 1198.4,652.9 1216.4,578.4 1234.3,614.6 1252.3,639.5 1270.2,644.8 1288.2,652.6 1306.2,651.7 1324.1,650.9 1342.1,654.2 1360.0,653.0 1378.0,651.3" stroke="#ff9c00" stroke-opacity="0.75" stroke-width="1.35"/><polyline points="677.6,593.9 695.5,605.7 713.5,610.1 731.4,611.3 749.4,591.7 767.4,553.3 785.3,586.5 803.3,515.6 821.2,626.0 839.2,614.3 857.2,563.9 875.1,539.8 893.1,515.5 911.0,519.2 929.0,452.2 947.0,526.3 964.9,466.6 982.9,562.2 1000.8,491.1 1018.8,595.2 1036.8,587.3 1054.7,592.6 1072.7,578.2 1090.6,594.5 1108.6,615.1 1126.6,602.3 1144.5,603.1 1162.5,590.5 1180.4,628.0 1198.4,613.9 1216.4,620.5 1234.3,634.9 1252.3,649.1 1270.2,636.3 1288.2,649.9 1306.2,648.3 1324.1,653.1 1342.1,650.1 1360.0,653.8 1378.0,653.5" stroke="#ffa000" stroke-opacity="0.75" stroke-width="1.35"/><polyline points="677.6,639.2 695.5,640.8 713.5,637.6 731.4,636.4 749.4,639.0 767.4,636.4 785.3,634.3 803.3,632.9 821.2,630.1 839.2,634.2 857.2,599.2 875.1,456.5 893.1,534.3 911.0,491.9 929.0,512.8 947.0,374.0 964.9,417.1 982.9,483.1 1000.8,530.8 1018.8,580.9 1036.8,562.5 1054.7,557.8 1072.7,567.5 1090.6,528.5 1108.6,618.7 1126.6,562.3 1144.5,541.3 1162.5,603.6 1180.4,626.0 1198.4,634.9 1216.4,614.0 1234.3,614.2 1252.3,625.8 1270.2,633.3 1288.2,646.7 1306.2,651.5 1324.1,650.3 1342.1,653.5 1360.0,653.0 1378.0,651.5" stroke="#ffa400" stroke-opacity="0.75" stroke-width="1.35"/><polyline points="677.6,640.6 695.5,634.8 713.5,642.6 731.4,629.6 749.4,639.8 767.4,602.8 785.3,590.7 803.3,579.0 821.2,613.6 839.2,616.2 857.2,646.3 875.1,626.0 893.1,586.4 911.0,580.7 929.0,623.6 947.0,594.7 964.9,633.5 982.9,634.4 1000.8,609.7 1018.8,648.2 1036.8,588.9 1054.7,629.1 1072.7,650.2 1090.6,649.6 1108.6,636.5 1126.6,619.5 1144.5,649.2 1162.5,651.9 1180.4,639.6 1198.4,652.2 1216.4,639.5 1234.3,655.3 1252.3,655.2 1270.2,651.9 1288.2,655.1 1306.2,655.2 1324.1,655.0 1342.1,654.9 1360.0,655.3 1378.0,655.1" stroke="#ffa900" stroke-opacity="0.75" stroke-width="1.35"/><polyline points="677.6,627.8 695.5,622.2 713.5,612.1 731.4,632.5 749.4,619.4 767.4,582.4 785.3,608.0 803.3,622.6 821.2,635.0 839.2,646.0 857.2,629.3 875.1,631.2 893.1,537.5 911.0,600.5 929.0,612.1 947.0,518.6 964.9,552.8 982.9,598.4 1000.8,555.5 1018.8,649.0 1036.8,649.7 1054.7,569.3 1072.7,649.6 1090.6,623.3 1108.6,652.3 1126.6,596.6 1144.5,611.1 1162.5,652.3 1180.4,653.5 1198.4,631.6 1216.4,627.7 1234.3,633.5 1252.3,638.6 1270.2,651.1 1288.2,653.4 1306.2,654.2 1324.1,653.8 1342.1,655.3 1360.0,655.2 1378.0,654.1" stroke="#ffad00" stroke-opacity="0.75" stroke-width="1.35"/><polyline points="677.6,604.9 695.5,604.6 713.5,604.5 731.4,565.7 749.4,592.6 767.4,557.3 785.3,584.6 803.3,519.6 821.2,542.6 839.2,613.6 857.2,633.3 875.1,534.0 893.1,432.3 911.0,531.2 929.0,569.6 947.0,475.4 964.9,461.8 982.9,498.2 1000.8,612.5 1018.8,617.2 1036.8,610.3 1054.7,521.0 1072.7,606.1 1090.6,562.4 1108.6,621.4 1126.6,508.7 1144.5,622.9 1162.5,649.4 1180.4,632.7 1198.4,592.0 1216.4,586.0 1234.3,639.0 1252.3,646.6 1270.2,648.8 1288.2,652.2 1306.2,652.6 1324.1,653.1 1342.1,651.9 1360.0,653.3 1378.0,652.2" stroke="#ffb200" stroke-opacity="0.75" stroke-width="1.35"/><polyline points="677.6,620.1 695.5,634.8 713.5,634.6 731.4,607.0 749.4,642.4 767.4,634.0 785.3,577.3 803.3,571.7 821.2,586.5 839.2,642.6 857.2,648.4 875.1,592.3 893.1,617.9 911.0,517.9 929.0,575.9 947.0,614.8 964.9,607.8 982.9,596.4 1000.8,637.0 1018.8,634.3 1036.8,601.5 1054.7,593.1 1072.7,528.5 1090.6,621.8 1108.6,650.7 1126.6,647.5 1144.5,649.8 1162.5,604.9 1180.4,638.3 1198.4,621.5 1216.4,636.9 1234.3,632.6 1252.3,643.8 1270.2,646.0 1288.2,655.2 1306.2,654.4 1324.1,655.2 1342.1,654.8 1360.0,654.2 1378.0,654.8" stroke="#ffb600" stroke-opacity="0.75" stroke-width="1.35"/><polyline points="677.6,581.9 695.5,580.1 713.5,596.4 731.4,626.7 749.4,615.3 767.4,510.4 785.3,559.8 803.3,592.1 821.2,586.4 839.2,641.0 857.2,611.9 875.1,631.2 893.1,409.2 911.0,320.0 929.0,553.9 947.0,623.7 964.9,563.6 982.9,497.6 1000.8,635.6 1018.8,635.1 1036.8,634.0 1054.7,598.2 1072.7,645.2 1090.6,623.8 1108.6,644.3 1126.6,616.5 1144.5,638.8 1162.5,607.8 1180.4,645.7 1198.4,632.8 1216.4,602.2 1234.3,631.5 1252.3,635.7 1270.2,649.7 1288.2,650.6 1306.2,651.3 1324.1,649.3 1342.1,650.2 1360.0,654.5 1378.0,654.0" stroke="#ffba00" stroke-opacity="0.75" stroke-width="1.35"/><polyline points="677.6,646.7 695.5,631.5 713.5,639.9 731.4,584.4 749.4,632.6 767.4,643.5 785.3,631.9 803.3,632.7 821.2,634.9 839.2,640.0 857.2,521.5 875.1,620.9 893.1,610.6 911.0,551.9 929.0,623.6 947.0,489.3 964.9,566.8 982.9,563.4 1000.8,644.5 1018.8,647.4 1036.8,644.5 1054.7,651.8 1072.7,647.0 1090.6,648.4 1108.6,651.5 1126.6,649.1 1144.5,649.2 1162.5,624.3 1180.4,653.4 1198.4,652.9 1216.4,632.7 1234.3,648.1 1252.3,655.1 1270.2,655.0 1288.2,651.9 1306.2,653.3 1324.1,652.9 1342.1,652.4 1360.0,655.1 1378.0,654.7" stroke="#ffbf00" stroke-opacity="0.75" stroke-width="1.35"/><polyline points="677.6,651.1 695.5,650.6 713.5,650.4 731.4,649.8 749.4,651.4 767.4,650.1 785.3,649.7 803.3,649.5 821.2,649.7 839.2,650.8 857.2,649.1 875.1,611.9 893.1,349.5 911.0,445.4 929.0,450.3 947.0,401.9 964.9,490.1 982.9,593.7 1000.8,609.1 1018.8,597.8 1036.8,614.1 1054.7,619.0 1072.7,633.0 1090.6,569.2 1108.6,626.6 1126.6,594.2 1144.5,629.0 1162.5,603.9 1180.4,637.0 1198.4,601.6 1216.4,586.7 1234.3,634.6 1252.3,633.1 1270.2,633.6 1288.2,650.2 1306.2,648.7 1324.1,653.5 1342.1,653.0 1360.0,654.4 1378.0,652.4" stroke="#ffc300" stroke-opacity="0.75" stroke-width="1.35"/><polyline points="749.4,607.8 767.4,512.1 785.3,500.1 803.3,500.1 821.2,488.1 839.2,595.9" stroke="#ffc600" stroke-opacity="0.80" stroke-width="1.30"/><polyline points="677.6,638.6 695.5,640.6 713.5,638.1 731.4,636.9 749.4,638.9 767.4,635.6 785.3,636.2 803.3,633.0 821.2,634.2 839.2,637.2 857.2,621.4 875.1,493.2 893.1,506.2 911.0,434.9 929.0,558.8 947.0,508.1 964.9,525.9 982.9,533.4 1000.8,601.1 1018.8,580.9 1036.8,603.9 1054.7,586.4 1072.7,563.9 1090.6,606.3 1108.6,612.8 1126.6,619.0 1144.5,589.4 1162.5,614.7 1180.4,640.8 1198.4,645.2 1216.4,613.9 1234.3,636.6 1252.3,651.5 1270.2,639.6 1288.2,651.7 1306.2,653.1 1324.1,651.1 1342.1,651.6 1360.0,653.3 1378.0,654.9" stroke="#ffc800" stroke-opacity="0.75" stroke-width="1.35"/><polyline points="677.6,606.8 695.5,608.0 713.5,611.8 731.4,506.1 749.4,595.3 767.4,568.3 785.3,581.1 803.3,533.5 821.2,586.5 839.2,593.4 857.2,539.3 875.1,468.1 893.1,378.5 911.0,372.0 929.0,540.0 947.0,427.1 964.9,519.4 982.9,552.2 1000.8,491.1 1018.8,621.6 1036.8,549.1 1054.7,596.8 1072.7,528.5 1090.6,588.4 1108.6,634.9 1126.6,608.1 1144.5,549.9 1162.5,592.3 1180.4,630.2 1198.4,601.4 1216.4,616.5 1234.3,641.8 1252.3,650.0 1270.2,642.3 1288.2,651.7 1306.2,648.5 1324.1,648.2 1342.1,651.4 1360.0,651.6 1378.0,652.4" stroke="#ffcc00" stroke-opacity="0.75" stroke-width="1.35"/><polyline points="677.6,638.0 695.5,637.9 713.5,601.4 731.4,633.5 749.4,639.8 767.4,630.1 785.3,634.5 803.3,628.7 821.2,638.8 839.2,641.1 857.2,611.6 875.1,636.9 893.1,620.2 911.0,562.2 929.0,569.2 947.0,594.5 964.9,632.7 982.9,572.5 1000.8,623.3 1018.8,614.7 1036.8,555.3 1054.7,647.1 1072.7,586.2 1090.6,635.8 1108.6,651.5 1126.6,617.3 1144.5,611.5 1162.5,651.8 1180.4,632.9 1198.4,653.5 1216.4,623.4 1234.3,652.2 1252.3,653.0 1270.2,649.3 1288.2,655.2 1306.2,651.0 1324.1,654.9 1342.1,654.9 1360.0,655.2 1378.0,654.6" stroke="#ffd000" stroke-opacity="0.75" stroke-width="1.35"/><polyline points="677.6,606.0 695.5,606.8 713.5,576.7 731.4,615.0 749.4,576.8 767.4,542.2 785.3,602.5 803.3,608.9 821.2,605.3 839.2,581.3 857.2,586.4 875.1,562.1 893.1,464.9 911.0,281.6 929.0,513.7 947.0,382.3 964.9,535.6 982.9,483.5 1000.8,560.6 1018.8,606.4 1036.8,582.5 1054.7,614.1 1072.7,611.4 1090.6,602.9 1108.6,597.8 1126.6,602.7 1144.5,601.0 1162.5,553.9 1180.4,627.8 1198.4,632.1 1216.4,601.9 1234.3,631.7 1252.3,644.1 1270.2,639.0 1288.2,653.0 1306.2,651.3 1324.1,651.2 1342.1,649.7 1360.0,652.0 1378.0,653.8" stroke="#ffd500" stroke-opacity="0.75" stroke-width="1.35"/><polyline points="677.6,638.3 695.5,638.0 713.5,638.2 731.4,638.7 749.4,637.2 767.4,636.3 785.3,634.7 803.3,633.3 821.2,631.9 839.2,635.4 857.2,640.0 875.1,476.5 893.1,600.7 911.0,563.3 929.0,563.2 947.0,524.2 964.9,554.4 982.9,546.6 1000.8,544.2 1018.8,603.8 1036.8,591.9 1054.7,615.6 1072.7,625.1 1090.6,570.0 1108.6,609.6 1126.6,575.5 1144.5,600.7 1162.5,564.0 1180.4,645.5 1198.4,627.9 1216.4,643.0 1234.3,642.9 1252.3,640.6 1270.2,646.6 1288.2,654.7 1306.2,651.9 1324.1,651.6 1342.1,653.2 1360.0,655.1 1378.0,654.2" stroke="#ffd900" stroke-opacity="0.75" stroke-width="1.35"/><polyline points="677.6,589.7 695.5,578.6 713.5,553.9 731.4,575.7 749.4,593.7 767.4,642.5 785.3,596.1 803.3,568.8 821.2,601.2 839.2,595.1 857.2,537.4 875.1,502.6 893.1,599.5 911.0,568.1 929.0,493.3 947.0,549.1 964.9,619.4 982.9,591.3 1000.8,491.6 1018.8,628.5 1036.8,547.1 1054.7,600.4 1072.7,564.9 1090.6,647.1 1108.6,645.4 1126.6,505.8 1144.5,538.7 1162.5,613.7 1180.4,632.8 1198.4,650.8 1216.4,628.6 1234.3,638.1 1252.3,650.5 1270.2,638.8 1288.2,648.6 1306.2,651.4 1324.1,650.8 1342.1,653.4 1360.0,653.7 1378.0,654.4" stroke="#ffde00" stroke-opacity="0.75" stroke-width="1.35"/><polyline points="677.6,565.5 695.5,562.6 713.5,593.3 731.4,552.2 749.4,611.8 767.4,595.5 785.3,572.1 803.3,542.5 821.2,496.0 839.2,596.4 857.2,510.3 875.1,520.6 893.1,313.4 911.0,291.8 929.0,446.2 947.0,459.2 964.9,505.9 982.9,506.5 1000.8,555.4 1018.8,613.8 1036.8,568.3 1054.7,592.5 1072.7,596.2 1090.6,528.3 1108.6,596.9 1126.6,591.2 1144.5,548.9 1162.5,561.8 1180.4,613.1 1198.4,574.7 1216.4,617.8 1234.3,615.5 1252.3,640.8 1270.2,639.0 1288.2,652.3 1306.2,646.9 1324.1,650.9 1342.1,651.9 1360.0,653.4 1378.0,652.8" stroke="#ffe200" stroke-opacity="0.75" stroke-width="1.35"/><polyline points="677.6,590.6 695.5,593.1 713.5,634.3 731.4,613.5 749.4,643.7 767.4,563.5 785.3,560.7 803.3,573.2 821.2,552.0 839.2,622.9 857.2,601.4 875.1,487.2 893.1,436.1 911.0,447.2 929.0,452.8 947.0,354.3 964.9,521.8 982.9,507.4 1000.8,492.5 1018.8,610.2 1036.8,569.6 1054.7,597.5 1072.7,602.3 1090.6,625.3 1108.6,632.4 1126.6,505.4 1144.5,613.4 1162.5,636.1 1180.4,623.1 1198.4,548.9 1216.4,591.7 1234.3,646.5 1252.3,643.6 1270.2,649.7 1288.2,649.4 1306.2,649.7 1324.1,649.6 1342.1,652.7 1360.0,652.6 1378.0,654.6" stroke="#ffe700" stroke-opacity="0.75" stroke-width="1.35"/><polyline points="677.6,623.1 695.5,645.8 713.5,635.0 731.4,637.3 749.4,626.9 767.4,621.9 785.3,595.9 803.3,636.1 821.2,626.7 839.2,645.7 857.2,592.4 875.1,584.9 893.1,576.4 911.0,591.8 929.0,581.7 947.0,601.5 964.9,542.7 982.9,542.3 1000.8,614.3 1018.8,648.9 1036.8,561.0 1054.7,629.7 1072.7,625.3 1090.6,636.1 1108.6,648.0 1126.6,620.4 1144.5,617.5 1162.5,651.1 1180.4,653.0 1198.4,636.2 1216.4,645.6 1234.3,645.5 1252.3,651.7 1270.2,655.1 1288.2,655.1 1306.2,655.0 1324.1,653.9 1342.1,654.6 1360.0,653.6 1378.0,655.1" stroke="#ffeb00" stroke-opacity="0.75" stroke-width="1.35"/><polyline points="677.6,626.7 695.5,627.1 713.5,623.9 731.4,621.5 749.4,623.3 767.4,620.1 785.3,622.1 803.3,622.4 821.2,616.4 839.2,618.9 857.2,623.5 875.1,630.7 893.1,619.1 911.0,493.2 929.0,544.0 947.0,590.7 964.9,501.8 982.9,563.0 1000.8,644.7 1018.8,621.4 1036.8,641.5 1054.7,604.7 1072.7,647.4 1090.6,609.0 1108.6,647.1 1126.6,618.3 1144.5,603.4 1162.5,651.7 1180.4,646.1 1198.4,627.4 1216.4,625.1 1234.3,630.0 1252.3,645.3 1270.2,654.6 1288.2,652.7 1306.2,654.7 1324.1,651.9 1342.1,654.2 1360.0,654.8 1378.0,654.3" stroke="#fcef00" stroke-opacity="0.75" stroke-width="1.35"/><polyline points="677.6,609.0 695.5,598.1 713.5,607.1 731.4,599.4 749.4,614.4 767.4,550.3 785.3,576.4 803.3,525.2 821.2,557.5 839.2,602.9 857.2,453.8 875.1,512.1 893.1,499.0 911.0,572.8 929.0,587.3 947.0,438.0 964.9,471.9 982.9,516.9 1000.8,530.9 1018.8,593.9 1036.8,614.3 1054.7,521.0 1072.7,528.5 1090.6,556.2 1108.6,627.6 1126.6,570.7 1144.5,640.5 1162.5,615.0 1180.4,642.8 1198.4,593.2 1216.4,607.6 1234.3,617.6 1252.3,649.6 1270.2,643.1 1288.2,651.3 1306.2,647.6 1324.1,651.5 1342.1,654.8 1360.0,654.5 1378.0,653.9" stroke="#f8f400" stroke-opacity="0.75" stroke-width="1.35"/><polyline points="677.6,591.4 695.5,523.9 713.5,560.2 731.4,631.9 749.4,622.2 767.4,586.3 785.3,637.2 803.3,640.1 821.2,606.4 839.2,614.5 857.2,590.5 875.1,621.0 893.1,454.0 911.0,501.2 929.0,598.7 947.0,492.4 964.9,565.1 982.9,505.0 1000.8,570.0 1018.8,643.7 1036.8,596.1 1054.7,601.5 1072.7,633.6 1090.6,617.8 1108.6,638.4 1126.6,650.7 1144.5,603.3 1162.5,646.5 1180.4,642.6 1198.4,620.3 1216.4,622.9 1234.3,636.2 1252.3,650.0 1270.2,653.0 1288.2,649.3 1306.2,652.2 1324.1,654.2 1342.1,654.1 1360.0,654.5 1378.0,653.7" stroke="#f4f802" stroke-opacity="0.75" stroke-width="1.35"/><polyline points="677.6,641.9 695.5,638.9 713.5,639.2 731.4,638.5 749.4,642.1 767.4,637.0 785.3,636.3 803.3,636.6 821.2,633.8 839.2,638.1 857.2,638.8 875.1,611.9 893.1,582.5 911.0,601.3 929.0,611.2 947.0,608.9 964.9,575.7 982.9,635.5 1000.8,614.3 1018.8,628.9 1036.8,628.0 1054.7,613.0 1072.7,603.5 1090.6,610.0 1108.6,652.3 1126.6,627.2 1144.5,600.7 1162.5,637.6 1180.4,653.5 1198.4,644.8 1216.4,617.8 1234.3,654.9 1252.3,655.0 1270.2,650.8 1288.2,655.2 1306.2,655.3 1324.1,655.0 1342.1,655.0 1360.0,654.9 1378.0,654.5" stroke="#f1fd06" stroke-opacity="0.75" stroke-width="1.35"/><polyline points="677.6,553.1 695.5,540.2 713.5,576.5 731.4,521.7 749.4,609.0 767.4,579.5 785.3,624.7 803.3,610.3 821.2,574.2 839.2,625.3 857.2,580.6 875.1,447.3 893.1,432.0 911.0,534.8 929.0,578.5 947.0,435.8 964.9,477.0 982.9,499.1 1000.8,546.5 1018.8,609.4 1036.8,602.6 1054.7,585.1 1072.7,585.7 1090.6,622.1 1108.6,600.7 1126.6,556.7 1144.5,594.6 1162.5,578.9 1180.4,634.7 1198.4,605.0 1216.4,579.1 1234.3,644.1 1252.3,648.9 1270.2,640.5 1288.2,652.6 1306.2,650.1 1324.1,651.9 1342.1,654.1 1360.0,653.0 1378.0,654.9" stroke="#edff0a" stroke-opacity="0.75" stroke-width="1.35"/><polyline points="677.6,615.7 695.5,564.4 713.5,572.0 731.4,586.7 749.4,632.5 767.4,618.9 785.3,603.6 803.3,615.9 821.2,638.2 839.2,624.4 857.2,575.9 875.1,574.7 893.1,531.5 911.0,550.1 929.0,587.7 947.0,562.0 964.9,622.6 982.9,612.0 1000.8,642.6 1018.8,624.6 1036.8,645.9 1054.7,649.0 1072.7,649.6 1090.6,628.2 1108.6,650.9 1126.6,584.3 1144.5,617.6 1162.5,651.3 1180.4,642.7 1198.4,617.3 1216.4,653.9 1234.3,648.8 1252.3,651.3 1270.2,654.6 1288.2,654.6 1306.2,653.6 1324.1,654.6 1342.1,654.4 1360.0,655.3 1378.0,653.8" stroke="#e9ff0e" stroke-opacity="0.75" stroke-width="1.35"/><polyline points="767.4,536.0 785.3,500.1 803.3,464.2 821.2,382.8 839.2,527.6 857.2,440.2 875.1,392.4" stroke="#e6ff10" stroke-opacity="0.80" stroke-width="1.30"/><polyline points="677.6,644.5 695.5,644.7 713.5,643.6 731.4,641.9 749.4,643.9 767.4,642.9 785.3,641.8 803.3,641.8 821.2,641.0 839.2,642.8 857.2,617.2 875.1,556.0 893.1,456.2 911.0,437.9 929.0,503.9 947.0,496.7 964.9,546.3 982.9,568.5 1000.8,641.2 1018.8,636.2 1036.8,605.1 1054.7,576.9 1072.7,597.1 1090.6,587.5 1108.6,639.6 1126.6,628.6 1144.5,585.9 1162.5,614.0 1180.4,651.5 1198.4,634.8 1216.4,617.5 1234.3,648.5 1252.3,640.6 1270.2,655.1 1288.2,652.0 1306.2,654.1 1324.1,652.9 1342.1,655.2 1360.0,652.7 1378.0,654.2" stroke="#e5ff12" stroke-opacity="0.75" stroke-width="1.35"/><polyline points="677.6,575.8 695.5,528.4 713.5,585.3 731.4,579.2 749.4,603.2 767.4,563.6 785.3,563.1 803.3,517.0 821.2,622.5 839.2,607.4 857.2,573.6 875.1,493.7 893.1,463.6 911.0,452.3 929.0,516.4 947.0,438.6 964.9,531.2 982.9,536.0 1000.8,572.2 1018.8,606.0 1036.8,606.3 1054.7,592.9 1072.7,611.3 1090.6,605.3 1108.6,625.6 1126.6,538.4 1144.5,602.3 1162.5,624.5 1180.4,617.1 1198.4,594.5 1216.4,587.1 1234.3,640.4 1252.3,642.4 1270.2,644.2 1288.2,653.6 1306.2,647.7 1324.1,652.7 1342.1,652.0 1360.0,653.5 1378.0,652.9" stroke="#e1ff16" stroke-opacity="0.75" stroke-width="1.35"/><polyline points="677.6,526.4 695.5,392.4 713.5,331.3 731.4,364.8 749.4,490.5 767.4,357.6 785.3,431.9 803.3,476.2 821.2,488.1 839.2,530.0 857.2,416.3 875.1,284.6 893.1,296.6 911.0,356.5 929.0,536.0 947.0,512.1 964.9,548.0 982.9,583.9 1000.8,607.8 1018.8,631.8 1036.8,595.9" stroke="#deff19" stroke-opacity="0.80" stroke-width="1.30"/><polyline points="677.6,571.9 695.5,500.1 713.5,494.1 731.4,489.3 749.4,595.9 767.4,512.1 785.3,524.0 803.3,512.1 821.2,500.1 839.2,583.9" stroke="#deff19" stroke-opacity="0.75" stroke-width="1.30"/><polyline points="677.6,646.5 695.5,624.7 713.5,640.1 731.4,630.0 749.4,642.2 767.4,608.4 785.3,627.5 803.3,635.1 821.2,629.5 839.2,640.0 857.2,642.9 875.1,615.3 893.1,612.6 911.0,575.0 929.0,626.7 947.0,584.6 964.9,624.0 982.9,628.0 1000.8,602.1 1018.8,649.1 1036.8,649.8 1054.7,638.6 1072.7,649.0 1090.6,614.4 1108.6,651.9 1126.6,651.6 1144.5,649.5 1162.5,613.5 1180.4,653.0 1198.4,651.5 1216.4,642.2 1234.3,645.5 1252.3,655.0 1270.2,652.3 1288.2,655.1 1306.2,653.5 1324.1,655.1 1342.1,655.1 1360.0,655.3 1378.0,655.2" stroke="#ddff19" stroke-opacity="0.75" stroke-width="1.35"/><polyline points="677.6,608.3 695.5,574.1 713.5,589.8 731.4,589.8 749.4,630.4 767.4,551.7 785.3,538.6 803.3,599.6 821.2,525.4 839.2,609.8 857.2,614.4 875.1,534.6 893.1,556.5 911.0,368.5 929.0,505.3 947.0,529.7 964.9,574.3 982.9,474.3 1000.8,589.4 1018.8,628.5 1036.8,581.7 1054.7,611.8 1072.7,566.5 1090.6,573.5 1108.6,623.4 1126.6,615.8 1144.5,607.8 1162.5,639.6 1180.4,615.7 1198.4,576.2 1216.4,620.3 1234.3,654.8 1252.3,649.0 1270.2,653.5 1288.2,655.1 1306.2,651.8 1324.1,653.6 1342.1,653.7 1360.0,652.8 1378.0,654.2" stroke="#daff1d" stroke-opacity="0.75" stroke-width="1.35"/><polyline points="677.6,643.4 695.5,595.1 713.5,620.8 731.4,587.7 749.4,616.6 767.4,555.5 785.3,567.2 803.3,593.9 821.2,610.8 839.2,639.5 857.2,516.8 875.1,557.3 893.1,493.4 911.0,503.3 929.0,574.1 947.0,534.3 964.9,615.4 982.9,514.4 1000.8,613.4 1018.8,642.9 1036.8,595.0 1054.7,595.9 1072.7,642.3 1090.6,584.0 1108.6,625.9 1126.6,588.7 1144.5,607.8 1162.5,634.7 1180.4,648.6 1198.4,597.2 1216.4,633.1 1234.3,633.9 1252.3,646.1 1270.2,643.1 1288.2,651.9 1306.2,654.5 1324.1,651.6 1342.1,653.5 1360.0,654.8 1378.0,653.4" stroke="#d6ff21" stroke-opacity="0.75" stroke-width="1.35"/><polyline points="677.6,645.6 695.5,597.0 713.5,642.0 731.4,630.2 749.4,643.3 767.4,614.5 785.3,618.9 803.3,638.0 821.2,627.4 839.2,642.4 857.2,638.5 875.1,623.1 893.1,563.2 911.0,530.5 929.0,628.3 947.0,591.5 964.9,572.5 982.9,584.5 1000.8,621.8 1018.8,649.3 1036.8,649.4 1054.7,641.0 1072.7,646.1 1090.6,650.4 1108.6,652.2 1126.6,648.1 1144.5,641.2 1162.5,632.2 1180.4,652.9 1198.4,624.8 1216.4,622.9 1234.3,655.3 1252.3,653.5 1270.2,650.8 1288.2,655.1 1306.2,655.3 1324.1,655.1 1342.1,655.3 1360.0,654.2 1378.0,655.2" stroke="#d2ff25" stroke-opacity="0.75" stroke-width="1.35"/><polyline points="677.6,616.4 695.5,600.1 713.5,561.0 731.4,563.5 749.4,617.0 767.4,610.7 785.3,550.1 803.3,556.3 821.2,534.3 839.2,594.1 857.2,446.4 875.1,420.7 893.1,333.0 911.0,483.7 929.0,563.3 947.0,379.7 964.9,557.3 982.9,623.1 1000.8,609.2 1018.8,624.1 1036.8,597.7 1054.7,556.4 1072.7,570.5 1090.6,530.1 1108.6,647.3 1126.6,564.6 1144.5,602.7 1162.5,632.1 1180.4,638.7 1198.4,627.6 1216.4,638.8 1234.3,627.2 1252.3,644.3 1270.2,646.5 1288.2,647.9 1306.2,653.5 1324.1,652.2 1342.1,653.1 1360.0,653.4 1378.0,653.9" stroke="#ceff29" stroke-opacity="0.75" stroke-width="1.35"/><polyline points="677.6,621.8 695.5,605.1 713.5,614.8 731.4,616.9 749.4,596.6 767.4,618.6 785.3,618.5 803.3,605.9 821.2,616.7 839.2,619.0 857.2,529.7 875.1,572.9 893.1,416.5 911.0,538.1 929.0,598.6 947.0,471.6 964.9,560.2 982.9,585.6 1000.8,620.3 1018.8,635.6 1036.8,627.3 1054.7,582.2 1072.7,587.1 1090.6,633.0 1108.6,644.4 1126.6,611.7 1144.5,548.7 1162.5,633.1 1180.4,636.6 1198.4,626.1 1216.4,619.7 1234.3,644.3 1252.3,641.0 1270.2,653.5 1288.2,653.9 1306.2,648.6 1324.1,651.1 1342.1,654.9 1360.0,653.1 1378.0,654.2" stroke="#caff2d" stroke-opacity="0.75" stroke-width="1.35"/><polyline points="677.6,646.0 695.5,593.7 713.5,612.7 731.4,559.6 749.4,635.5 767.4,611.3 785.3,573.8 803.3,538.4 821.2,629.8 839.2,634.9 857.2,563.0 875.1,624.4 893.1,577.9 911.0,551.4 929.0,538.7 947.0,538.9 964.9,534.8 982.9,585.9 1000.8,636.6 1018.8,633.6 1036.8,650.7 1054.7,645.9 1072.7,642.3 1090.6,648.8 1108.6,652.1 1126.6,649.8 1144.5,647.7 1162.5,642.9 1180.4,652.9 1198.4,652.9 1216.4,647.0 1234.3,648.5 1252.3,651.1 1270.2,650.1 1288.2,654.4 1306.2,654.3 1324.1,654.3 1342.1,654.5 1360.0,654.5 1378.0,655.3" stroke="#c6ff30" stroke-opacity="0.75" stroke-width="1.35"/><polyline points="677.6,619.2 695.5,593.8 713.5,601.8 731.4,620.2 749.4,613.3 767.4,584.4 785.3,612.5 803.3,544.5 821.2,587.6 839.2,622.7 857.2,560.7 875.1,572.7 893.1,547.1 911.0,386.7 929.0,589.4 947.0,493.3 964.9,543.2 982.9,480.2 1000.8,578.5 1018.8,616.0 1036.8,600.5 1054.7,583.0 1072.7,549.6 1090.6,610.2 1108.6,638.4 1126.6,617.9 1144.5,607.7 1162.5,617.5 1180.4,624.9 1198.4,588.2 1216.4,640.1 1234.3,623.2 1252.3,646.7 1270.2,652.5 1288.2,652.3 1306.2,653.0 1324.1,653.0 1342.1,653.9 1360.0,654.4 1378.0,652.6" stroke="#c2ff34" stroke-opacity="0.75" stroke-width="1.35"/><polyline points="677.6,623.7 695.5,639.3 713.5,637.0 731.4,633.6 749.4,634.0 767.4,600.9 785.3,616.4 803.3,634.6 821.2,591.1 839.2,638.6 857.2,616.8 875.1,613.6 893.1,557.3 911.0,575.3 929.0,613.7 947.0,596.8 964.9,583.0 982.9,621.8 1000.8,643.8 1018.8,621.8 1036.8,616.5 1054.7,601.0 1072.7,639.1 1090.6,638.4 1108.6,645.4 1126.6,622.3 1144.5,606.1 1162.5,652.7 1180.4,649.6 1198.4,652.9 1216.4,647.9 1234.3,645.2 1252.3,650.1 1270.2,641.9 1288.2,654.3 1306.2,654.8 1324.1,655.3 1342.1,654.5 1360.0,654.4 1378.0,655.2" stroke="#bfff38" stroke-opacity="0.75" stroke-width="1.35"/><polyline points="839.2,559.9 857.2,476.2 875.1,392.4 893.1,416.3 911.0,356.5 929.0,536.0" stroke="#bdff3a" stroke-opacity="0.75" stroke-width="1.30"/><polyline points="677.6,605.5 695.5,530.1 713.5,634.4 731.4,622.6 749.4,613.3 767.4,528.5 785.3,603.4 803.3,641.4 821.2,631.6 839.2,613.2 857.2,455.4 875.1,549.8 893.1,576.0 911.0,459.4 929.0,602.1 947.0,546.0 964.9,556.4 982.9,599.3 1000.8,598.3 1018.8,639.0 1036.8,587.3 1054.7,566.8 1072.7,598.1 1090.6,585.3 1108.6,636.8 1126.6,645.2 1144.5,617.2 1162.5,612.6 1180.4,641.1 1198.4,618.0 1216.4,608.1 1234.3,649.6 1252.3,646.4 1270.2,645.8 1288.2,652.1 1306.2,652.8 1324.1,652.2 1342.1,653.5 1360.0,653.5 1378.0,654.3" stroke="#bbff3c" stroke-opacity="0.75" stroke-width="1.35"/><polyline points="677.6,640.4 695.5,636.5 713.5,641.3 731.4,627.6 749.4,630.9 767.4,632.3 785.3,638.0 803.3,628.4 821.2,582.7 839.2,626.6 857.2,635.3 875.1,573.7 893.1,471.3 911.0,551.0 929.0,586.9 947.0,545.7 964.9,602.0 982.9,591.9 1000.8,642.0 1018.8,649.6 1036.8,648.1 1054.7,645.7 1072.7,648.8 1090.6,617.2 1108.6,643.5 1126.6,619.2 1144.5,618.8 1162.5,652.7 1180.4,653.9 1198.4,608.8 1216.4,638.1 1234.3,655.1 1252.3,650.5 1270.2,655.3 1288.2,653.7 1306.2,655.3 1324.1,655.2 1342.1,655.1 1360.0,655.1 1378.0,655.3" stroke="#b7ff40" stroke-opacity="0.75" stroke-width="1.35"/><polyline points="677.6,605.5 695.5,509.8 713.5,589.4 731.4,571.8 749.4,600.5 767.4,577.8 785.3,554.5 803.3,553.8 821.2,528.4 839.2,620.1 857.2,535.9 875.1,373.2 893.1,361.4 911.0,339.6 929.0,501.5 947.0,407.1 964.9,407.4 982.9,529.3 1000.8,564.2 1018.8,607.3 1036.8,515.4 1054.7,561.0 1072.7,567.2 1090.6,585.4 1108.6,620.3 1126.6,509.7 1144.5,549.2 1162.5,563.5 1180.4,629.7 1198.4,591.3 1216.4,622.6 1234.3,619.0 1252.3,640.6 1270.2,648.0 1288.2,652.0 1306.2,651.9 1324.1,651.3 1342.1,653.2 1360.0,652.6 1378.0,652.9" stroke="#b3ff44" stroke-opacity="0.75" stroke-width="1.35"/><polyline points="677.6,603.7 695.5,591.6 713.5,599.6 731.4,621.1 749.4,637.3 767.4,633.7 785.3,636.8 803.3,603.6 821.2,588.6 839.2,643.0 857.2,589.3 875.1,583.4 893.1,551.5 911.0,500.3 929.0,519.0 947.0,553.0 964.9,504.8 982.9,603.3 1000.8,641.7 1018.8,606.8 1036.8,621.6 1054.7,621.2 1072.7,593.8 1090.6,605.1 1108.6,647.9 1126.6,596.5 1144.5,615.3 1162.5,632.2 1180.4,654.1 1198.4,628.7 1216.4,648.8 1234.3,654.6 1252.3,648.7 1270.2,647.0 1288.2,655.1 1306.2,653.8 1324.1,655.2 1342.1,655.2 1360.0,654.6 1378.0,654.4" stroke="#afff47" stroke-opacity="0.75" stroke-width="1.35"/><polyline points="677.6,631.5 695.5,610.3 713.5,637.8 731.4,622.6 749.4,642.6 767.4,633.2 785.3,601.4 803.3,609.6 821.2,630.4 839.2,633.8 857.2,598.4 875.1,598.3 893.1,554.6 911.0,564.5 929.0,574.7 947.0,602.1 964.9,574.8 982.9,627.4 1000.8,614.5 1018.8,637.9 1036.8,644.0 1054.7,648.3 1072.7,622.7 1090.6,649.7 1108.6,640.2 1126.6,616.8 1144.5,629.4 1162.5,632.8 1180.4,645.2 1198.4,640.6 1216.4,625.3 1234.3,644.6 1252.3,654.1 1270.2,649.4 1288.2,651.6 1306.2,652.1 1324.1,654.0 1342.1,654.0 1360.0,655.2 1378.0,655.2" stroke="#abff4b" stroke-opacity="0.75" stroke-width="1.35"/><polyline points="677.6,647.4 695.5,628.7 713.5,619.0 731.4,636.2 749.4,639.5 767.4,615.4 785.3,624.6 803.3,618.8 821.2,641.8 839.2,622.2 857.2,621.5 875.1,484.9 893.1,587.3 911.0,377.2 929.0,505.3 947.0,579.2 964.9,475.0 982.9,587.3 1000.8,646.1 1018.8,648.8 1036.8,606.6 1054.7,625.5 1072.7,622.3 1090.6,626.9 1108.6,638.0 1126.6,641.3 1144.5,649.3 1162.5,652.9 1180.4,649.7 1198.4,652.7 1216.4,645.1 1234.3,652.9 1252.3,653.7 1270.2,653.7 1288.2,655.1 1306.2,653.5 1324.1,654.3 1342.1,654.2 1360.0,655.3 1378.0,655.0" stroke="#a8ff4f" stroke-opacity="0.75" stroke-width="1.35"/><polyline points="749.4,583.9 767.4,488.1 785.3,428.3 803.3,404.3 821.2,397.1 839.2,559.9 857.2,476.2" stroke="#a5ff52" stroke-opacity="0.75" stroke-width="1.30"/><polyline points="749.4,595.9 767.4,500.1 785.3,461.8 803.3,460.6 821.2,464.2 839.2,583.9 857.2,536.0" stroke="#a5ff52" stroke-opacity="0.75" stroke-width="1.30"/><polyline points="677.6,585.2 695.5,558.7 713.5,525.3 731.4,528.3 749.4,574.9 767.4,546.5 785.3,515.7 803.3,523.9 821.2,575.4 839.2,605.4 857.2,442.0 875.1,441.2 893.1,353.4 911.0,349.0 929.0,526.3 947.0,458.4 964.9,423.5 982.9,497.5 1000.8,509.5 1018.8,606.9 1036.8,539.0 1054.7,607.7 1072.7,573.1 1090.6,551.4 1108.6,602.4 1126.6,499.5 1144.5,578.2 1162.5,554.2 1180.4,630.1 1198.4,573.0 1216.4,583.1 1234.3,617.3 1252.3,637.2 1270.2,644.2 1288.2,648.7 1306.2,649.7 1324.1,650.9 1342.1,651.3 1360.0,652.8 1378.0,653.0" stroke="#a4ff53" stroke-opacity="0.75" stroke-width="1.35"/><polyline points="677.6,624.2 695.5,644.3 713.5,612.3 731.4,615.3 749.4,636.5 767.4,605.5 785.3,581.2 803.3,616.5 821.2,595.2 839.2,602.1 857.2,570.2 875.1,474.9 893.1,496.0 911.0,522.1 929.0,535.9 947.0,559.9 964.9,505.4 982.9,587.1 1000.8,617.2 1018.8,625.6 1036.8,635.1 1054.7,650.4 1072.7,625.8 1090.6,588.2 1108.6,645.9 1126.6,605.9 1144.5,632.5 1162.5,653.1 1180.4,648.8 1198.4,652.5 1216.4,625.7 1234.3,647.4 1252.3,650.4 1270.2,650.2 1288.2,655.2 1306.2,654.1 1324.1,653.9 1342.1,653.7 1360.0,655.0 1378.0,654.8" stroke="#a0ff57" stroke-opacity="0.75" stroke-width="1.35"/><polyline points="677.6,635.1 695.5,632.0 713.5,626.0 731.4,589.8 749.4,624.2 767.4,627.2 785.3,631.6 803.3,638.1 821.2,619.2 839.2,633.2 857.2,636.4 875.1,599.1 893.1,519.6 911.0,456.8 929.0,606.1 947.0,590.9 964.9,610.8 982.9,625.4 1000.8,639.4 1018.8,649.9 1036.8,614.0 1054.7,610.3 1072.7,648.8 1090.6,628.1 1108.6,649.5 1126.6,623.2 1144.5,645.7 1162.5,647.4 1180.4,647.3 1198.4,632.4 1216.4,653.2 1234.3,651.1 1252.3,655.3 1270.2,654.9 1288.2,654.6 1306.2,654.3 1324.1,655.3 1342.1,654.9 1360.0,655.2 1378.0,655.1" stroke="#9cff5b" stroke-opacity="0.75" stroke-width="1.35"/><polyline points="677.6,602.1 695.5,533.5 713.5,606.8 731.4,574.5 749.4,613.1 767.4,600.9 785.3,568.0 803.3,614.6 821.2,585.1 839.2,607.0 857.2,532.8 875.1,482.6 893.1,308.6 911.0,380.9 929.0,526.5 947.0,480.1 964.9,484.2 982.9,516.0 1000.8,596.5 1018.8,613.8 1036.8,612.2 1054.7,581.8 1072.7,609.3 1090.6,580.4 1108.6,629.1 1126.6,628.1 1144.5,609.6 1162.5,605.1 1180.4,635.2 1198.4,608.1 1216.4,613.9 1234.3,635.6 1252.3,648.9 1270.2,649.0 1288.2,652.3 1306.2,652.3 1324.1,653.4 1342.1,653.2 1360.0,653.8 1378.0,653.8" stroke="#98ff5f" stroke-opacity="0.75" stroke-width="1.35"/><polyline points="677.6,589.1 695.5,561.2 713.5,561.6 731.4,512.1 749.4,583.9 767.4,537.5 785.3,568.0 803.3,524.0 821.2,541.0 839.2,617.7 857.2,461.1 875.1,424.8 893.1,320.8 911.0,341.1 929.0,513.2 947.0,461.3 964.9,507.0 982.9,491.0 1000.8,556.1 1018.8,605.4 1036.8,560.5 1054.7,540.3 1072.7,559.9 1090.6,524.8 1108.6,622.7 1126.6,573.2 1144.5,528.7 1162.5,590.9 1180.4,635.2 1198.4,553.6 1216.4,598.2 1234.3,626.7 1252.3,646.7 1270.2,646.6 1288.2,650.4 1306.2,649.3 1324.1,651.2 1342.1,651.9 1360.0,653.6 1378.0,652.7" stroke="#94ff62" stroke-opacity="0.75" stroke-width="1.35"/><polyline points="677.6,566.3 695.5,565.4 713.5,529.6 731.4,497.7 749.4,608.2 767.4,494.6 785.3,584.8 803.3,582.3 821.2,479.6 839.2,571.0 857.2,502.7 875.1,468.4 893.1,437.9 911.0,412.6 929.0,446.2 947.0,488.8 964.9,397.5 982.9,536.7 1000.8,577.6 1018.8,628.4 1036.8,607.4 1054.7,557.7 1072.7,594.3 1090.6,590.0 1108.6,622.8 1126.6,540.9 1144.5,581.9 1162.5,609.4 1180.4,633.8 1198.4,552.0 1216.4,605.0 1234.3,636.3 1252.3,644.3 1270.2,641.2 1288.2,649.9 1306.2,652.0 1324.1,651.0 1342.1,652.3 1360.0,653.8 1378.0,653.7" stroke="#91ff66" stroke-opacity="0.75" stroke-width="1.35"/><polyline points="677.6,605.9 695.5,556.9 713.5,592.0 731.4,582.4 749.4,615.7 767.4,502.5 785.3,563.9 803.3,580.0 821.2,530.7 839.2,611.5 857.2,530.0 875.1,428.5 893.1,509.2 911.0,434.4 929.0,537.8 947.0,476.9 964.9,438.8 982.9,519.4 1000.8,578.3 1018.8,613.3 1036.8,606.6 1054.7,577.0 1072.7,590.3 1090.6,574.8 1108.6,609.6 1126.6,498.1 1144.5,524.6 1162.5,609.2 1180.4,631.7 1198.4,584.0 1216.4,599.9 1234.3,639.3 1252.3,644.7 1270.2,648.6 1288.2,652.8 1306.2,650.0 1324.1,653.5 1342.1,653.1 1360.0,654.0 1378.0,654.4" stroke="#8dff6a" stroke-opacity="0.75" stroke-width="1.35"/><polyline points="677.6,593.1 695.5,549.1 713.5,634.5 731.4,620.4 749.4,586.4 767.4,571.3 785.3,614.5 803.3,566.8 821.2,610.0 839.2,604.8 857.2,595.9 875.1,518.7 893.1,490.3 911.0,365.1 929.0,517.8 947.0,465.9 964.9,574.0 982.9,551.5 1000.8,623.9 1018.8,598.7 1036.8,574.2 1054.7,558.6 1072.7,561.1 1090.6,584.4 1108.6,617.8 1126.6,533.2 1144.5,582.0 1162.5,604.8 1180.4,638.2 1198.4,594.3 1216.4,635.5 1234.3,650.0 1252.3,649.8 1270.2,648.3 1288.2,652.5 1306.2,653.7 1324.1,653.9 1342.1,653.6 1360.0,654.3 1378.0,654.1" stroke="#89ff6e" stroke-opacity="0.75" stroke-width="1.35"/><polyline points="677.6,607.5 695.5,560.7 713.5,600.2 731.4,587.7 749.4,613.2 767.4,578.0 785.3,570.7 803.3,619.7 821.2,622.2 839.2,619.1 857.2,572.0 875.1,504.2 893.1,487.9 911.0,420.5 929.0,556.8 947.0,426.2 964.9,523.5 982.9,515.9 1000.8,588.1 1018.8,621.2 1036.8,613.8 1054.7,633.1 1072.7,623.5 1090.6,574.6 1108.6,633.7 1126.6,603.9 1144.5,649.1 1162.5,624.9 1180.4,647.7 1198.4,646.9 1216.4,603.0 1234.3,641.2 1252.3,647.1 1270.2,649.3 1288.2,652.6 1306.2,653.4 1324.1,652.8 1342.1,654.1 1360.0,653.9 1378.0,654.7" stroke="#85ff72" stroke-opacity="0.75" stroke-width="1.35"/><polyline points="677.6,610.3 695.5,586.9 713.5,622.1 731.4,574.9 749.4,638.3 767.4,565.7 785.3,617.3 803.3,638.6 821.2,622.7 839.2,633.2 857.2,579.1 875.1,543.8 893.1,485.1 911.0,520.7 929.0,554.1 947.0,516.4 964.9,574.6 982.9,540.4 1000.8,591.9 1018.8,640.9 1036.8,619.7 1054.7,598.5 1072.7,608.2 1090.6,640.2 1108.6,639.7 1126.6,650.0 1144.5,651.0 1162.5,643.8 1180.4,653.5 1198.4,625.5 1216.4,628.5 1234.3,649.4 1252.3,653.0 1270.2,654.8 1288.2,652.5 1306.2,655.2 1324.1,653.8 1342.1,654.7 1360.0,654.9 1378.0,654.5" stroke="#81ff76" stroke-opacity="0.75" stroke-width="1.35"/><polyline points="677.6,561.9 695.5,545.1 713.5,603.4 731.4,572.1 749.4,610.8 767.4,560.0 785.3,519.7 803.3,576.4 821.2,542.1 839.2,617.4 857.2,511.1 875.1,590.1 893.1,404.4 911.0,481.3 929.0,489.3 947.0,499.9 964.9,476.8 982.9,510.3 1000.8,610.0 1018.8,618.1 1036.8,589.4 1054.7,583.6 1072.7,557.2 1090.6,585.8 1108.6,627.6 1126.6,588.8 1144.5,621.9 1162.5,623.2 1180.4,643.9 1198.4,591.5 1216.4,591.3 1234.3,634.3 1252.3,641.4 1270.2,654.2 1288.2,651.2 1306.2,653.3 1324.1,651.8 1342.1,653.5 1360.0,653.9 1378.0,653.7" stroke="#7dff79" stroke-opacity="0.75" stroke-width="1.35"/><polyline points="839.2,595.9 857.2,500.1 875.1,392.4 893.1,260.7 911.0,296.6 929.0,512.1" stroke="#7bff7b" stroke-opacity="0.70" stroke-width="1.20"/><polyline points="677.6,622.1 695.5,569.6 713.5,599.3 731.4,592.6 749.4,611.2 767.4,597.3 785.3,568.1 803.3,634.0 821.2,575.6 839.2,627.8 857.2,573.5 875.1,544.6 893.1,563.9 911.0,417.1 929.0,552.7 947.0,500.8 964.9,562.4 982.9,534.2 1000.8,586.7 1018.8,629.8 1036.8,549.3 1054.7,611.2 1072.7,629.1 1090.6,558.1 1108.6,637.8 1126.6,591.9 1144.5,622.2 1162.5,616.7 1180.4,646.0 1198.4,607.8 1216.4,638.1 1234.3,649.7 1252.3,650.3 1270.2,645.3 1288.2,655.0 1306.2,653.3 1324.1,653.5 1342.1,654.1 1360.0,654.7 1378.0,654.6" stroke="#79ff7d" stroke-opacity="0.75" stroke-width="1.35"/><polyline points="677.6,582.2 695.5,577.3 713.5,582.7 731.4,551.2 749.4,568.7 767.4,524.4 785.3,569.4 803.3,513.4 821.2,539.9 839.2,602.6 857.2,538.2 875.1,400.3 893.1,380.2 911.0,362.3 929.0,462.8 947.0,392.1 964.9,526.2 982.9,522.6 1000.8,565.7 1018.8,605.5 1036.8,590.7 1054.7,582.6 1072.7,582.7 1090.6,550.8 1108.6,613.1 1126.6,535.5 1144.5,564.9 1162.5,582.7 1180.4,627.2 1198.4,589.3 1216.4,623.6 1234.3,638.0 1252.3,646.5 1270.2,647.1 1288.2,649.8 1306.2,651.5 1324.1,652.3 1342.1,653.5 1360.0,654.3 1378.0,654.3" stroke="#76ff81" stroke-opacity="0.75" stroke-width="1.35"/><polyline points="677.6,632.9 695.5,625.2 713.5,621.7 731.4,601.2 749.4,627.3 767.4,628.6 785.3,612.3 803.3,630.2 821.2,635.1 839.2,630.6 857.2,588.2 875.1,552.7 893.1,552.0 911.0,464.5 929.0,610.2 947.0,569.8 964.9,594.5 982.9,628.0 1000.8,624.4 1018.8,637.6 1036.8,617.9 1054.7,631.4 1072.7,606.5 1090.6,634.3 1108.6,648.0 1126.6,617.8 1144.5,606.8 1162.5,653.0 1180.4,654.2 1198.4,597.4 1216.4,624.4 1234.3,644.1 1252.3,653.6 1270.2,652.4 1288.2,655.3 1306.2,655.3 1324.1,654.3 1342.1,655.3 1360.0,655.0 1378.0,654.5" stroke="#72ff85" stroke-opacity="0.75" stroke-width="1.35"/><polyline points="677.6,610.3 695.5,578.3 713.5,563.6 731.4,576.8 749.4,601.0 767.4,543.3 785.3,552.0 803.3,560.3 821.2,536.2 839.2,593.0 857.2,454.2 875.1,412.6 893.1,416.4 911.0,368.6 929.0,486.9 947.0,456.0 964.9,477.3 982.9,484.4 1000.8,519.9 1018.8,608.2 1036.8,574.4 1054.7,559.6 1072.7,590.0 1090.6,547.6 1108.6,627.9 1126.6,581.4 1144.5,568.6 1162.5,604.6 1180.4,640.3 1198.4,576.5 1216.4,587.4 1234.3,634.1 1252.3,645.7 1270.2,647.1 1288.2,652.6 1306.2,653.2 1324.1,653.1 1342.1,653.7 1360.0,654.2 1378.0,654.0" stroke="#6eff89" stroke-opacity="0.75" stroke-width="1.35"/><polyline points="677.6,621.9 695.5,594.9 713.5,561.5 731.4,606.2 749.4,606.4 767.4,605.0 785.3,546.8 803.3,573.7 821.2,611.5 839.2,621.3 857.2,573.3 875.1,491.7 893.1,512.4 911.0,490.3 929.0,566.2 947.0,511.7 964.9,508.3 982.9,530.8 1000.8,589.8 1018.8,622.7 1036.8,573.9 1054.7,608.9 1072.7,624.7 1090.6,594.3 1108.6,637.7 1126.6,585.5 1144.5,632.8 1162.5,612.2 1180.4,633.9 1198.4,620.1 1216.4,604.1 1234.3,641.7 1252.3,650.4 1270.2,652.8 1288.2,655.3 1306.2,652.6 1324.1,653.8 1342.1,654.0 1360.0,654.0 1378.0,654.4" stroke="#6aff8d" stroke-opacity="0.75" stroke-width="1.35"/><polyline points="677.6,636.5 695.5,643.1 713.5,630.2 731.4,614.5 749.4,642.3 767.4,626.8 785.3,633.4 803.3,633.0 821.2,630.9 839.2,622.9 857.2,613.6 875.1,603.2 893.1,530.1 911.0,532.3 929.0,622.2 947.0,581.7 964.9,620.1 982.9,614.5 1000.8,576.4 1018.8,632.2 1036.8,630.9 1054.7,648.0 1072.7,644.6 1090.6,645.4 1108.6,647.1 1126.6,615.7 1144.5,638.3 1162.5,628.2 1180.4,652.5 1198.4,653.2 1216.4,646.5 1234.3,649.7 1252.3,653.0 1270.2,653.4 1288.2,655.3 1306.2,654.9 1324.1,654.9 1342.1,654.8 1360.0,655.0 1378.0,654.6" stroke="#66ff91" stroke-opacity="0.75" stroke-width="1.35"/><polyline points="857.2,536.0 875.1,452.2 893.1,181.7 911.0,308.6 929.0,512.1 947.0,476.2" stroke="#63ff94" stroke-opacity="0.70" stroke-width="1.20"/><polyline points="677.6,604.9 695.5,579.9 713.5,615.4 731.4,533.7 749.4,628.3 767.4,613.4 785.3,595.5 803.3,590.6 821.2,595.9 839.2,599.9 857.2,597.8 875.1,523.1 893.1,500.3 911.0,538.3 929.0,606.0 947.0,479.0 964.9,515.7 982.9,547.7 1000.8,568.1 1018.8,637.4 1036.8,616.1 1054.7,617.0 1072.7,595.3 1090.6,603.0 1108.6,636.5 1126.6,574.4 1144.5,633.0 1162.5,626.4 1180.4,643.2 1198.4,612.6 1216.4,618.4 1234.3,651.7 1252.3,652.1 1270.2,651.7 1288.2,654.7 1306.2,652.9 1324.1,652.6 1342.1,653.7 1360.0,654.1 1378.0,654.4" stroke="#62ff94" stroke-opacity="0.75" stroke-width="1.35"/><polyline points="677.6,600.5 695.5,561.7 713.5,615.0 731.4,587.7 749.4,599.4 767.4,568.4 785.3,571.4 803.3,583.7 821.2,562.0 839.2,595.0 857.2,482.1 875.1,415.5 893.1,401.6 911.0,284.1 929.0,548.1 947.0,456.9 964.9,496.3 982.9,544.9 1000.8,576.6 1018.8,635.5 1036.8,588.5 1054.7,553.7 1072.7,607.2 1090.6,594.9 1108.6,630.4 1126.6,592.4 1144.5,538.1 1162.5,608.5 1180.4,645.3 1198.4,596.2 1216.4,605.5 1234.3,630.4 1252.3,645.6 1270.2,647.5 1288.2,653.0 1306.2,651.8 1324.1,652.5 1342.1,654.6 1360.0,654.3 1378.0,654.2" stroke="#5fff98" stroke-opacity="0.75" stroke-width="1.35"/><polyline points="677.6,625.0 695.5,617.1 713.5,616.8 731.4,609.1 749.4,630.2 767.4,580.4 785.3,578.5 803.3,598.8 821.2,604.2 839.2,620.5 857.2,620.6 875.1,519.7 893.1,451.0 911.0,469.8 929.0,566.0 947.0,496.3 964.9,520.4 982.9,586.5 1000.8,628.2 1018.8,647.0 1036.8,615.3 1054.7,624.0 1072.7,610.6 1090.6,597.3 1108.6,648.0 1126.6,625.2 1144.5,612.4 1162.5,648.0 1180.4,648.0 1198.4,616.6 1216.4,623.9 1234.3,642.4 1252.3,649.6 1270.2,652.1 1288.2,653.2 1306.2,653.8 1324.1,653.9 1342.1,655.1 1360.0,654.5 1378.0,654.9" stroke="#5bff9c" stroke-opacity="0.75" stroke-width="1.35"/><polyline points="677.6,626.9 695.5,638.5 713.5,610.7 731.4,618.7 749.4,630.4 767.4,626.3 785.3,611.6 803.3,634.6 821.2,616.2 839.2,633.7 857.2,609.8 875.1,590.2 893.1,517.0 911.0,540.8 929.0,591.8 947.0,551.8 964.9,574.9 982.9,603.6 1000.8,641.1 1018.8,648.7 1036.8,607.6 1054.7,648.8 1072.7,634.8 1090.6,645.9 1108.6,641.4 1126.6,647.7 1144.5,651.2 1162.5,645.6 1180.4,649.8 1198.4,652.6 1216.4,643.9 1234.3,648.1 1252.3,653.5 1270.2,655.2 1288.2,654.5 1306.2,654.2 1324.1,654.3 1342.1,654.7 1360.0,655.3 1378.0,654.8" stroke="#57ffa0" stroke-opacity="0.75" stroke-width="1.35"/><polyline points="677.6,563.1 695.5,538.2 713.5,534.0 731.4,518.5 749.4,587.2 767.4,537.4 785.3,569.0 803.3,554.4 821.2,524.2 839.2,581.1 857.2,512.6 875.1,337.1 893.1,341.7 911.0,380.8 929.0,446.2 947.0,376.5 964.9,453.7 982.9,493.5 1000.8,574.4 1018.8,606.4 1036.8,540.0 1054.7,565.9 1072.7,575.6 1090.6,570.5 1108.6,640.5 1126.6,538.9 1144.5,539.0 1162.5,578.7 1180.4,646.5 1198.4,556.7 1216.4,599.3 1234.3,636.8 1252.3,643.9 1270.2,644.8 1288.2,652.7 1306.2,652.7 1324.1,651.6 1342.1,653.1 1360.0,653.4 1378.0,654.2" stroke="#53ffa4" stroke-opacity="0.75" stroke-width="1.35"/><polyline points="857.2,512.1 875.1,416.3 893.1,296.6 911.0,109.9 929.0,476.2 947.0,440.2 964.9,512.1" stroke="#52ffa5" stroke-opacity="0.70" stroke-width="1.20"/><polyline points="677.6,595.9 695.5,512.1 713.5,465.4 731.4,466.6 749.4,583.9 767.4,524.0 785.3,536.0 803.3,536.0 821.2,512.1 839.2,595.9" stroke="#52ffa5" stroke-opacity="0.75" stroke-width="1.30"/><polyline points="749.4,595.9 767.4,449.8 785.3,458.2 803.3,466.6 821.2,476.2 839.2,583.9 857.2,512.1" stroke="#52ffa5" stroke-opacity="0.75" stroke-width="1.30"/><polyline points="677.6,609.7 695.5,640.5 713.5,625.4 731.4,639.2 749.4,637.7 767.4,628.0 785.3,614.9 803.3,640.8 821.2,636.9 839.2,627.2 857.2,589.0 875.1,540.1 893.1,527.5 911.0,526.2 929.0,611.0 947.0,589.3 964.9,549.5 982.9,616.2 1000.8,599.7 1018.8,631.1 1036.8,627.3 1054.7,618.9 1072.7,629.6 1090.6,638.7 1108.6,629.0 1126.6,633.1 1144.5,610.2 1162.5,649.6 1180.4,649.0 1198.4,618.5 1216.4,653.9 1234.3,655.3 1252.3,654.6 1270.2,654.5 1288.2,654.6 1306.2,655.1 1324.1,655.1 1342.1,655.3 1360.0,655.3 1378.0,655.1" stroke="#4fffa8" stroke-opacity="0.75" stroke-width="1.35"/><polyline points="677.6,601.1 695.5,571.9 713.5,553.7 731.4,527.4 749.4,576.7 767.4,556.1 785.3,556.9 803.3,570.0 821.2,511.4 839.2,589.0 857.2,486.6 875.1,482.8 893.1,417.7 911.0,305.5 929.0,523.8 947.0,461.3 964.9,505.8 982.9,546.9 1000.8,514.9 1018.8,615.9 1036.8,535.4 1054.7,570.5 1072.7,619.2 1090.6,583.8 1108.6,632.0 1126.6,571.2 1144.5,558.9 1162.5,600.0 1180.4,637.7 1198.4,600.1 1216.4,590.2 1234.3,632.6 1252.3,644.4 1270.2,648.2 1288.2,651.6 1306.2,653.7 1324.1,653.1 1342.1,653.5 1360.0,653.9 1378.0,654.2" stroke="#4bffab" stroke-opacity="0.75" stroke-width="1.35"/><polyline points="677.6,595.2 695.5,580.5 713.5,551.2 731.4,577.8 749.4,594.8 767.4,550.3 785.3,593.3 803.3,612.6 821.2,583.8 839.2,602.2 857.2,573.7 875.1,442.7 893.1,456.8 911.0,414.8 929.0,523.6 947.0,546.7 964.9,507.2 982.9,554.8 1000.8,624.8 1018.8,638.3 1036.8,595.7 1054.7,607.4 1072.7,581.1 1090.6,599.0 1108.6,631.7 1126.6,568.5 1144.5,574.1 1162.5,593.3 1180.4,642.8 1198.4,592.4 1216.4,629.8 1234.3,644.3 1252.3,646.3 1270.2,647.6 1288.2,652.1 1306.2,653.2 1324.1,654.0 1342.1,654.5 1360.0,654.8 1378.0,653.8" stroke="#47ffaf" stroke-opacity="0.75" stroke-width="1.35"/><polyline points="677.6,573.8 695.5,563.2 713.5,604.0 731.4,565.0 749.4,591.7 767.4,558.4 785.3,551.8 803.3,586.2 821.2,554.8 839.2,609.9 857.2,549.8 875.1,474.9 893.1,491.5 911.0,451.1 929.0,501.4 947.0,390.6 964.9,517.1 982.9,539.7 1000.8,602.4 1018.8,620.5 1036.8,552.9 1054.7,618.7 1072.7,581.5 1090.6,576.5 1108.6,616.0 1126.6,555.3 1144.5,592.1 1162.5,583.1 1180.4,642.5 1198.4,573.8 1216.4,604.5 1234.3,641.6 1252.3,648.3 1270.2,649.2 1288.2,653.0 1306.2,652.6 1324.1,653.2 1342.1,654.4 1360.0,654.2 1378.0,654.4" stroke="#44ffb3" stroke-opacity="0.75" stroke-width="1.35"/><polyline points="677.6,644.5 695.5,627.9 713.5,616.8 731.4,636.5 749.4,619.0 767.4,617.9 785.3,618.5 803.3,612.0 821.2,552.3 839.2,628.1 857.2,540.3 875.1,596.4 893.1,552.5 911.0,474.3 929.0,592.8 947.0,565.4 964.9,600.5 982.9,600.8 1000.8,619.6 1018.8,629.4 1036.8,614.5 1054.7,637.1 1072.7,628.4 1090.6,628.8 1108.6,643.3 1126.6,639.1 1144.5,619.9 1162.5,642.5 1180.4,646.8 1198.4,652.1 1216.4,619.7 1234.3,654.2 1252.3,652.7 1270.2,655.0 1288.2,655.0 1306.2,654.7 1324.1,655.3 1342.1,654.6 1360.0,654.6 1378.0,655.1" stroke="#40ffb7" stroke-opacity="0.75" stroke-width="1.35"/><polyline points="677.6,617.6 695.5,597.7 713.5,620.1 731.4,632.3 749.4,626.9 767.4,569.4 785.3,623.3 803.3,638.9 821.2,571.2 839.2,619.4 857.2,585.5 875.1,549.7 893.1,516.5 911.0,454.3 929.0,565.3 947.0,534.9 964.9,550.8 982.9,586.3 1000.8,614.4 1018.8,646.2 1036.8,628.5 1054.7,627.9 1072.7,623.2 1090.6,629.3 1108.6,642.0 1126.6,628.1 1144.5,600.3 1162.5,615.3 1180.4,647.5 1198.4,621.8 1216.4,635.2 1234.3,655.3 1252.3,651.2 1270.2,654.7 1288.2,654.8 1306.2,654.9 1324.1,655.1 1342.1,655.0 1360.0,655.1 1378.0,655.1" stroke="#3cffbb" stroke-opacity="0.75" stroke-width="1.35"/><polyline points="677.6,580.4 695.5,578.4 713.5,583.3 731.4,571.7 749.4,602.9 767.4,559.7 785.3,523.8 803.3,596.1 821.2,553.5 839.2,603.7 857.2,499.5 875.1,452.0 893.1,478.6 911.0,346.9 929.0,533.0 947.0,376.3 964.9,499.4 982.9,538.7 1000.8,593.0 1018.8,612.9 1036.8,597.0 1054.7,605.6 1072.7,576.6 1090.6,569.3 1108.6,630.3 1126.6,602.0 1144.5,606.7 1162.5,595.4 1180.4,641.7 1198.4,587.9 1216.4,604.8 1234.3,639.2 1252.3,650.5 1270.2,649.7 1288.2,652.0 1306.2,653.4 1324.1,653.7 1342.1,654.4 1360.0,653.8 1378.0,654.6" stroke="#38ffbf" stroke-opacity="0.75" stroke-width="1.35"/><polyline points="677.6,639.2 695.5,612.3 713.5,636.7 731.4,612.5 749.4,632.1 767.4,606.0 785.3,616.3 803.3,623.8 821.2,626.2 839.2,631.3 857.2,588.0 875.1,576.9 893.1,508.7 911.0,423.7 929.0,583.0 947.0,558.0 964.9,574.8 982.9,617.9 1000.8,639.6 1018.8,647.4 1036.8,645.3 1054.7,634.1 1072.7,642.7 1090.6,641.9 1108.6,644.3 1126.6,629.3 1144.5,624.7 1162.5,652.5 1180.4,651.4 1198.4,653.2 1216.4,629.0 1234.3,655.3 1252.3,655.1 1270.2,653.5 1288.2,654.0 1306.2,655.3 1324.1,655.2 1342.1,655.3 1360.0,654.8 1378.0,654.7" stroke="#34ffc2" stroke-opacity="0.75" stroke-width="1.35"/><polyline points="677.6,599.8 695.5,535.6 713.5,550.3 731.4,558.5 749.4,595.4 767.4,481.9 785.3,599.8 803.3,554.3 821.2,526.5 839.2,591.2 857.2,525.1 875.1,410.2 893.1,335.6 911.0,342.4 929.0,524.4 947.0,456.1 964.9,449.9 982.9,491.1 1000.8,586.7 1018.8,627.4 1036.8,571.0 1054.7,585.1 1072.7,563.7 1090.6,565.5 1108.6,629.6 1126.6,530.5 1144.5,557.8 1162.5,563.1 1180.4,638.5 1198.4,567.8 1216.4,591.4 1234.3,629.5 1252.3,647.3 1270.2,649.0 1288.2,652.0 1306.2,652.4 1324.1,653.7 1342.1,653.6 1360.0,654.4 1378.0,654.8" stroke="#30ffc6" stroke-opacity="0.75" stroke-width="1.35"/><polyline points="677.6,590.4 695.5,556.4 713.5,556.5 731.4,522.8 749.4,592.4 767.4,565.8 785.3,550.6 803.3,558.1 821.2,530.4 839.2,598.2 857.2,492.2 875.1,433.6 893.1,264.1 911.0,327.1 929.0,477.0 947.0,421.9 964.9,472.1 982.9,523.1 1000.8,523.2 1018.8,606.6 1036.8,536.8 1054.7,559.5 1072.7,555.3 1090.6,586.9 1108.6,628.8 1126.6,536.5 1144.5,574.0 1162.5,584.4 1180.4,635.3 1198.4,550.1 1216.4,596.4 1234.3,629.7 1252.3,642.3 1270.2,650.0 1288.2,651.3 1306.2,653.5 1324.1,653.8 1342.1,654.0 1360.0,653.9 1378.0,654.3" stroke="#2dffca" stroke-opacity="0.75" stroke-width="1.35"/><polyline points="1018.8,619.8 1036.8,476.2 1054.7,512.1 1072.7,536.0 1090.6,559.9 1108.6,619.8" stroke="#29ffce" stroke-opacity="0.70" stroke-width="1.20"/><polyline points="749.4,595.9 767.4,500.1 785.3,488.1 803.3,494.1 821.2,500.1 839.2,595.9" stroke="#29ffce" stroke-opacity="0.75" stroke-width="1.30"/><polyline points="677.6,649.1 695.5,638.3 713.5,643.0 731.4,631.6 749.4,642.7 767.4,640.6 785.3,634.6 803.3,632.6 821.2,627.8 839.2,642.5 857.2,617.6 875.1,597.1 893.1,560.6 911.0,507.9 929.0,609.0 947.0,538.4 964.9,594.9 982.9,612.2 1000.8,635.6 1018.8,650.2 1036.8,641.0 1054.7,645.9 1072.7,647.5 1090.6,620.7 1108.6,651.7 1126.6,622.1 1144.5,650.1 1162.5,652.7 1180.4,654.7 1198.4,653.1 1216.4,654.5 1234.3,652.5 1252.3,653.7 1270.2,655.3 1288.2,654.4 1306.2,655.0 1324.1,655.3 1342.1,655.1 1360.0,655.3 1378.0,655.3" stroke="#29ffce" stroke-opacity="0.75" stroke-width="1.35"/><polyline points="677.6,612.9 695.5,580.8 713.5,584.4 731.4,569.6 749.4,596.1 767.4,562.2 785.3,556.6 803.3,571.8 821.2,562.7 839.2,609.7 857.2,516.3 875.1,412.7 893.1,405.4 911.0,322.3 929.0,549.5 947.0,434.7 964.9,485.3 982.9,540.1 1000.8,595.2 1018.8,617.8 1036.8,575.7 1054.7,589.6 1072.7,603.5 1090.6,600.5 1108.6,634.4 1126.6,590.9 1144.5,589.9 1162.5,626.5 1180.4,641.0 1198.4,589.7 1216.4,618.4 1234.3,645.1 1252.3,649.1 1270.2,652.2 1288.2,652.9 1306.2,653.5 1324.1,653.6 1342.1,654.5 1360.0,654.3 1378.0,654.8" stroke="#25ffd2" stroke-opacity="0.75" stroke-width="1.35"/><polyline points="677.6,645.6 695.5,605.9 713.5,617.0 731.4,606.8 749.4,615.4 767.4,561.6 785.3,605.9 803.3,608.2 821.2,589.0 839.2,602.9 857.2,613.4 875.1,563.6 893.1,452.2 911.0,511.0 929.0,595.5 947.0,504.3 964.9,593.4 982.9,551.4 1000.8,611.2 1018.8,635.3 1036.8,634.9 1054.7,606.7 1072.7,632.1 1090.6,624.4 1108.6,647.1 1126.6,619.1 1144.5,636.7 1162.5,624.9 1180.4,646.8 1198.4,635.9 1216.4,646.5 1234.3,645.9 1252.3,651.7 1270.2,653.1 1288.2,654.3 1306.2,653.9 1324.1,654.5 1342.1,655.1 1360.0,655.2 1378.0,655.1" stroke="#21ffd6" stroke-opacity="0.75" stroke-width="1.35"/><polyline points="677.6,602.2 695.5,550.9 713.5,552.9 731.4,598.3 749.4,607.6 767.4,571.3 785.3,575.9 803.3,575.1 821.2,596.9 839.2,600.8 857.2,491.0 875.1,498.7 893.1,375.6 911.0,398.7 929.0,511.8 947.0,456.0 964.9,521.0 982.9,502.9 1000.8,587.5 1018.8,632.3 1036.8,547.6 1054.7,587.9 1072.7,597.2 1090.6,597.3 1108.6,622.4 1126.6,580.1 1144.5,610.5 1162.5,605.8 1180.4,634.4 1198.4,571.4 1216.4,624.6 1234.3,640.1 1252.3,645.9 1270.2,652.8 1288.2,654.0 1306.2,654.3 1324.1,653.8 1342.1,654.8 1360.0,654.9 1378.0,654.9" stroke="#1dffda" stroke-opacity="0.75" stroke-width="1.35"/><polyline points="677.6,646.6 695.5,640.8 713.5,641.0 731.4,633.6 749.4,621.4 767.4,637.9 785.3,631.3 803.3,619.7 821.2,608.8 839.2,633.7 857.2,589.9 875.1,533.1 893.1,554.9 911.0,523.9 929.0,591.0 947.0,562.6 964.9,573.4 982.9,616.6 1000.8,635.7 1018.8,650.1 1036.8,626.8 1054.7,639.1 1072.7,647.2 1090.6,646.9 1108.6,651.6 1126.6,648.0 1144.5,651.7 1162.5,653.2 1180.4,653.2 1198.4,648.4 1216.4,645.2 1234.3,652.9 1252.3,655.3 1270.2,655.3 1288.2,655.3 1306.2,655.3 1324.1,655.2 1342.1,655.3 1360.0,655.3 1378.0,655.3" stroke="#19ffdd" stroke-opacity="0.75" stroke-width="1.35"/><polyline points="677.6,646.9 695.5,615.1 713.5,610.8 731.4,638.2 749.4,635.3 767.4,607.1 785.3,642.3 803.3,629.1 821.2,623.2 839.2,639.6 857.2,617.6 875.1,581.3 893.1,542.3 911.0,504.3 929.0,578.9 947.0,490.3 964.9,544.9 982.9,587.2 1000.8,628.6 1018.8,649.0 1036.8,638.8 1054.7,630.1 1072.7,639.7 1090.6,632.0 1108.6,645.3 1126.6,649.1 1144.5,651.6 1162.5,637.6 1180.4,652.5 1198.4,629.4 1216.4,648.3 1234.3,655.3 1252.3,652.8 1270.2,655.1 1288.2,654.9 1306.2,654.8 1324.1,655.1 1342.1,655.3 1360.0,655.2 1378.0,655.3" stroke="#16ffe1" stroke-opacity="0.75" stroke-width="1.35"/><polyline points="677.6,629.0 695.5,618.3 713.5,623.7 731.4,598.1 749.4,641.8 767.4,637.2 785.3,636.2 803.3,628.0 821.2,624.1 839.2,627.2 857.2,588.2 875.1,521.9 893.1,536.3 911.0,480.7 929.0,589.8 947.0,575.7 964.9,573.5 982.9,604.8 1000.8,615.1 1018.8,646.0 1036.8,609.1 1054.7,627.3 1072.7,640.3 1090.6,626.5 1108.6,646.8 1126.6,629.1 1144.5,640.5 1162.5,626.7 1180.4,652.6 1198.4,626.4 1216.4,644.0 1234.3,649.5 1252.3,655.3 1270.2,653.1 1288.2,654.2 1306.2,654.9 1324.1,654.9 1342.1,655.1 1360.0,655.1 1378.0,655.2" stroke="#12fbe5" stroke-opacity="0.75" stroke-width="1.35"/><polyline points="677.6,582.5 695.5,566.9 713.5,584.3 731.4,562.4 749.4,609.7 767.4,544.5 785.3,593.5 803.3,595.9 821.2,547.0 839.2,605.9 857.2,546.6 875.1,482.0 893.1,400.9 911.0,396.5 929.0,522.2 947.0,500.9 964.9,525.1 982.9,566.2 1000.8,587.8 1018.8,629.9 1036.8,568.9 1054.7,604.3 1072.7,607.4 1090.6,609.0 1108.6,628.9 1126.6,589.6 1144.5,587.4 1162.5,599.4 1180.4,646.1 1198.4,601.0 1216.4,618.7 1234.3,648.1 1252.3,649.0 1270.2,653.2 1288.2,653.7 1306.2,653.9 1324.1,654.3 1342.1,654.7 1360.0,654.7 1378.0,654.7" stroke="#0ef7e9" stroke-opacity="0.75" stroke-width="1.35"/><polyline points="677.6,648.8 695.5,636.2 713.5,631.2 731.4,637.8 749.4,625.0 767.4,606.6 785.3,627.4 803.3,605.4 821.2,631.8 839.2,642.2 857.2,618.2 875.1,589.0 893.1,524.4 911.0,457.7 929.0,593.1 947.0,578.5 964.9,605.5 982.9,611.8 1000.8,637.0 1018.8,637.5 1036.8,624.8 1054.7,645.4 1072.7,642.7 1090.6,632.7 1108.6,648.7 1126.6,621.3 1144.5,643.5 1162.5,630.4 1180.4,651.3 1198.4,653.2 1216.4,654.6 1234.3,655.2 1252.3,652.4 1270.2,655.2 1288.2,654.8 1306.2,655.3 1324.1,655.2 1342.1,655.3 1360.0,655.3 1378.0,655.2" stroke="#0af2ed" stroke-opacity="0.75" stroke-width="1.35"/><polyline points="677.6,582.0 695.5,535.8 713.5,585.4 731.4,531.5 749.4,601.9 767.4,552.6 785.3,534.1 803.3,536.3 821.2,554.1 839.2,608.7 857.2,501.6 875.1,480.8 893.1,436.4 911.0,376.6 929.0,541.2 947.0,372.8 964.9,453.6 982.9,538.5 1000.8,581.5 1018.8,628.0 1036.8,589.2 1054.7,578.2 1072.7,580.0 1090.6,564.8 1108.6,629.2 1126.6,538.6 1144.5,579.2 1162.5,576.4 1180.4,643.1 1198.4,577.0 1216.4,590.0 1234.3,632.4 1252.3,650.0 1270.2,650.9 1288.2,652.4 1306.2,653.4 1324.1,654.0 1342.1,654.0 1360.0,654.5 1378.0,654.6" stroke="#06edf1" stroke-opacity="0.75" stroke-width="1.35"/><polyline points="677.6,570.0 695.5,597.1 713.5,578.3 731.4,569.0 749.4,604.2 767.4,569.2 785.3,574.5 803.3,571.9 821.2,573.9 839.2,603.3 857.2,538.4 875.1,459.8 893.1,420.0 911.0,286.1 929.0,530.3 947.0,425.7 964.9,519.5 982.9,566.8 1000.8,585.7 1018.8,624.8 1036.8,612.2 1054.7,597.0 1072.7,603.8 1090.6,600.9 1108.6,634.5 1126.6,571.5 1144.5,597.0 1162.5,620.6 1180.4,645.2 1198.4,611.4 1216.4,616.5 1234.3,640.7 1252.3,650.0 1270.2,651.8 1288.2,653.4 1306.2,653.5 1324.1,653.8 1342.1,654.2 1360.0,654.3 1378.0,655.0" stroke="#02e8f4" stroke-opacity="0.75" stroke-width="1.35"/><polyline points="749.4,595.9 767.4,482.1 785.3,476.2 803.3,478.5 821.2,479.7 839.2,583.9 857.2,536.0" stroke="#00e5f7" stroke-opacity="0.75" stroke-width="1.30"/><polyline points="839.2,595.9 857.2,536.0 875.1,428.3 893.1,296.6 911.0,368.4 929.0,536.0 947.0,464.2" stroke="#00e5f7" stroke-opacity="0.70" stroke-width="1.20"/><polyline points="677.6,640.1 695.5,636.2 713.5,622.3 731.4,608.3 749.4,624.8 767.4,615.1 785.3,619.2 803.3,611.8 821.2,627.6 839.2,631.3 857.2,592.1 875.1,567.5 893.1,495.8 911.0,478.9 929.0,607.5 947.0,534.7 964.9,592.7 982.9,551.2 1000.8,634.1 1018.8,643.1 1036.8,629.8 1054.7,645.8 1072.7,611.7 1090.6,641.3 1108.6,640.7 1126.6,618.0 1144.5,625.3 1162.5,653.5 1180.4,654.7 1198.4,645.1 1216.4,654.5 1234.3,652.8 1252.3,652.7 1270.2,653.8 1288.2,655.1 1306.2,655.3 1324.1,654.8 1342.1,655.0 1360.0,655.2 1378.0,655.3" stroke="#00e4f8" stroke-opacity="0.75" stroke-width="1.35"/><polyline points="677.6,624.5 695.5,630.4 713.5,616.0 731.4,608.8 749.4,629.6 767.4,615.0 785.3,633.9 803.3,638.9 821.2,634.6 839.2,628.0 857.2,591.4 875.1,569.8 893.1,548.5 911.0,454.3 929.0,585.0 947.0,570.0 964.9,579.8 982.9,615.3 1000.8,601.2 1018.8,635.9 1036.8,595.3 1054.7,598.3 1072.7,633.6 1090.6,629.1 1108.6,652.0 1126.6,626.5 1144.5,640.3 1162.5,639.5 1180.4,651.2 1198.4,653.1 1216.4,640.3 1234.3,653.0 1252.3,655.3 1270.2,654.8 1288.2,654.3 1306.2,655.2 1324.1,654.6 1342.1,655.1 1360.0,655.2 1378.0,655.3" stroke="#00dffc" stroke-opacity="0.75" stroke-width="1.35"/><polyline points="677.6,589.2 695.5,579.0 713.5,586.6 731.4,567.4 749.4,612.0 767.4,548.0 785.3,590.3 803.3,559.8 821.2,540.6 839.2,605.6 857.2,541.9 875.1,433.4 893.1,427.7 911.0,353.2 929.0,548.2 947.0,437.7 964.9,461.7 982.9,558.4 1000.8,599.6 1018.8,631.8 1036.8,584.4 1054.7,579.3 1072.7,603.2 1090.6,588.2 1108.6,628.9 1126.6,599.2 1144.5,572.2 1162.5,604.0 1180.4,643.4 1198.4,567.7 1216.4,613.1 1234.3,638.5 1252.3,648.5 1270.2,651.9 1288.2,652.9 1306.2,653.8 1324.1,654.5 1342.1,654.5 1360.0,655.0 1378.0,655.0" stroke="#00daff" stroke-opacity="0.75" stroke-width="1.35"/><polyline points="677.6,608.1 695.5,594.2 713.5,612.1 731.4,612.9 749.4,630.4 767.4,582.5 785.3,585.8 803.3,627.6 821.2,583.7 839.2,613.2 857.2,592.1 875.1,557.5 893.1,483.1 911.0,436.1 929.0,544.0 947.0,507.9 964.9,560.7 982.9,578.3 1000.8,587.4 1018.8,639.5 1036.8,613.1 1054.7,624.9 1072.7,599.0 1090.6,614.0 1108.6,630.4 1126.6,616.3 1144.5,612.6 1162.5,630.2 1180.4,644.1 1198.4,609.9 1216.4,628.2 1234.3,646.1 1252.3,652.9 1270.2,653.5 1288.2,654.9 1306.2,654.7 1324.1,654.5 1342.1,654.8 1360.0,654.6 1378.0,654.9" stroke="#00d5ff" stroke-opacity="0.75" stroke-width="1.35"/><polyline points="1018.8,607.8 1036.8,559.9 1054.7,512.1 1072.7,500.1 1090.6,500.1 1108.6,619.8" stroke="#00d1ff" stroke-opacity="0.70" stroke-width="1.20"/><polyline points="677.6,565.2 695.5,542.7 713.5,573.2 731.4,564.4 749.4,593.1 767.4,533.7 785.3,539.1 803.3,516.1 821.2,549.4 839.2,581.2 857.2,484.1 875.1,446.0 893.1,459.4 911.0,388.2 929.0,505.3 947.0,429.2 964.9,503.0 982.9,494.6 1000.8,586.8 1018.8,623.4 1036.8,568.4 1054.7,575.3 1072.7,574.9 1090.6,565.8 1108.6,622.7 1126.6,531.6 1144.5,572.4 1162.5,585.1 1180.4,644.3 1198.4,547.1 1216.4,583.7 1234.3,628.2 1252.3,646.6 1270.2,650.0 1288.2,652.1 1306.2,653.2 1324.1,653.5 1342.1,654.1 1360.0,654.2 1378.0,654.4" stroke="#00d1ff" stroke-opacity="0.75" stroke-width="1.35"/><polyline points="677.6,574.8 695.5,560.9 713.5,542.2 731.4,581.6 749.4,608.3 767.4,538.6 785.3,562.5 803.3,566.1 821.2,539.8 839.2,591.8 857.2,504.9 875.1,460.3 893.1,401.6 911.0,331.4 929.0,532.9 947.0,443.8 964.9,504.1 982.9,582.5 1000.8,565.5 1018.8,623.9 1036.8,570.3 1054.7,576.3 1072.7,597.5 1090.6,556.7 1108.6,622.3 1126.6,565.3 1144.5,574.0 1162.5,600.7 1180.4,644.1 1198.4,552.1 1216.4,590.8 1234.3,637.7 1252.3,650.3 1270.2,652.3 1288.2,653.4 1306.2,653.6 1324.1,654.3 1342.1,654.3 1360.0,654.7 1378.0,654.7" stroke="#00ccff" stroke-opacity="0.75" stroke-width="1.35"/><polyline points="677.6,617.0 695.5,636.2 713.5,618.8 731.4,611.9 749.4,633.3 767.4,618.2 785.3,641.4 803.3,638.8 821.2,632.4 839.2,633.1 857.2,587.5 875.1,583.4 893.1,552.8 911.0,493.6 929.0,598.4 947.0,519.7 964.9,566.8 982.9,602.8 1000.8,614.3 1018.8,638.4 1036.8,644.2 1054.7,646.3 1072.7,634.0 1090.6,637.3 1108.6,650.8 1126.6,627.6 1144.5,644.7 1162.5,629.4 1180.4,653.1 1198.4,653.5 1216.4,651.0 1234.3,654.4 1252.3,655.3 1270.2,654.2 1288.2,655.3 1306.2,655.3 1324.1,655.3 1342.1,655.0 1360.0,655.2 1378.0,654.9" stroke="#00c7ff" stroke-opacity="0.75" stroke-width="1.35"/><polyline points="677.6,553.6 695.5,509.8 713.5,562.9 731.4,504.7 749.4,591.8 767.4,499.7 785.3,555.3 803.3,543.1 821.2,508.2 839.2,598.7 857.2,445.7 875.1,359.5 893.1,340.3 911.0,340.9 929.0,502.3 947.0,378.8 964.9,470.9 982.9,512.8 1000.8,563.3 1018.8,622.0 1036.8,557.4 1054.7,553.7 1072.7,554.8 1090.6,546.2 1108.6,626.3 1126.6,525.1 1144.5,572.6 1162.5,582.3 1180.4,639.4 1198.4,562.7 1216.4,570.7 1234.3,630.7 1252.3,648.6 1270.2,650.8 1288.2,652.7 1306.2,652.6 1324.1,653.7 1342.1,654.1 1360.0,654.3 1378.0,654.6" stroke="#00c2ff" stroke-opacity="0.75" stroke-width="1.35"/><polyline points="677.6,579.9 695.5,523.7 713.5,535.2 731.4,490.2 749.4,592.9 767.4,573.9 785.3,545.8 803.3,563.3 821.2,571.9 839.2,560.6 857.2,440.8 875.1,434.9 893.1,394.6 911.0,290.5 929.0,457.9 947.0,455.1 964.9,436.0 982.9,538.3 1000.8,543.8 1018.8,599.3 1036.8,557.9 1054.7,598.2 1072.7,557.2 1090.6,561.4 1108.6,632.5 1126.6,492.6 1144.5,572.3 1162.5,586.0 1180.4,639.5 1198.4,570.6 1216.4,583.8 1234.3,635.0 1252.3,646.6 1270.2,649.6 1288.2,652.4 1306.2,652.5 1324.1,654.3 1342.1,654.1 1360.0,654.5 1378.0,654.6" stroke="#00bdff" stroke-opacity="0.75" stroke-width="1.35"/><polyline points="677.6,577.4 695.5,544.6 713.5,548.9 731.4,485.2 749.4,599.4 767.4,498.7 785.3,570.6 803.3,542.8 821.2,549.0 839.2,589.0 857.2,513.2 875.1,369.7 893.1,388.9 911.0,342.4 929.0,482.9 947.0,427.8 964.9,416.1 982.9,522.1 1000.8,545.6 1018.8,620.1 1036.8,573.6 1054.7,549.2 1072.7,542.1 1090.6,579.5 1108.6,624.4 1126.6,514.9 1144.5,565.5 1162.5,608.9 1180.4,642.3 1198.4,550.2 1216.4,606.9 1234.3,629.9 1252.3,645.4 1270.2,651.2 1288.2,653.0 1306.2,652.8 1324.1,654.0 1342.1,653.8 1360.0,654.4 1378.0,654.6" stroke="#00b9ff" stroke-opacity="0.75" stroke-width="1.35"/><polyline points="677.6,585.9 695.5,574.3 713.5,601.4 731.4,546.6 749.4,611.0 767.4,559.4 785.3,606.0 803.3,589.2 821.2,553.7 839.2,603.3 857.2,537.7 875.1,537.0 893.1,402.9 911.0,456.0 929.0,561.9 947.0,500.1 964.9,526.2 982.9,560.1 1000.8,598.6 1018.8,625.7 1036.8,576.7 1054.7,580.5 1072.7,620.6 1090.6,617.1 1108.6,634.8 1126.6,587.6 1144.5,602.4 1162.5,634.5 1180.4,648.0 1198.4,617.2 1216.4,622.2 1234.3,645.7 1252.3,651.9 1270.2,652.4 1288.2,654.2 1306.2,654.1 1324.1,653.7 1342.1,654.5 1360.0,654.7 1378.0,655.1" stroke="#00b4ff" stroke-opacity="0.75" stroke-width="1.35"/><polyline points="767.4,559.9 785.3,536.0 803.3,476.2 821.2,311.0 839.2,524.0 857.2,464.2 875.1,416.3 893.1,392.4 911.0,356.5 929.0,536.0" stroke="#00b2ff" stroke-opacity="0.70" stroke-width="1.20"/><polyline points="1108.6,619.8 1126.6,476.2 1144.5,454.6 1162.5,595.9" stroke="#00b2ff" stroke-opacity="0.70" stroke-width="1.20"/><polyline points="677.6,636.9 695.5,609.8 713.5,631.4 731.4,599.5 749.4,614.9 767.4,593.3 785.3,599.8 803.3,618.0 821.2,635.7 839.2,633.7 857.2,595.7 875.1,549.4 893.1,511.5 911.0,460.2 929.0,559.1 947.0,529.8 964.9,581.4 982.9,568.1 1000.8,611.9 1018.8,626.5 1036.8,611.1 1054.7,640.8 1072.7,610.0 1090.6,619.3 1108.6,643.2 1126.6,613.1 1144.5,615.7 1162.5,634.3 1180.4,651.8 1198.4,626.0 1216.4,634.3 1234.3,653.3 1252.3,652.1 1270.2,653.9 1288.2,653.3 1306.2,654.1 1324.1,655.1 1342.1,654.9 1360.0,655.2 1378.0,655.2" stroke="#00afff" stroke-opacity="0.75" stroke-width="1.35"/><polyline points="677.6,582.4 695.5,552.8 713.5,593.2 731.4,565.9 749.4,603.3 767.4,569.2 785.3,584.2 803.3,593.5 821.2,586.0 839.2,622.0 857.2,522.9 875.1,448.8 893.1,338.2 911.0,437.6 929.0,560.0 947.0,472.7 964.9,491.6 982.9,557.0 1000.8,584.2 1018.8,620.5 1036.8,550.9 1054.7,591.0 1072.7,612.9 1090.6,599.9 1108.6,632.7 1126.6,544.7 1144.5,571.6 1162.5,615.8 1180.4,645.9 1198.4,579.3 1216.4,622.1 1234.3,644.6 1252.3,650.5 1270.2,651.2 1288.2,652.6 1306.2,653.3 1324.1,654.5 1342.1,654.6 1360.0,654.8 1378.0,654.6" stroke="#00aaff" stroke-opacity="0.75" stroke-width="1.35"/><polyline points="677.6,613.0 695.5,582.1 713.5,596.0 731.4,585.0 749.4,625.4 767.4,557.3 785.3,587.4 803.3,589.4 821.2,551.8 839.2,596.9 857.2,547.5 875.1,547.8 893.1,382.7 911.0,475.9 929.0,582.8 947.0,453.8 964.9,521.5 982.9,549.3 1000.8,608.3 1018.8,633.6 1036.8,597.6 1054.7,592.2 1072.7,603.2 1090.6,614.1 1108.6,634.9 1126.6,587.1 1144.5,596.0 1162.5,627.2 1180.4,647.7 1198.4,595.0 1216.4,643.5 1234.3,645.6 1252.3,650.9 1270.2,653.5 1288.2,653.8 1306.2,654.4 1324.1,654.4 1342.1,655.0 1360.0,654.8 1378.0,655.0" stroke="#00a6ff" stroke-opacity="0.75" stroke-width="1.35"/><polyline points="677.6,620.8 695.5,596.0 713.5,627.7 731.4,575.5 749.4,626.2 767.4,615.7 785.3,614.5 803.3,596.0 821.2,597.2 839.2,624.6 857.2,596.3 875.1,525.0 893.1,525.9 911.0,447.2 929.0,574.9 947.0,490.0 964.9,586.2 982.9,563.2 1000.8,626.1 1018.8,633.8 1036.8,598.8 1054.7,633.1 1072.7,637.5 1090.6,603.0 1108.6,632.2 1126.6,595.9 1144.5,627.3 1162.5,636.9 1180.4,650.9 1198.4,634.1 1216.4,639.5 1234.3,647.0 1252.3,652.6 1270.2,653.3 1288.2,653.9 1306.2,654.7 1324.1,654.6 1342.1,654.8 1360.0,655.1 1378.0,655.0" stroke="#00a1ff" stroke-opacity="0.75" stroke-width="1.35"/><polyline points="677.6,596.5 695.5,553.7 713.5,593.1 731.4,556.5 749.4,609.0 767.4,624.6 785.3,578.5 803.3,585.5 821.2,573.2 839.2,597.3 857.2,592.3 875.1,498.4 893.1,403.3 911.0,434.8 929.0,542.2 947.0,485.3 964.9,507.4 982.9,545.8 1000.8,596.4 1018.8,622.3 1036.8,553.0 1054.7,585.7 1072.7,589.3 1090.6,579.7 1108.6,638.4 1126.6,578.4 1144.5,593.6 1162.5,592.3 1180.4,639.9 1198.4,570.5 1216.4,606.8 1234.3,636.8 1252.3,652.2 1270.2,652.1 1288.2,653.7 1306.2,654.2 1324.1,654.0 1342.1,654.7 1360.0,654.7 1378.0,654.7" stroke="#009cff" stroke-opacity="0.75" stroke-width="1.35"/><polyline points="677.6,567.3 695.5,558.0 713.5,592.8 731.4,562.4 749.4,610.6 767.4,548.3 785.3,566.6 803.3,536.5 821.2,552.6 839.2,606.9 857.2,522.9 875.1,467.6 893.1,354.7 911.0,447.0 929.0,519.9 947.0,443.3 964.9,492.0 982.9,573.5 1000.8,553.6 1018.8,618.4 1036.8,553.9 1054.7,579.0 1072.7,613.6 1090.6,596.0 1108.6,631.4 1126.6,540.9 1144.5,579.9 1162.5,628.6 1180.4,644.2 1198.4,550.9 1216.4,619.9 1234.3,640.7 1252.3,650.5 1270.2,652.2 1288.2,653.4 1306.2,654.0 1324.1,654.3 1342.1,654.5 1360.0,654.6 1378.0,654.8" stroke="#0097ff" stroke-opacity="0.75" stroke-width="1.35"/><polyline points="677.6,574.8 695.5,576.0 713.5,584.5 731.4,540.7 749.4,598.9 767.4,554.2 785.3,543.4 803.3,556.5 821.2,542.5 839.2,582.1 857.2,488.9 875.1,413.7 893.1,447.5 911.0,277.5 929.0,503.8 947.0,421.3 964.9,464.2 982.9,552.8 1000.8,599.0 1018.8,628.7 1036.8,518.8 1054.7,583.9 1072.7,583.1 1090.6,603.9 1108.6,629.3 1126.6,585.4 1144.5,588.7 1162.5,615.1 1180.4,644.7 1198.4,531.5 1216.4,625.3 1234.3,634.8 1252.3,648.8 1270.2,652.6 1288.2,653.5 1306.2,654.1 1324.1,653.8 1342.1,654.8 1360.0,654.5 1378.0,654.5" stroke="#0093ff" stroke-opacity="0.75" stroke-width="1.35"/><polyline points="677.6,607.5 695.5,613.3 713.5,602.0 731.4,611.3 749.4,616.6 767.4,584.9 785.3,600.7 803.3,629.0 821.2,633.7 839.2,619.6 857.2,589.0 875.1,578.5 893.1,506.9 911.0,390.4 929.0,583.5 947.0,537.1 964.9,543.6 982.9,550.9 1000.8,603.3 1018.8,632.8 1036.8,630.4 1054.7,617.2 1072.7,627.9 1090.6,633.6 1108.6,646.0 1126.6,596.1 1144.5,612.3 1162.5,605.0 1180.4,649.2 1198.4,650.2 1216.4,622.2 1234.3,648.9 1252.3,652.1 1270.2,654.1 1288.2,654.5 1306.2,654.2 1324.1,654.9 1342.1,654.9 1360.0,655.1 1378.0,655.0" stroke="#008eff" stroke-opacity="0.75" stroke-width="1.35"/><polyline points="677.6,648.7 695.5,620.0 713.5,630.5 731.4,639.4 749.4,615.1 767.4,592.3 785.3,595.4 803.3,637.4 821.2,621.6 839.2,616.2 857.2,608.0 875.1,489.6 893.1,515.9 911.0,485.7 929.0,599.2 947.0,588.5 964.9,588.3 982.9,609.2 1000.8,635.1 1018.8,642.2 1036.8,614.3 1054.7,622.1 1072.7,623.7 1090.6,626.3 1108.6,642.4 1126.6,628.3 1144.5,641.7 1162.5,641.5 1180.4,651.8 1198.4,645.4 1216.4,640.8 1234.3,649.5 1252.3,652.7 1270.2,655.2 1288.2,654.1 1306.2,654.9 1324.1,655.3 1342.1,654.8 1360.0,655.1 1378.0,655.3" stroke="#0089ff" stroke-opacity="0.75" stroke-width="1.35"/><polyline points="677.6,596.5 695.5,564.9 713.5,575.9 731.4,593.6 749.4,628.5 767.4,600.1 785.3,586.5 803.3,603.6 821.2,585.5 839.2,610.6 857.2,516.1 875.1,502.0 893.1,428.1 911.0,301.5 929.0,519.9 947.0,492.7 964.9,549.5 982.9,550.5 1000.8,595.3 1018.8,634.7 1036.8,610.2 1054.7,593.0 1072.7,594.8 1090.6,594.8 1108.6,631.6 1126.6,620.6 1144.5,620.1 1162.5,621.8 1180.4,646.5 1198.4,575.6 1216.4,627.1 1234.3,642.7 1252.3,649.2 1270.2,651.8 1288.2,653.7 1306.2,652.9 1324.1,654.3 1342.1,654.3 1360.0,655.0 1378.0,654.9" stroke="#0084ff" stroke-opacity="0.75" stroke-width="1.35"/><polyline points="677.6,586.9 695.5,550.8 713.5,554.2 731.4,507.6 749.4,589.5 767.4,535.9 785.3,551.5 803.3,545.9 821.2,530.7 839.2,579.3 857.2,464.5 875.1,407.8 893.1,332.6 911.0,363.5 929.0,501.4 947.0,386.7 964.9,444.8 982.9,525.5 1000.8,576.7 1018.8,602.5 1036.8,549.5 1054.7,545.1 1072.7,574.5 1090.6,579.3 1108.6,621.9 1126.6,572.9 1144.5,588.9 1162.5,573.7 1180.4,640.2 1198.4,546.6 1216.4,591.7 1234.3,641.6 1252.3,648.6 1270.2,652.3 1288.2,652.4 1306.2,653.3 1324.1,653.9 1342.1,653.7 1360.0,654.5 1378.0,654.9" stroke="#0080ff" stroke-opacity="0.75" stroke-width="1.35"/><polyline points="839.2,595.9 857.2,512.1 875.1,416.3 893.1,284.6 911.0,332.5 929.0,512.1 947.0,452.2" stroke="#0080ff" stroke-opacity="0.70" stroke-width="1.20"/><polyline points="677.6,637.5 695.5,640.1 713.5,631.1 731.4,607.2 749.4,643.9 767.4,616.3 785.3,607.1 803.3,608.9 821.2,604.0 839.2,635.0 857.2,589.2 875.1,548.7 893.1,544.4 911.0,500.9 929.0,575.5 947.0,523.7 964.9,584.3 982.9,607.7 1000.8,631.5 1018.8,648.0 1036.8,626.5 1054.7,626.3 1072.7,645.8 1090.6,635.3 1108.6,646.5 1126.6,644.7 1144.5,627.9 1162.5,648.1 1180.4,651.7 1198.4,649.9 1216.4,641.9 1234.3,651.6 1252.3,651.8 1270.2,653.6 1288.2,654.9 1306.2,654.8 1324.1,655.1 1342.1,655.0 1360.0,655.3 1378.0,655.1" stroke="#007bff" stroke-opacity="0.75" stroke-width="1.35"/><polyline points="677.6,633.8 695.5,614.8 713.5,604.3 731.4,589.5 749.4,622.9 767.4,598.7 785.3,633.7 803.3,631.9 821.2,598.9 839.2,625.0 857.2,551.9 875.1,531.1 893.1,455.5 911.0,444.1 929.0,583.4 947.0,437.6 964.9,554.5 982.9,592.9 1000.8,615.2 1018.8,643.2 1036.8,611.3 1054.7,611.3 1072.7,634.7 1090.6,601.4 1108.6,640.2 1126.6,610.6 1144.5,622.0 1162.5,623.6 1180.4,650.2 1198.4,609.9 1216.4,622.3 1234.3,648.5 1252.3,652.1 1270.2,652.9 1288.2,654.6 1306.2,654.7 1324.1,654.6 1342.1,654.8 1360.0,655.1 1378.0,655.0" stroke="#0076ff" stroke-opacity="0.75" stroke-width="1.35"/><polyline points="677.6,584.2 695.5,548.3 713.5,595.9 731.4,531.7 749.4,574.5 767.4,551.3 785.3,533.4 803.3,550.6 821.2,538.9 839.2,606.3 857.2,511.0 875.1,374.4 893.1,361.2 911.0,317.2 929.0,521.9 947.0,389.2 964.9,471.5 982.9,517.6 1000.8,577.5 1018.8,626.8 1036.8,555.6 1054.7,562.8 1072.7,550.2 1090.6,581.3 1108.6,620.8 1126.6,586.6 1144.5,589.7 1162.5,570.4 1180.4,633.6 1198.4,559.0 1216.4,604.3 1234.3,630.7 1252.3,649.1 1270.2,650.8 1288.2,653.0 1306.2,653.8 1324.1,653.1 1342.1,654.0 1360.0,654.0 1378.0,654.4" stroke="#0071ff" stroke-opacity="0.75" stroke-width="1.35"/><polyline points="677.6,617.0 695.5,608.5 713.5,596.8 731.4,574.6 749.4,626.9 767.4,635.9 785.3,611.1 803.3,615.3 821.2,596.8 839.2,618.9 857.2,550.2 875.1,549.3 893.1,493.1 911.0,398.5 929.0,561.0 947.0,455.6 964.9,550.9 982.9,565.3 1000.8,601.6 1018.8,635.8 1036.8,604.7 1054.7,609.5 1072.7,606.6 1090.6,634.4 1108.6,641.7 1126.6,592.6 1144.5,600.4 1162.5,614.2 1180.4,649.4 1198.4,613.7 1216.4,612.3 1234.3,644.9 1252.3,650.8 1270.2,653.0 1288.2,654.2 1306.2,654.7 1324.1,654.9 1342.1,654.6 1360.0,654.8 1378.0,654.9" stroke="#006cff" stroke-opacity="0.75" stroke-width="1.35"/><polyline points="677.6,604.3 695.5,574.6 713.5,606.0 731.4,587.9 749.4,607.9 767.4,598.3 785.3,570.5 803.3,568.1 821.2,552.3 839.2,614.3 857.2,545.7 875.1,491.0 893.1,461.2 911.0,430.0 929.0,575.0 947.0,497.7 964.9,518.6 982.9,581.9 1000.8,609.9 1018.8,637.2 1036.8,592.7 1054.7,620.9 1072.7,592.6 1090.6,587.6 1108.6,634.2 1126.6,557.8 1144.5,580.5 1162.5,628.4 1180.4,646.6 1198.4,575.0 1216.4,625.8 1234.3,643.8 1252.3,651.5 1270.2,651.7 1288.2,652.9 1306.2,654.7 1324.1,654.6 1342.1,654.7 1360.0,655.1 1378.0,654.8" stroke="#0068ff" stroke-opacity="0.75" stroke-width="1.35"/><polyline points="677.6,568.3 695.5,544.1 713.5,554.8 731.4,529.7 749.4,584.2 767.4,519.1 785.3,557.0 803.3,545.3 821.2,505.1 839.2,595.5 857.2,441.8 875.1,388.7 893.1,429.1 911.0,226.6 929.0,540.5 947.0,390.0 964.9,487.2 982.9,511.9 1000.8,535.2 1018.8,601.2 1036.8,533.1 1054.7,553.3 1072.7,576.8 1090.6,562.6 1108.6,619.0 1126.6,503.5 1144.5,538.1 1162.5,586.1 1180.4,639.5 1198.4,535.3 1216.4,591.5 1234.3,639.1 1252.3,649.4 1270.2,651.6 1288.2,653.1 1306.2,653.2 1324.1,653.7 1342.1,654.1 1360.0,654.5 1378.0,654.5" stroke="#0063ff" stroke-opacity="0.75" stroke-width="1.35"/><polyline points="749.4,595.9 767.4,512.1 785.3,431.9 803.3,442.6 821.2,442.6 839.2,571.9 857.2,512.1" stroke="#0061ff" stroke-opacity="0.70" stroke-width="1.20"/><polyline points="677.6,629.1 695.5,610.1 713.5,635.1 731.4,605.6 749.4,628.8 767.4,594.2 785.3,628.4 803.3,626.8 821.2,604.2 839.2,625.2 857.2,605.9 875.1,568.1 893.1,524.5 911.0,457.8 929.0,575.4 947.0,568.3 964.9,563.7 982.9,594.7 1000.8,625.7 1018.8,645.4 1036.8,621.8 1054.7,628.1 1072.7,621.4 1090.6,647.6 1108.6,639.3 1126.6,598.7 1144.5,629.4 1162.5,644.4 1180.4,648.8 1198.4,615.4 1216.4,647.4 1234.3,650.3 1252.3,653.5 1270.2,655.1 1288.2,654.8 1306.2,654.6 1324.1,654.4 1342.1,655.3 1360.0,655.2 1378.0,655.3" stroke="#005eff" stroke-opacity="0.75" stroke-width="1.35"/><polyline points="677.6,621.8 695.5,556.0 713.5,593.4 731.4,607.0 749.4,609.2 767.4,595.9 785.3,602.3 803.3,576.6 821.2,548.5 839.2,608.0 857.2,582.1 875.1,461.1 893.1,389.8 911.0,488.8 929.0,550.4 947.0,529.8 964.9,525.5 982.9,563.5 1000.8,603.0 1018.8,619.0 1036.8,598.3 1054.7,581.3 1072.7,615.5 1090.6,623.2 1108.6,639.8 1126.6,624.5 1144.5,600.6 1162.5,627.8 1180.4,648.0 1198.4,606.8 1216.4,639.6 1234.3,643.8 1252.3,651.2 1270.2,654.2 1288.2,654.6 1306.2,654.1 1324.1,654.6 1342.1,654.9 1360.0,655.0 1378.0,655.3" stroke="#0059ff" stroke-opacity="0.75" stroke-width="1.35"/><polyline points="677.6,638.7 695.5,609.4 713.5,641.5 731.4,633.8 749.4,638.2 767.4,612.6 785.3,609.8 803.3,620.9 821.2,622.7 839.2,634.3 857.2,615.2 875.1,576.8 893.1,509.2 911.0,448.9 929.0,609.3 947.0,486.5 964.9,497.4 982.9,615.6 1000.8,629.7 1018.8,643.5 1036.8,619.0 1054.7,647.2 1072.7,609.4 1090.6,622.3 1108.6,647.3 1126.6,637.4 1144.5,650.0 1162.5,646.3 1180.4,654.3 1198.4,635.8 1216.4,651.2 1234.3,655.3 1252.3,652.5 1270.2,653.4 1288.2,655.3 1306.2,655.0 1324.1,655.3 1342.1,655.1 1360.0,655.3 1378.0,655.1" stroke="#0055ff" stroke-opacity="0.75" stroke-width="1.35"/><polyline points="677.6,615.2 695.5,570.4 713.5,569.9 731.4,546.8 749.4,591.4 767.4,561.9 785.3,571.5 803.3,588.9 821.2,564.0 839.2,604.2 857.2,523.0 875.1,464.7 893.1,393.3 911.0,398.2 929.0,567.2 947.0,392.8 964.9,519.0 982.9,577.2 1000.8,586.3 1018.8,621.9 1036.8,571.5 1054.7,574.3 1072.7,575.2 1090.6,580.0 1108.6,632.4 1126.6,602.9 1144.5,589.3 1162.5,595.4 1180.4,643.2 1198.4,562.8 1216.4,618.8 1234.3,641.3 1252.3,648.6 1270.2,653.6 1288.2,653.7 1306.2,653.8 1324.1,654.9 1342.1,654.8 1360.0,655.0 1378.0,654.9" stroke="#0050ff" stroke-opacity="0.75" stroke-width="1.35"/><polyline points="929.0,512.1 947.0,332.5 964.9,380.4 982.9,476.2 1000.8,548.0 1018.8,619.8" stroke="#004dff" stroke-opacity="0.60" stroke-width="1.10"/><polyline points="677.6,583.9 695.5,478.5 713.5,478.5 731.4,489.3 749.4,595.9 767.4,536.0 785.3,559.9 803.3,559.9 821.2,536.0 839.2,607.8" stroke="#004dff" stroke-opacity="0.75" stroke-width="1.30"/><polyline points="677.6,613.8 695.5,605.4 713.5,584.7 731.4,579.4 749.4,614.4 767.4,579.2 785.3,555.8 803.3,602.6 821.2,612.3 839.2,624.2 857.2,598.8 875.1,529.0 893.1,437.3 911.0,402.2 929.0,560.0 947.0,477.3 964.9,533.0 982.9,561.2 1000.8,611.1 1018.8,624.5 1036.8,606.2 1054.7,623.1 1072.7,620.4 1090.6,589.2 1108.6,640.9 1126.6,616.2 1144.5,595.8 1162.5,625.6 1180.4,648.2 1198.4,623.8 1216.4,636.7 1234.3,651.5 1252.3,651.9 1270.2,652.8 1288.2,653.7 1306.2,654.7 1324.1,654.9 1342.1,654.6 1360.0,654.8 1378.0,655.0" stroke="#004bff" stroke-opacity="0.75" stroke-width="1.35"/><polyline points="677.6,573.6 695.5,579.1 713.5,575.4 731.4,569.0 749.4,604.7 767.4,569.5 785.3,558.2 803.3,569.9 821.2,581.9 839.2,591.3 857.2,538.6 875.1,399.2 893.1,408.5 911.0,422.5 929.0,524.0 947.0,408.7 964.9,525.8 982.9,494.6 1000.8,560.1 1018.8,626.0 1036.8,572.3 1054.7,610.4 1072.7,598.8 1090.6,606.4 1108.6,624.8 1126.6,575.6 1144.5,594.2 1162.5,623.0 1180.4,644.4 1198.4,583.6 1216.4,624.1 1234.3,633.5 1252.3,650.1 1270.2,650.5 1288.2,653.2 1306.2,653.7 1324.1,654.0 1342.1,654.5 1360.0,654.7 1378.0,654.9" stroke="#0046ff" stroke-opacity="0.75" stroke-width="1.35"/><polyline points="677.6,646.0 695.5,638.4 713.5,633.6 731.4,607.2 749.4,628.1 767.4,636.6 785.3,630.3 803.3,636.9 821.2,612.4 839.2,633.7 857.2,605.2 875.1,586.4 893.1,512.8 911.0,490.8 929.0,588.2 947.0,556.7 964.9,580.7 982.9,605.2 1000.8,631.4 1018.8,650.3 1036.8,616.7 1054.7,628.0 1072.7,643.1 1090.6,645.4 1108.6,652.3 1126.6,632.8 1144.5,640.2 1162.5,642.9 1180.4,652.3 1198.4,640.0 1216.4,653.7 1234.3,652.8 1252.3,654.5 1270.2,655.3 1288.2,655.2 1306.2,655.0 1324.1,655.0 1342.1,655.3 1360.0,655.3 1378.0,655.2" stroke="#0042ff" stroke-opacity="0.75" stroke-width="1.35"/><polyline points="677.6,626.6 695.5,577.2 713.5,606.2 731.4,580.2 749.4,613.9 767.4,592.8 785.3,584.2 803.3,569.1 821.2,600.2 839.2,615.3 857.2,559.8 875.1,480.6 893.1,379.5 911.0,385.2 929.0,551.0 947.0,474.6 964.9,529.5 982.9,541.4 1000.8,582.2 1018.8,629.0 1036.8,579.9 1054.7,608.2 1072.7,623.5 1090.6,582.3 1108.6,632.6 1126.6,548.5 1144.5,613.7 1162.5,626.7 1180.4,649.0 1198.4,600.4 1216.4,618.6 1234.3,646.7 1252.3,650.4 1270.2,652.3 1288.2,653.9 1306.2,653.9 1324.1,654.6 1342.1,654.8 1360.0,655.0 1378.0,655.0" stroke="#003dff" stroke-opacity="0.75" stroke-width="1.35"/><polyline points="749.4,607.8 767.4,469.0 785.3,434.3 803.3,418.7 821.2,416.3 839.2,554.0 857.2,500.1" stroke="#0038ff" stroke-opacity="0.70" stroke-width="1.20"/><polyline points="677.6,608.7 695.5,636.6 713.5,621.1 731.4,627.2 749.4,640.3 767.4,614.9 785.3,586.2 803.3,613.9 821.2,637.2 839.2,632.9 857.2,579.8 875.1,577.7 893.1,531.0 911.0,514.8 929.0,588.9 947.0,546.4 964.9,570.9 982.9,603.2 1000.8,632.3 1018.8,641.1 1036.8,646.6 1054.7,626.1 1072.7,624.5 1090.6,608.5 1108.6,648.8 1126.6,626.2 1144.5,648.8 1162.5,637.5 1180.4,654.5 1198.4,621.3 1216.4,645.0 1234.3,654.7 1252.3,653.8 1270.2,654.9 1288.2,654.9 1306.2,655.2 1324.1,655.3 1342.1,655.1 1360.0,655.0 1378.0,655.0" stroke="#0038ff" stroke-opacity="0.75" stroke-width="1.35"/><polyline points="677.6,570.7 695.5,564.3 713.5,548.2 731.4,493.5 749.4,580.8 767.4,543.0 785.3,564.6 803.3,558.7 821.2,487.9 839.2,598.4 857.2,541.2 875.1,433.5 893.1,436.8 911.0,312.8 929.0,554.3 947.0,408.0 964.9,497.1 982.9,532.7 1000.8,554.7 1018.8,611.1 1036.8,506.1 1054.7,567.8 1072.7,563.0 1090.6,564.8 1108.6,612.3 1126.6,557.5 1144.5,547.5 1162.5,593.7 1180.4,639.5 1198.4,537.9 1216.4,596.0 1234.3,635.1 1252.3,647.8 1270.2,651.1 1288.2,652.2 1306.2,653.5 1324.1,653.1 1342.1,654.3 1360.0,654.5 1378.0,654.8" stroke="#0033ff" stroke-opacity="0.75" stroke-width="1.35"/><polyline points="677.6,620.8 695.5,629.1 713.5,624.9 731.4,635.0 749.4,634.2 767.4,625.1 785.3,608.5 803.3,634.4 821.2,628.3 839.2,618.7 857.2,606.7 875.1,508.3 893.1,539.1 911.0,521.2 929.0,585.9 947.0,533.5 964.9,568.9 982.9,621.1 1000.8,639.8 1018.8,635.2 1036.8,637.6 1054.7,624.4 1072.7,629.1 1090.6,629.6 1108.6,652.2 1126.6,649.9 1144.5,651.8 1162.5,636.5 1180.4,653.2 1198.4,653.0 1216.4,637.9 1234.3,651.9 1252.3,654.2 1270.2,655.3 1288.2,654.7 1306.2,655.3 1324.1,655.1 1342.1,655.1 1360.0,655.1 1378.0,655.2" stroke="#002eff" stroke-opacity="0.75" stroke-width="1.35"/><polyline points="677.6,608.7 695.5,607.3 713.5,591.2 731.4,567.2 749.4,603.2 767.4,620.6 785.3,606.1 803.3,585.4 821.2,567.1 839.2,607.9 857.2,540.2 875.1,508.2 893.1,479.1 911.0,311.0 929.0,556.5 947.0,496.4 964.9,535.3 982.9,555.5 1000.8,593.3 1018.8,633.9 1036.8,616.4 1054.7,602.3 1072.7,587.3 1090.6,593.5 1108.6,639.0 1126.6,596.0 1144.5,615.7 1162.5,636.6 1180.4,648.0 1198.4,601.6 1216.4,619.0 1234.3,649.4 1252.3,647.2 1270.2,652.4 1288.2,654.2 1306.2,653.8 1324.1,654.2 1342.1,654.6 1360.0,654.5 1378.0,655.1" stroke="#002aff" stroke-opacity="0.75" stroke-width="1.35"/><polyline points="677.6,639.0 695.5,633.0 713.5,633.3 731.4,639.1 749.4,637.9 767.4,635.0 785.3,639.1 803.3,628.9 821.2,636.9 839.2,633.3 857.2,577.9 875.1,549.9 893.1,522.4 911.0,545.0 929.0,595.3 947.0,557.7 964.9,581.9 982.9,622.2 1000.8,618.2 1018.8,647.2 1036.8,626.7 1054.7,639.7 1072.7,638.8 1090.6,646.6 1108.6,653.0 1126.6,618.5 1144.5,634.2 1162.5,652.7 1180.4,648.9 1198.4,622.0 1216.4,654.5 1234.3,651.9 1252.3,653.8 1270.2,655.3 1288.2,655.3 1306.2,655.3 1324.1,655.3 1342.1,655.3 1360.0,655.3 1378.0,655.2" stroke="#0025ff" stroke-opacity="0.75" stroke-width="1.35"/><polyline points="677.6,638.1 695.5,585.4 713.5,629.1 731.4,614.1 749.4,626.5 767.4,585.2 785.3,611.8 803.3,609.3 821.2,560.3 839.2,621.1 857.2,579.9 875.1,529.7 893.1,515.2 911.0,498.3 929.0,585.0 947.0,485.8 964.9,552.1 982.9,594.5 1000.8,609.0 1018.8,634.6 1036.8,611.2 1054.7,616.5 1072.7,646.1 1090.6,628.6 1108.6,646.0 1126.6,612.3 1144.5,627.5 1162.5,643.2 1180.4,649.9 1198.4,635.5 1216.4,647.9 1234.3,649.7 1252.3,652.3 1270.2,653.6 1288.2,653.9 1306.2,655.1 1324.1,654.8 1342.1,655.2 1360.0,655.1 1378.0,655.3" stroke="#0020ff" stroke-opacity="0.75" stroke-width="1.35"/><polyline points="677.6,586.7 695.5,586.6 713.5,603.6 731.4,602.0 749.4,601.3 767.4,591.2 785.3,591.3 803.3,593.8 821.2,562.0 839.2,611.5 857.2,539.3 875.1,533.5 893.1,468.5 911.0,357.1 929.0,534.8 947.0,408.4 964.9,519.7 982.9,550.5 1000.8,596.0 1018.8,623.2 1036.8,533.2 1054.7,578.0 1072.7,612.6 1090.6,605.3 1108.6,640.0 1126.6,567.5 1144.5,573.7 1162.5,609.8 1180.4,646.6 1198.4,623.9 1216.4,617.0 1234.3,643.6 1252.3,649.8 1270.2,653.8 1288.2,652.8 1306.2,654.7 1324.1,654.1 1342.1,654.4 1360.0,654.4 1378.0,655.1" stroke="#001bff" stroke-opacity="0.75" stroke-width="1.35"/><polyline points="677.6,619.8 695.5,548.0 713.5,495.3 731.4,392.4 749.4,583.9 767.4,536.0 785.3,571.9 803.3,571.9 821.2,548.0 839.2,619.8 857.2,536.0" stroke="#0019ff" stroke-opacity="0.60" stroke-width="1.10"/><polyline points="857.2,476.2 875.1,356.5 893.1,224.8 911.0,284.6 929.0,416.3 947.0,404.3 964.9,476.2" stroke="#0019ff" stroke-opacity="0.60" stroke-width="1.10"/><polyline points="677.6,570.8 695.5,563.9 713.5,580.2 731.4,574.3 749.4,596.1 767.4,514.4 785.3,583.4 803.3,535.1 821.2,550.0 839.2,607.4 857.2,524.4 875.1,459.2 893.1,445.6 911.0,372.6 929.0,464.0 947.0,461.4 964.9,515.6 982.9,527.4 1000.8,593.8 1018.8,622.0 1036.8,595.1 1054.7,579.3 1072.7,591.5 1090.6,570.8 1108.6,639.4 1126.6,592.1 1144.5,582.1 1162.5,619.8 1180.4,647.7 1198.4,598.3 1216.4,608.2 1234.3,643.2 1252.3,649.1 1270.2,651.8 1288.2,653.0 1306.2,653.8 1324.1,653.8 1342.1,654.6 1360.0,654.5 1378.0,654.9" stroke="#0017ff" stroke-opacity="0.75" stroke-width="1.35"/><polyline points="677.6,627.7 695.5,585.8 713.5,618.3 731.4,584.7 749.4,634.8 767.4,621.6 785.3,627.5 803.3,609.7 821.2,618.9 839.2,637.2 857.2,571.3 875.1,554.6 893.1,515.9 911.0,456.0 929.0,543.4 947.0,479.0 964.9,590.5 982.9,611.9 1000.8,622.2 1018.8,637.8 1036.8,610.8 1054.7,608.8 1072.7,632.1 1090.6,599.5 1108.6,633.3 1126.6,611.5 1144.5,611.7 1162.5,635.1 1180.4,654.4 1198.4,636.4 1216.4,639.1 1234.3,648.8 1252.3,651.4 1270.2,654.3 1288.2,654.8 1306.2,655.1 1324.1,654.9 1342.1,655.1 1360.0,655.1 1378.0,655.1" stroke="#0012ff" stroke-opacity="0.75" stroke-width="1.35"/><polyline points="677.6,549.9 695.5,528.2 713.5,540.4 731.4,534.1 749.4,582.3 767.4,545.7 785.3,538.9 803.3,548.2 821.2,532.5 839.2,578.4 857.2,474.0 875.1,421.4 893.1,270.6 911.0,312.3 929.0,518.4 947.0,418.1 964.9,478.1 982.9,485.9 1000.8,536.4 1018.8,606.4 1036.8,515.6 1054.7,544.3 1072.7,568.3 1090.6,535.5 1108.6,614.9 1126.6,554.9 1144.5,525.0 1162.5,568.7 1180.4,637.1 1198.4,575.0 1216.4,586.9 1234.3,635.9 1252.3,644.9 1270.2,651.0 1288.2,652.4 1306.2,653.3 1324.1,653.2 1342.1,653.9 1360.0,654.4 1378.0,654.6" stroke="#000dff" stroke-opacity="0.75" stroke-width="1.35"/><polyline points="677.6,649.5 695.5,624.4 713.5,637.8 731.4,600.2 749.4,617.2 767.4,637.8 785.3,627.6 803.3,633.2 821.2,634.0 839.2,630.5 857.2,602.4 875.1,572.4 893.1,496.4 911.0,518.5 929.0,601.0 947.0,528.1 964.9,568.8 982.9,600.5 1000.8,618.1 1018.8,639.4 1036.8,629.7 1054.7,615.4 1072.7,648.6 1090.6,647.5 1108.6,647.5 1126.6,648.2 1144.5,627.4 1162.5,644.3 1180.4,649.1 1198.4,636.3 1216.4,648.7 1234.3,652.3 1252.3,652.9 1270.2,654.9 1288.2,655.3 1306.2,654.7 1324.1,655.1 1342.1,655.1 1360.0,655.1 1378.0,655.3" stroke="#0008ff" stroke-opacity="0.75" stroke-width="1.35"/><polyline points="677.6,563.7 695.5,562.0 713.5,556.2 731.4,489.5 749.4,594.9 767.4,524.6 785.3,545.9 803.3,524.9 821.2,505.3 839.2,577.3 857.2,458.8 875.1,447.7 893.1,405.1 911.0,395.5 929.0,494.2 947.0,459.9 964.9,412.7 982.9,511.0 1000.8,562.2 1018.8,619.6 1036.8,512.0 1054.7,575.0 1072.7,587.1 1090.6,550.0 1108.6,626.9 1126.6,532.6 1144.5,580.1 1162.5,588.3 1180.4,634.4 1198.4,582.7 1216.4,576.7 1234.3,633.9 1252.3,646.0 1270.2,650.2 1288.2,653.1 1306.2,652.2 1324.1,654.1 1342.1,653.9 1360.0,654.6 1378.0,654.5" stroke="#0004ff" stroke-opacity="0.75" stroke-width="1.35"/><polyline points="677.6,598.2 695.5,587.0 713.5,558.9 731.4,583.7 749.4,604.5 767.4,559.7 785.3,578.3 803.3,574.5 821.2,583.0 839.2,609.4 857.2,537.9 875.1,484.7 893.1,394.6 911.0,429.6 929.0,519.3 947.0,484.6 964.9,533.5 982.9,558.0 1000.8,596.6 1018.8,618.9 1036.8,594.4 1054.7,565.5 1072.7,593.0 1090.6,563.3 1108.6,631.3 1126.6,569.5 1144.5,609.1 1162.5,615.8 1180.4,645.0 1198.4,595.4 1216.4,600.5 1234.3,640.0 1252.3,650.9 1270.2,652.7 1288.2,653.4 1306.2,653.4 1324.1,654.4 1342.1,654.6 1360.0,654.8 1378.0,654.8" stroke="#0000ff" stroke-opacity="0.75" stroke-width="1.35"/><polyline points="749.4,595.9 767.4,464.2 785.3,435.5 803.3,445.0 821.2,416.3 839.2,583.9 857.2,512.1" stroke="#0000ff" stroke-opacity="0.60" stroke-width="1.10"/><polyline points="875.1,416.3 893.1,332.5 911.0,254.7 929.0,476.2 947.0,416.3" stroke="#0000ff" stroke-opacity="0.60" stroke-width="1.10"/><polyline points="1108.6,631.8 1126.6,452.2 1144.5,464.2 1162.5,583.9" stroke="#0000ff" stroke-opacity="0.60" stroke-width="1.10"/></g></g>
<rect x="642.5" y="82.5" width="770.8" height="600.8" fill="none" stroke="#000" stroke-width="1.5"/>
<line x1="659.6" y1="683.3" x2="659.6" y2="688.3" stroke="#000" stroke-width="1.5"/>
<text stroke-width="0.7" x="660.1" y="717.6" font-family="Liberation Serif" stroke="#fff" font-size="36" text-anchor="middle">0.0</text>
<line x1="749.4" y1="683.3" x2="749.4" y2="688.3" stroke="#000" stroke-width="1.5"/>
<text stroke-width="0.7" x="749.9" y="717.6" font-family="Liberation Serif" stroke="#fff" font-size="36" text-anchor="middle">2.5</text>
<line x1="839.2" y1="683.3" x2="839.2" y2="688.3" stroke="#000" stroke-width="1.5"/>
<text stroke-width="0.7" x="839.7" y="717.6" font-family="Liberation Serif" stroke="#fff" font-size="36" text-anchor="middle">5.0</text>
<line x1="929.0" y1="683.3" x2="929.0" y2="688.3" stroke="#000" stroke-width="1.5"/>
<text stroke-width="0.7" x="929.5" y="717.6" font-family="Liberation Serif" stroke="#fff" font-size="36" text-anchor="middle">7.5</text>
<line x1="1018.8" y1="683.3" x2="1018.8" y2="688.3" stroke="#000" stroke-width="1.5"/>
<text stroke-width="0.7" x="1019.3" y="717.6" font-family="Liberation Serif" stroke="#fff" font-size="36" text-anchor="middle">10.0</text>
<line x1="1108.6" y1="683.3" x2="1108.6" y2="688.3" stroke="#000" stroke-width="1.5"/>
<text stroke-width="0.7" x="1109.1" y="717.6" font-family="Liberation Serif" stroke="#fff" font-size="36" text-anchor="middle">12.5</text>
<line x1="1198.4" y1="683.3" x2="1198.4" y2="688.3" stroke="#000" stroke-width="1.5"/>
<text stroke-width="0.7" x="1198.9" y="717.6" font-family="Liberation Serif" stroke="#fff" font-size="36" text-anchor="middle">15.0</text>
<line x1="1288.2" y1="683.3" x2="1288.2" y2="688.3" stroke="#000" stroke-width="1.5"/>
<text stroke-width="0.7" x="1288.7" y="717.6" font-family="Liberation Serif" stroke="#fff" font-size="36" text-anchor="middle">17.5</text>
<line x1="1378.0" y1="683.3" x2="1378.0" y2="688.3" stroke="#000" stroke-width="1.5"/>
<text stroke-width="0.7" x="1378.5" y="717.6" font-family="Liberation Serif" stroke="#fff" font-size="36" text-anchor="middle">20.0</text>
<line x1="637.5" y1="655.7" x2="642.5" y2="655.7" stroke="#000" stroke-width="1.5"/>
<text stroke-width="0.7" x="634" y="669.0" font-family="Liberation Serif" stroke="#fff" font-size="36" text-anchor="end">0.0</text>
<line x1="637.5" y1="536.0" x2="642.5" y2="536.0" stroke="#000" stroke-width="1.5"/>
<text stroke-width="0.7" x="634" y="549.3" font-family="Liberation Serif" stroke="#fff" font-size="36" text-anchor="end">0.1</text>
<line x1="637.5" y1="416.3" x2="642.5" y2="416.3" stroke="#000" stroke-width="1.5"/>
<text stroke-width="0.7" x="634" y="429.6" font-family="Liberation Serif" stroke="#fff" font-size="36" text-anchor="end">0.2</text>
<line x1="637.5" y1="296.6" x2="642.5" y2="296.6" stroke="#000" stroke-width="1.5"/>
<text stroke-width="0.7" x="634" y="309.9" font-family="Liberation Serif" stroke="#fff" font-size="36" text-anchor="end">0.3</text>
<line x1="637.5" y1="176.9" x2="642.5" y2="176.9" stroke="#000" stroke-width="1.5"/>
<text stroke-width="0.7" x="634" y="190.2" font-family="Liberation Serif" stroke="#fff" font-size="36" text-anchor="end">0.4</text>
<text stroke-width="0.7" x="1027" y="766" font-family="Liberation Serif" stroke="#fff" font-size="51" text-anchor="middle"><tspan font-style="italic">v</tspan>(m/s)</text>
<text stroke-width="0.7" transform="translate(572,384) rotate(-90)" font-family="Liberation Serif" stroke="#fff" font-size="51" text-anchor="middle"><tspan font-style="italic">ρ</tspan><tspan font-size="34" dy="8">total</tspan><tspan dy="-8">(</tspan><tspan font-style="italic">v</tspan>)</text>
<text stroke-width="0.7" x="216.5" y="56.5" font-family="Liberation Serif" stroke="#fff" font-size="43" text-anchor="middle">(a)</text>
<text stroke-width="0.7" x="1306" y="189.5" font-family="Liberation Serif" stroke="#fff" font-size="43" text-anchor="middle">(b)</text>
</svg>
</body></html>
